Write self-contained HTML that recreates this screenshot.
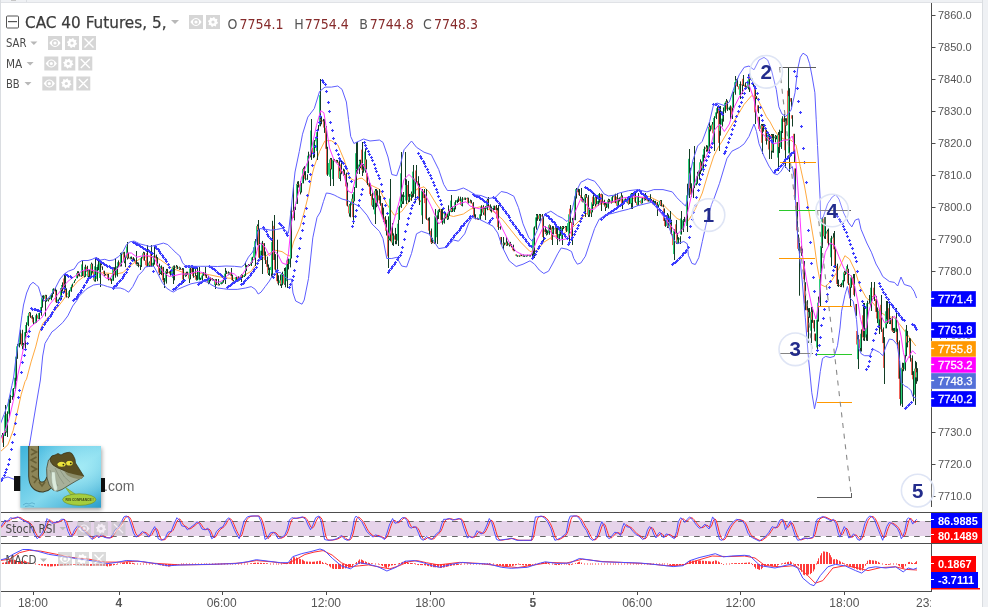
<!DOCTYPE html>
<html><head><meta charset="utf-8"><style>
html,body{margin:0;padding:0;background:#fff;}
#root{position:relative;width:988px;height:607px;overflow:hidden;}
</style></head><body><div id="root">
<svg width="988" height="607" viewBox="0 0 988 607" style="position:absolute;left:0;top:0">
<rect x="0" y="0" width="988" height="607" fill="#ffffff"/>
<rect x="0" y="0" width="988" height="2" fill="#eff1f4"/>
<rect x="0" y="2" width="983" height="1" fill="#e0e2e6"/>
<rect x="11" y="0" width="5" height="1" fill="#c6c6c6"/>
<rect x="26" y="0" width="1" height="2" fill="#dcdfe3"/>
<rect x="0" y="0" width="1" height="607" fill="#dadde1"/>
<rect x="982" y="0" width="1" height="607" fill="#dadde1"/>
<rect x="983" y="0" width="5" height="607" fill="#eff1f4"/>
<defs><clipPath id="cm"><rect x="1" y="3" width="930" height="509"/></clipPath><clipPath id="cs"><rect x="1" y="513" width="930" height="30"/></clipPath><clipPath id="cd"><rect x="1" y="544" width="930" height="47"/></clipPath><filter id="sh" x="-20%" y="-20%" width="140%" height="140%"><feGaussianBlur stdDeviation="2"/></filter></defs>
<g clip-path="url(#cm)">
<polyline points="0.0,451.5 0.7,451.4 7.9,444.8 13.2,430.3 17.1,413.2 21.1,394.8 25.0,381.6 26.5,379.2 31.1,361.9 35.7,346.9 39.2,333.0 42.7,323.8 48.4,316.9 54.2,311.2 61.2,302.7 69.4,291.2 77.7,281.3 85.9,275.0 94.1,273.0 102.0,272.8 109.0,273.3 116.0,274.0 123.0,272.6 128.6,267.0 134.2,262.8 141.2,257.9 148.2,256.5 155.2,257.2 160.8,260.0 166.4,264.2 172.0,268.4 180.0,271.2 184.0,273.0 198.0,273.3 209.2,274.7 219.0,276.8 228.8,278.2 237.2,278.2 244.2,275.4 251.2,271.2 256.8,262.8 262.4,258.6 268.0,254.4 275.0,250.2 282.0,251.6 287.0,255.0 290.0,256.0 293.5,242.0 300.0,227.0 304.2,212.0 308.5,195.0 312.0,175.0 314.3,166.4 319.6,151.4 325.0,140.7 331.4,140.7 337.8,145.0 344.2,160.0 349.8,178.0 354.7,180.7 359.2,178.5 362.0,178.2 369.5,184.4 379.4,189.3 386.8,204.0 394.2,215.2 401.7,211.5 409.0,201.7 416.5,189.3 424.0,186.8 428.8,191.8 436.3,204.0 443.7,214.0 453.5,216.5 463.4,214.0 470.8,209.0 481.5,206.5 493.0,211.2 502.3,219.2 511.5,230.8 520.8,242.3 530.0,251.5 537.0,250.4 543.8,242.3 553.0,236.5 562.3,234.2 571.5,228.5 580.8,219.2 590.0,210.0 599.2,204.2 608.5,203.0 616.0,202.0 623.8,200.0 637.7,197.7 649.2,196.5 660.7,202.3 670.0,211.5 677.0,218.4 683.8,221.9 688.4,220.7 695.3,209.2 702.3,193.0 709.2,170.0 713.8,156.0 718.4,147.0 722.0,141.4 729.4,129.0 736.8,116.7 744.2,104.3 751.6,95.7 756.5,97.0 761.5,106.8 766.4,116.7 770.0,121.8 773.8,129.0 778.8,136.4 783.7,138.9 791.0,140.1 796.0,145.0 800.3,166.6 804.3,185.0 807.0,200.0 809.2,213.0 813.8,240.7 817.2,266.0 820.7,284.5 825.3,286.8 832.2,279.9 839.0,268.3 844.9,255.7 849.5,259.1 854.8,270.0 859.8,286.0 866.4,298.0 873.0,303.0 879.5,311.2 886.1,316.1 894.4,317.8 901.0,326.0 905.9,332.6 910.8,339.2 915.8,346.0" fill="none" stroke="#ffa93f" stroke-width="1" stroke-linejoin="round" />
<rect x="2" y="433.0" width="1" height="4.7" fill="#133d25"/><rect x="1" y="435.1" width="1" height="2.0" fill="#2bd27a"/><rect x="3" y="433.7" width="1" height="13.3" fill="#133d25"/><rect x="2" y="435.1" width="1" height="7.6" fill="#f2645a"/><rect x="5" y="405.0" width="1" height="31.0" fill="#133d25"/><rect x="4" y="415.3" width="1" height="20.7" fill="#2bd27a"/><rect x="6" y="427.5" width="1" height="5.0" fill="#133d25"/><rect x="5" y="430.8" width="1" height="1.0" fill="#f2645a"/><rect x="7" y="411.3" width="1" height="25.7" fill="#133d25"/><rect x="6" y="413.8" width="1" height="17.7" fill="#2bd27a"/><rect x="9" y="398.5" width="1" height="19.0" fill="#133d25"/><rect x="8" y="399.3" width="1" height="14.5" fill="#2bd27a"/><rect x="10" y="394.7" width="1" height="8.3" fill="#133d25"/><rect x="9" y="396.6" width="1" height="2.7" fill="#2bd27a"/><rect x="12" y="393.2" width="1" height="6.5" fill="#133d25"/><rect x="11" y="396.0" width="1" height="1.0" fill="#2bd27a"/><rect x="13" y="388.0" width="1" height="9.4" fill="#133d25"/><rect x="12" y="388.8" width="1" height="7.2" fill="#2bd27a"/><rect x="15" y="375.2" width="1" height="15.6" fill="#133d25"/><rect x="14" y="377.7" width="1" height="11.1" fill="#2bd27a"/><rect x="16" y="353.1" width="1" height="28.0" fill="#133d25"/><rect x="15" y="356.7" width="1" height="21.0" fill="#2bd27a"/><rect x="17" y="344.0" width="1" height="14.8" fill="#133d25"/><rect x="16" y="346.3" width="1" height="10.4" fill="#2bd27a"/><rect x="19" y="339.0" width="1" height="8.4" fill="#133d25"/><rect x="18" y="343.1" width="1" height="3.2" fill="#2bd27a"/><rect x="20" y="329.7" width="1" height="14.7" fill="#133d25"/><rect x="19" y="333.5" width="1" height="9.6" fill="#2bd27a"/><rect x="22" y="329.8" width="1" height="19.4" fill="#133d25"/><rect x="21" y="333.5" width="1" height="12.6" fill="#f2645a"/><rect x="23" y="343.0" width="1" height="6.5" fill="#133d25"/><rect x="22" y="344.9" width="1" height="1.2" fill="#2bd27a"/><rect x="25" y="328.3" width="1" height="20.7" fill="#133d25"/><rect x="24" y="332.1" width="1" height="12.8" fill="#2bd27a"/><rect x="26" y="322.3" width="1" height="10.6" fill="#133d25"/><rect x="25" y="325.0" width="1" height="7.1" fill="#2bd27a"/><rect x="28" y="314.6" width="1" height="11.6" fill="#133d25"/><rect x="27" y="315.8" width="1" height="9.3" fill="#2bd27a"/><rect x="29" y="312.0" width="1" height="4.2" fill="#133d25"/><rect x="28" y="312.9" width="1" height="2.9" fill="#2bd27a"/><rect x="30" y="312.4" width="1" height="5.4" fill="#133d25"/><rect x="29" y="312.9" width="1" height="3.0" fill="#f2645a"/><rect x="32" y="315.1" width="1" height="4.6" fill="#133d25"/><rect x="31" y="315.9" width="1" height="2.8" fill="#f2645a"/><rect x="33" y="317.3" width="1" height="7.1" fill="#133d25"/><rect x="32" y="318.6" width="1" height="3.8" fill="#f2645a"/><rect x="35" y="320.7" width="1" height="2.5" fill="#133d25"/><rect x="34" y="322.4" width="1" height="1.0" fill="#2bd27a"/><rect x="36" y="313.7" width="1" height="9.2" fill="#133d25"/><rect x="35" y="315.3" width="1" height="7.1" fill="#2bd27a"/><rect x="38" y="314.8" width="1" height="4.3" fill="#133d25"/><rect x="37" y="315.3" width="1" height="3.3" fill="#f2645a"/><rect x="39" y="312.7" width="1" height="6.6" fill="#133d25"/><rect x="38" y="313.0" width="1" height="5.7" fill="#2bd27a"/><rect x="41" y="305.3" width="1" height="10.4" fill="#133d25"/><rect x="40" y="307.0" width="1" height="6.0" fill="#2bd27a"/><rect x="42" y="295.6" width="1" height="12.0" fill="#133d25"/><rect x="41" y="297.7" width="1" height="9.3" fill="#2bd27a"/><rect x="43" y="295.2" width="1" height="6.1" fill="#133d25"/><rect x="42" y="297.7" width="1" height="1.0" fill="#f2645a"/><rect x="45" y="294.8" width="1" height="21.6" fill="#133d25"/><rect x="44" y="295.6" width="1" height="3.1" fill="#2bd27a"/><rect x="46" y="294.9" width="1" height="6.8" fill="#133d25"/><rect x="45" y="295.6" width="1" height="5.2" fill="#f2645a"/><rect x="48" y="298.4" width="1" height="3.1" fill="#133d25"/><rect x="47" y="298.8" width="1" height="2.0" fill="#2bd27a"/><rect x="49" y="297.6" width="1" height="1.9" fill="#133d25"/><rect x="48" y="298.8" width="1" height="1.0" fill="#f2645a"/><rect x="51" y="294.5" width="1" height="5.7" fill="#133d25"/><rect x="50" y="295.4" width="1" height="3.7" fill="#2bd27a"/><rect x="52" y="292.9" width="1" height="4.6" fill="#133d25"/><rect x="51" y="293.4" width="1" height="1.9" fill="#2bd27a"/><rect x="53" y="288.3" width="1" height="5.7" fill="#133d25"/><rect x="52" y="288.9" width="1" height="4.6" fill="#2bd27a"/><rect x="55" y="288.0" width="1" height="5.3" fill="#133d25"/><rect x="54" y="288.9" width="1" height="2.4" fill="#f2645a"/><rect x="56" y="289.8" width="1" height="13.1" fill="#133d25"/><rect x="55" y="291.3" width="1" height="10.9" fill="#f2645a"/><rect x="58" y="299.1" width="1" height="2.4" fill="#133d25"/><rect x="57" y="299.7" width="1" height="1.9" fill="#2bd27a"/><rect x="59" y="297.4" width="1" height="2.5" fill="#133d25"/><rect x="58" y="298.7" width="1" height="1.0" fill="#2bd27a"/><rect x="61" y="285.2" width="1" height="14.5" fill="#133d25"/><rect x="60" y="288.0" width="1" height="10.7" fill="#2bd27a"/><rect x="62" y="282.4" width="1" height="9.1" fill="#133d25"/><rect x="61" y="285.3" width="1" height="2.7" fill="#2bd27a"/><rect x="64" y="274.0" width="1" height="18.4" fill="#133d25"/><rect x="63" y="278.5" width="1" height="10.9" fill="#f2645a"/><rect x="65" y="274.0" width="1" height="16.2" fill="#133d25"/><rect x="64" y="289.4" width="1" height="1.0" fill="#f2645a"/><rect x="66" y="288.3" width="1" height="9.2" fill="#133d25"/><rect x="65" y="289.7" width="1" height="6.6" fill="#f2645a"/><rect x="68" y="293.1" width="1" height="5.1" fill="#133d25"/><rect x="67" y="296.3" width="1" height="1.0" fill="#f2645a"/><rect x="69" y="289.9" width="1" height="7.0" fill="#133d25"/><rect x="68" y="291.3" width="1" height="5.5" fill="#2bd27a"/><rect x="71" y="285.4" width="1" height="6.4" fill="#133d25"/><rect x="70" y="287.2" width="1" height="4.1" fill="#2bd27a"/><rect x="72" y="283.6" width="1" height="3.2" fill="#133d25"/><rect x="71" y="284.7" width="1" height="2.1" fill="#2bd27a"/><rect x="74" y="280.7" width="1" height="2.2" fill="#133d25"/><rect x="73" y="282.3" width="1" height="1.0" fill="#2bd27a"/><rect x="75" y="279.0" width="1" height="1.6" fill="#133d25"/><rect x="74" y="280.0" width="1" height="1.0" fill="#2bd27a"/><rect x="77" y="271.2" width="1" height="7.1" fill="#133d25"/><rect x="76" y="273.1" width="1" height="5.3" fill="#2bd27a"/><rect x="78" y="271.2" width="1" height="4.9" fill="#133d25"/><rect x="77" y="273.1" width="1" height="2.3" fill="#f2645a"/><rect x="79" y="273.4" width="1" height="3.0" fill="#133d25"/><rect x="78" y="275.3" width="1" height="1.0" fill="#f2645a"/><rect x="81" y="273.5" width="1" height="3.2" fill="#133d25"/><rect x="80" y="275.5" width="1" height="1.0" fill="#f2645a"/><rect x="82" y="260.0" width="1" height="16.1" fill="#133d25"/><rect x="81" y="264.4" width="1" height="11.3" fill="#2bd27a"/><rect x="84" y="269.3" width="1" height="8.1" fill="#133d25"/><rect x="83" y="271.0" width="1" height="5.0" fill="#f2645a"/><rect x="85" y="264.7" width="1" height="12.1" fill="#133d25"/><rect x="84" y="266.8" width="1" height="9.2" fill="#2bd27a"/><rect x="87" y="265.8" width="1" height="7.0" fill="#133d25"/><rect x="86" y="266.8" width="1" height="5.1" fill="#f2645a"/><rect x="88" y="270.4" width="1" height="9.6" fill="#133d25"/><rect x="87" y="271.1" width="1" height="5.7" fill="#2bd27a"/><rect x="89" y="269.6" width="1" height="8.0" fill="#133d25"/><rect x="88" y="271.1" width="1" height="4.8" fill="#f2645a"/><rect x="91" y="262.6" width="1" height="15.0" fill="#133d25"/><rect x="90" y="264.2" width="1" height="11.8" fill="#2bd27a"/><rect x="92" y="263.7" width="1" height="9.1" fill="#133d25"/><rect x="91" y="264.2" width="1" height="7.1" fill="#f2645a"/><rect x="94" y="270.3" width="1" height="11.1" fill="#133d25"/><rect x="93" y="271.3" width="1" height="9.0" fill="#f2645a"/><rect x="95" y="258.0" width="1" height="23.7" fill="#133d25"/><rect x="94" y="266.3" width="1" height="14.0" fill="#2bd27a"/><rect x="97" y="266.1" width="1" height="15.0" fill="#133d25"/><rect x="96" y="267.0" width="1" height="11.8" fill="#2bd27a"/><rect x="98" y="258.0" width="1" height="12.2" fill="#133d25"/><rect x="97" y="264.5" width="1" height="2.4" fill="#2bd27a"/><rect x="100" y="260.1" width="1" height="26.9" fill="#133d25"/><rect x="99" y="261.4" width="1" height="16.6" fill="#2bd27a"/><rect x="101" y="262.1" width="1" height="3.1" fill="#133d25"/><rect x="100" y="262.1" width="1" height="1.2" fill="#f2645a"/><rect x="102" y="266.4" width="1" height="3.5" fill="#133d25"/><rect x="101" y="266.4" width="1" height="1.0" fill="#f2645a"/><rect x="104" y="270.7" width="1" height="5.4" fill="#133d25"/><rect x="103" y="270.7" width="1" height="3.6" fill="#f2645a"/><rect x="105" y="274.0" width="1" height="1.5" fill="#133d25"/><rect x="104" y="274.3" width="1" height="1.0" fill="#f2645a"/><rect x="107" y="274.0" width="1" height="1.5" fill="#133d25"/><rect x="106" y="274.5" width="1" height="1.0" fill="#f2645a"/><rect x="108" y="274.0" width="1" height="6.4" fill="#133d25"/><rect x="107" y="274.5" width="1" height="4.6" fill="#f2645a"/><rect x="110" y="277.8" width="1" height="2.9" fill="#133d25"/><rect x="109" y="279.1" width="1" height="1.0" fill="#f2645a"/><rect x="111" y="278.7" width="1" height="5.3" fill="#133d25"/><rect x="110" y="279.5" width="1" height="1.6" fill="#f2645a"/><rect x="113" y="267.3" width="1" height="13.5" fill="#133d25"/><rect x="112" y="268.8" width="1" height="12.0" fill="#2bd27a"/><rect x="114" y="267.2" width="1" height="5.5" fill="#133d25"/><rect x="113" y="268.8" width="1" height="2.6" fill="#f2645a"/><rect x="115" y="258.6" width="1" height="19.1" fill="#133d25"/><rect x="114" y="271.4" width="1" height="3.9" fill="#f2645a"/><rect x="117" y="265.8" width="1" height="10.8" fill="#133d25"/><rect x="116" y="266.3" width="1" height="9.0" fill="#2bd27a"/><rect x="118" y="260.4" width="1" height="6.5" fill="#133d25"/><rect x="117" y="262.2" width="1" height="4.1" fill="#2bd27a"/><rect x="120" y="252.9" width="1" height="13.5" fill="#133d25"/><rect x="119" y="262.2" width="1" height="3.1" fill="#f2645a"/><rect x="121" y="252.6" width="1" height="13.8" fill="#133d25"/><rect x="120" y="253.7" width="1" height="11.6" fill="#2bd27a"/><rect x="123" y="252.3" width="1" height="2.5" fill="#133d25"/><rect x="122" y="253.4" width="1" height="1.0" fill="#2bd27a"/><rect x="124" y="251.8" width="1" height="11.4" fill="#133d25"/><rect x="123" y="253.4" width="1" height="7.9" fill="#f2645a"/><rect x="125" y="255.9" width="1" height="11.2" fill="#133d25"/><rect x="124" y="257.9" width="1" height="3.4" fill="#2bd27a"/><rect x="127" y="242.0" width="1" height="17.5" fill="#133d25"/><rect x="126" y="246.5" width="1" height="11.4" fill="#2bd27a"/><rect x="128" y="252.8" width="1" height="5.7" fill="#133d25"/><rect x="127" y="253.2" width="1" height="4.5" fill="#f2645a"/><rect x="130" y="256.8" width="1" height="2.5" fill="#133d25"/><rect x="129" y="257.7" width="1" height="1.0" fill="#f2645a"/><rect x="131" y="256.5" width="1" height="2.8" fill="#133d25"/><rect x="130" y="257.7" width="1" height="1.0" fill="#2bd27a"/><rect x="133" y="257.1" width="1" height="4.0" fill="#133d25"/><rect x="132" y="257.7" width="1" height="3.0" fill="#f2645a"/><rect x="134" y="258.5" width="1" height="3.0" fill="#133d25"/><rect x="133" y="260.2" width="1" height="1.0" fill="#2bd27a"/><rect x="136" y="251.0" width="1" height="14.3" fill="#133d25"/><rect x="135" y="260.2" width="1" height="4.1" fill="#f2645a"/><rect x="137" y="262.2" width="1" height="3.6" fill="#133d25"/><rect x="136" y="264.0" width="1" height="1.0" fill="#2bd27a"/><rect x="138" y="262.6" width="1" height="4.6" fill="#133d25"/><rect x="137" y="264.0" width="1" height="1.0" fill="#f2645a"/><rect x="140" y="263.3" width="1" height="6.7" fill="#133d25"/><rect x="139" y="264.8" width="1" height="1.0" fill="#f2645a"/><rect x="141" y="257.0" width="1" height="10.0" fill="#133d25"/><rect x="140" y="258.3" width="1" height="6.9" fill="#2bd27a"/><rect x="143" y="251.7" width="1" height="8.1" fill="#133d25"/><rect x="142" y="253.3" width="1" height="5.1" fill="#2bd27a"/><rect x="144" y="252.2" width="1" height="8.6" fill="#133d25"/><rect x="143" y="253.3" width="1" height="7.1" fill="#f2645a"/><rect x="146" y="259.4" width="1" height="7.0" fill="#133d25"/><rect x="145" y="260.3" width="1" height="5.0" fill="#f2645a"/><rect x="147" y="245.0" width="1" height="22.0" fill="#133d25"/><rect x="146" y="253.1" width="1" height="12.8" fill="#f2645a"/><rect x="149" y="261.4" width="1" height="5.6" fill="#133d25"/><rect x="148" y="262.6" width="1" height="3.3" fill="#2bd27a"/><rect x="150" y="261.0" width="1" height="5.3" fill="#133d25"/><rect x="149" y="262.6" width="1" height="2.5" fill="#f2645a"/><rect x="151" y="245.0" width="1" height="22.0" fill="#133d25"/><rect x="150" y="253.0" width="1" height="12.9" fill="#f2645a"/><rect x="153" y="261.5" width="1" height="4.9" fill="#133d25"/><rect x="152" y="262.8" width="1" height="3.1" fill="#2bd27a"/><rect x="154" y="246.7" width="1" height="17.9" fill="#133d25"/><rect x="153" y="255.7" width="1" height="7.1" fill="#2bd27a"/><rect x="156" y="254.6" width="1" height="4.5" fill="#133d25"/><rect x="155" y="255.7" width="1" height="2.7" fill="#f2645a"/><rect x="157" y="257.1" width="1" height="9.5" fill="#133d25"/><rect x="156" y="258.4" width="1" height="7.2" fill="#f2645a"/><rect x="159" y="263.6" width="1" height="11.5" fill="#133d25"/><rect x="158" y="265.6" width="1" height="7.1" fill="#f2645a"/><rect x="160" y="271.1" width="1" height="2.9" fill="#133d25"/><rect x="159" y="272.6" width="1" height="1.0" fill="#f2645a"/><rect x="161" y="265.4" width="1" height="9.7" fill="#133d25"/><rect x="160" y="266.2" width="1" height="6.5" fill="#2bd27a"/><rect x="163" y="266.9" width="1" height="15.4" fill="#133d25"/><rect x="162" y="266.9" width="1" height="13.4" fill="#f2645a"/><rect x="164" y="278.1" width="1" height="9.9" fill="#133d25"/><rect x="163" y="280.3" width="1" height="1.2" fill="#f2645a"/><rect x="166" y="268.9" width="1" height="14.7" fill="#133d25"/><rect x="165" y="270.9" width="1" height="10.6" fill="#2bd27a"/><rect x="167" y="268.9" width="1" height="4.7" fill="#133d25"/><rect x="166" y="270.9" width="1" height="1.0" fill="#f2645a"/><rect x="169" y="271.3" width="1" height="2.4" fill="#133d25"/><rect x="168" y="271.9" width="1" height="1.0" fill="#f2645a"/><rect x="170" y="270.6" width="1" height="5.1" fill="#133d25"/><rect x="169" y="272.7" width="1" height="1.5" fill="#f2645a"/><rect x="172" y="267.8" width="1" height="6.7" fill="#133d25"/><rect x="171" y="269.2" width="1" height="4.9" fill="#2bd27a"/><rect x="173" y="265.7" width="1" height="18.3" fill="#133d25"/><rect x="172" y="266.6" width="1" height="11.5" fill="#2bd27a"/><rect x="174" y="265.4" width="1" height="14.9" fill="#133d25"/><rect x="173" y="266.6" width="1" height="1.0" fill="#f2645a"/><rect x="176" y="265.0" width="1" height="3.4" fill="#133d25"/><rect x="175" y="266.7" width="1" height="1.0" fill="#2bd27a"/><rect x="177" y="265.8" width="1" height="3.3" fill="#133d25"/><rect x="176" y="266.7" width="1" height="1.5" fill="#f2645a"/><rect x="179" y="266.7" width="1" height="3.1" fill="#133d25"/><rect x="178" y="267.4" width="1" height="1.0" fill="#2bd27a"/><rect x="180" y="267.5" width="1" height="2.2" fill="#133d25"/><rect x="179" y="267.5" width="1" height="1.4" fill="#f2645a"/><rect x="182" y="268.0" width="1" height="3.1" fill="#133d25"/><rect x="181" y="269.0" width="1" height="1.0" fill="#f2645a"/><rect x="183" y="268.2" width="1" height="14.8" fill="#133d25"/><rect x="182" y="269.7" width="1" height="9.7" fill="#f2645a"/><rect x="185" y="273.2" width="1" height="3.6" fill="#133d25"/><rect x="184" y="274.0" width="1" height="1.5" fill="#f2645a"/><rect x="186" y="271.7" width="1" height="4.5" fill="#133d25"/><rect x="185" y="273.6" width="1" height="1.9" fill="#2bd27a"/><rect x="187" y="271.7" width="1" height="3.1" fill="#133d25"/><rect x="186" y="273.6" width="1" height="1.0" fill="#f2645a"/><rect x="189" y="273.3" width="1" height="9.7" fill="#133d25"/><rect x="188" y="274.4" width="1" height="4.2" fill="#f2645a"/><rect x="190" y="267.5" width="1" height="11.8" fill="#133d25"/><rect x="189" y="268.4" width="1" height="10.2" fill="#2bd27a"/><rect x="192" y="267.2" width="1" height="5.8" fill="#133d25"/><rect x="191" y="268.4" width="1" height="4.1" fill="#f2645a"/><rect x="193" y="267.0" width="1" height="10.8" fill="#133d25"/><rect x="192" y="272.5" width="1" height="3.6" fill="#f2645a"/><rect x="195" y="267.0" width="1" height="9.6" fill="#133d25"/><rect x="194" y="276.1" width="1" height="1.0" fill="#f2645a"/><rect x="196" y="275.2" width="1" height="5.3" fill="#133d25"/><rect x="195" y="276.3" width="1" height="3.5" fill="#f2645a"/><rect x="197" y="267.0" width="1" height="13.3" fill="#133d25"/><rect x="196" y="279.6" width="1" height="1.0" fill="#2bd27a"/><rect x="199" y="267.0" width="1" height="13.0" fill="#133d25"/><rect x="198" y="271.9" width="1" height="7.6" fill="#2bd27a"/><rect x="200" y="277.7" width="1" height="2.3" fill="#133d25"/><rect x="199" y="279.4" width="1" height="1.0" fill="#2bd27a"/><rect x="202" y="274.6" width="1" height="5.4" fill="#133d25"/><rect x="201" y="275.5" width="1" height="3.8" fill="#2bd27a"/><rect x="203" y="272.0" width="1" height="3.8" fill="#133d25"/><rect x="202" y="272.7" width="1" height="2.8" fill="#2bd27a"/><rect x="205" y="267.0" width="1" height="9.4" fill="#133d25"/><rect x="204" y="272.7" width="1" height="2.9" fill="#f2645a"/><rect x="206" y="274.6" width="1" height="3.4" fill="#133d25"/><rect x="205" y="275.7" width="1" height="1.9" fill="#f2645a"/><rect x="208" y="275.8" width="1" height="8.4" fill="#133d25"/><rect x="207" y="277.5" width="1" height="5.2" fill="#f2645a"/><rect x="209" y="278.4" width="1" height="5.3" fill="#133d25"/><rect x="208" y="280.0" width="1" height="2.7" fill="#2bd27a"/><rect x="210" y="277.4" width="1" height="3.8" fill="#133d25"/><rect x="209" y="277.7" width="1" height="2.3" fill="#2bd27a"/><rect x="212" y="278.2" width="1" height="2.1" fill="#133d25"/><rect x="211" y="278.2" width="1" height="1.8" fill="#f2645a"/><rect x="213" y="279.1" width="1" height="1.6" fill="#133d25"/><rect x="212" y="279.5" width="1" height="1.0" fill="#2bd27a"/><rect x="215" y="279.0" width="1" height="10.0" fill="#133d25"/><rect x="214" y="279.5" width="1" height="5.7" fill="#2bd27a"/><rect x="216" y="279.0" width="1" height="6.0" fill="#133d25"/><rect x="215" y="279.5" width="1" height="4.8" fill="#f2645a"/><rect x="218" y="279.0" width="1" height="6.4" fill="#133d25"/><rect x="217" y="284.2" width="1" height="1.0" fill="#f2645a"/><rect x="219" y="283.9" width="1" height="1.5" fill="#133d25"/><rect x="218" y="284.2" width="1" height="1.0" fill="#2bd27a"/><rect x="221" y="282.1" width="1" height="2.2" fill="#133d25"/><rect x="220" y="282.3" width="1" height="1.8" fill="#2bd27a"/><rect x="222" y="282.2" width="1" height="1.5" fill="#133d25"/><rect x="221" y="282.3" width="1" height="1.0" fill="#2bd27a"/><rect x="223" y="280.0" width="1" height="2.6" fill="#133d25"/><rect x="222" y="280.2" width="1" height="2.0" fill="#2bd27a"/><rect x="225" y="268.0" width="1" height="16.0" fill="#133d25"/><rect x="224" y="273.6" width="1" height="6.7" fill="#2bd27a"/><rect x="226" y="270.8" width="1" height="3.2" fill="#133d25"/><rect x="225" y="272.5" width="1" height="1.1" fill="#2bd27a"/><rect x="228" y="271.4" width="1" height="3.8" fill="#133d25"/><rect x="227" y="272.5" width="1" height="1.2" fill="#f2645a"/><rect x="229" y="272.4" width="1" height="2.1" fill="#133d25"/><rect x="228" y="273.1" width="1" height="1.0" fill="#2bd27a"/><rect x="231" y="268.0" width="1" height="9.2" fill="#133d25"/><rect x="230" y="273.1" width="1" height="2.7" fill="#f2645a"/><rect x="232" y="274.7" width="1" height="5.9" fill="#133d25"/><rect x="231" y="275.9" width="1" height="4.2" fill="#f2645a"/><rect x="233" y="279.9" width="1" height="1.6" fill="#133d25"/><rect x="232" y="280.1" width="1" height="1.0" fill="#f2645a"/><rect x="235" y="279.9" width="1" height="2.1" fill="#133d25"/><rect x="234" y="281.0" width="1" height="1.0" fill="#f2645a"/><rect x="236" y="276.8" width="1" height="5.2" fill="#133d25"/><rect x="235" y="277.1" width="1" height="4.5" fill="#2bd27a"/><rect x="238" y="276.3" width="1" height="5.0" fill="#133d25"/><rect x="237" y="277.1" width="1" height="3.3" fill="#f2645a"/><rect x="239" y="277.3" width="1" height="3.3" fill="#133d25"/><rect x="238" y="278.0" width="1" height="2.4" fill="#2bd27a"/><rect x="241" y="274.3" width="1" height="7.7" fill="#133d25"/><rect x="240" y="275.4" width="1" height="2.6" fill="#2bd27a"/><rect x="242" y="274.7" width="1" height="3.2" fill="#133d25"/><rect x="241" y="275.4" width="1" height="1.8" fill="#f2645a"/><rect x="244" y="274.6" width="1" height="2.4" fill="#133d25"/><rect x="243" y="275.7" width="1" height="1.2" fill="#2bd27a"/><rect x="245" y="261.9" width="1" height="14.0" fill="#133d25"/><rect x="244" y="274.2" width="1" height="1.6" fill="#2bd27a"/><rect x="246" y="265.1" width="1" height="6.0" fill="#133d25"/><rect x="245" y="266.9" width="1" height="4.2" fill="#2bd27a"/><rect x="248" y="264.2" width="1" height="2.1" fill="#133d25"/><rect x="247" y="265.2" width="1" height="1.1" fill="#2bd27a"/><rect x="249" y="264.5" width="1" height="1.5" fill="#133d25"/><rect x="248" y="265.2" width="1" height="1.0" fill="#f2645a"/><rect x="251" y="261.1" width="1" height="4.9" fill="#133d25"/><rect x="250" y="262.4" width="1" height="2.9" fill="#2bd27a"/><rect x="252" y="256.8" width="1" height="6.0" fill="#133d25"/><rect x="251" y="257.5" width="1" height="5.0" fill="#2bd27a"/><rect x="254" y="246.3" width="1" height="13.0" fill="#133d25"/><rect x="253" y="247.2" width="1" height="10.3" fill="#2bd27a"/><rect x="255" y="239.1" width="1" height="26.9" fill="#133d25"/><rect x="254" y="241.2" width="1" height="17.2" fill="#2bd27a"/><rect x="257" y="224.4" width="1" height="20.9" fill="#133d25"/><rect x="256" y="226.1" width="1" height="15.1" fill="#2bd27a"/><rect x="258" y="220.0" width="1" height="15.8" fill="#133d25"/><rect x="257" y="226.1" width="1" height="4.1" fill="#f2645a"/><rect x="259" y="229.0" width="1" height="30.4" fill="#133d25"/><rect x="258" y="230.2" width="1" height="27.4" fill="#f2645a"/><rect x="261" y="249.4" width="1" height="10.5" fill="#133d25"/><rect x="260" y="250.7" width="1" height="6.8" fill="#2bd27a"/><rect x="262" y="240.9" width="1" height="33.1" fill="#133d25"/><rect x="261" y="242.6" width="1" height="8.1" fill="#2bd27a"/><rect x="264" y="243.1" width="1" height="16.4" fill="#133d25"/><rect x="263" y="243.1" width="1" height="12.5" fill="#f2645a"/><rect x="265" y="251.5" width="1" height="12.5" fill="#133d25"/><rect x="264" y="255.6" width="1" height="4.5" fill="#f2645a"/><rect x="267" y="256.6" width="1" height="11.0" fill="#133d25"/><rect x="266" y="260.1" width="1" height="6.7" fill="#f2645a"/><rect x="268" y="264.4" width="1" height="10.6" fill="#133d25"/><rect x="267" y="266.7" width="1" height="6.6" fill="#f2645a"/><rect x="269" y="267.7" width="1" height="8.2" fill="#133d25"/><rect x="268" y="270.0" width="1" height="3.3" fill="#2bd27a"/><rect x="271" y="265.2" width="1" height="11.6" fill="#133d25"/><rect x="270" y="266.9" width="1" height="3.1" fill="#2bd27a"/><rect x="272" y="220.8" width="1" height="57.2" fill="#133d25"/><rect x="271" y="241.9" width="1" height="31.6" fill="#2bd27a"/><rect x="274" y="215.0" width="1" height="48.3" fill="#133d25"/><rect x="273" y="225.8" width="1" height="34.2" fill="#f2645a"/><rect x="275" y="254.1" width="1" height="16.5" fill="#133d25"/><rect x="274" y="259.9" width="1" height="9.6" fill="#f2645a"/><rect x="277" y="239.7" width="1" height="43.7" fill="#133d25"/><rect x="276" y="269.5" width="1" height="11.7" fill="#f2645a"/><rect x="278" y="275.3" width="1" height="10.0" fill="#133d25"/><rect x="277" y="281.2" width="1" height="1.8" fill="#f2645a"/><rect x="280" y="274.5" width="1" height="11.3" fill="#133d25"/><rect x="279" y="280.3" width="1" height="2.7" fill="#2bd27a"/><rect x="281" y="278.0" width="1" height="10.0" fill="#133d25"/><rect x="280" y="280.3" width="1" height="3.9" fill="#f2645a"/><rect x="282" y="271.7" width="1" height="13.5" fill="#133d25"/><rect x="281" y="274.0" width="1" height="10.2" fill="#2bd27a"/><rect x="284" y="268.0" width="1" height="16.7" fill="#133d25"/><rect x="283" y="274.0" width="1" height="9.6" fill="#f2645a"/><rect x="285" y="267.3" width="1" height="20.0" fill="#133d25"/><rect x="284" y="271.0" width="1" height="12.7" fill="#2bd27a"/><rect x="287" y="257.2" width="1" height="30.8" fill="#133d25"/><rect x="286" y="260.6" width="1" height="20.6" fill="#2bd27a"/><rect x="288" y="258.6" width="1" height="10.8" fill="#133d25"/><rect x="287" y="260.6" width="1" height="3.4" fill="#f2645a"/><rect x="290" y="253.5" width="1" height="13.9" fill="#133d25"/><rect x="289" y="258.8" width="1" height="5.2" fill="#2bd27a"/><rect x="291" y="206.3" width="1" height="52.2" fill="#133d25"/><rect x="290" y="210.7" width="1" height="47.8" fill="#2bd27a"/><rect x="293" y="185.4" width="1" height="26.9" fill="#133d25"/><rect x="292" y="210.7" width="1" height="1.0" fill="#f2645a"/><rect x="294" y="207.3" width="1" height="13.1" fill="#133d25"/><rect x="293" y="210.9" width="1" height="7.2" fill="#f2645a"/><rect x="295" y="206.5" width="1" height="3.4" fill="#133d25"/><rect x="294" y="208.2" width="1" height="1.7" fill="#2bd27a"/><rect x="297" y="181.5" width="1" height="22.4" fill="#133d25"/><rect x="296" y="183.9" width="1" height="20.1" fill="#2bd27a"/><rect x="298" y="181.1" width="1" height="6.4" fill="#133d25"/><rect x="297" y="183.9" width="1" height="1.0" fill="#f2645a"/><rect x="300" y="181.2" width="1" height="13.2" fill="#133d25"/><rect x="299" y="184.6" width="1" height="6.9" fill="#f2645a"/><rect x="301" y="183.0" width="1" height="9.5" fill="#133d25"/><rect x="300" y="185.6" width="1" height="6.0" fill="#2bd27a"/><rect x="303" y="167.6" width="1" height="15.8" fill="#133d25"/><rect x="302" y="168.9" width="1" height="14.5" fill="#2bd27a"/><rect x="304" y="166.2" width="1" height="10.8" fill="#133d25"/><rect x="303" y="168.9" width="1" height="6.4" fill="#f2645a"/><rect x="305" y="171.1" width="1" height="9.3" fill="#133d25"/><rect x="304" y="175.2" width="1" height="3.6" fill="#f2645a"/><rect x="307" y="174.3" width="1" height="5.5" fill="#133d25"/><rect x="306" y="178.5" width="1" height="1.0" fill="#2bd27a"/><rect x="308" y="151.7" width="1" height="21.4" fill="#133d25"/><rect x="307" y="155.7" width="1" height="17.4" fill="#2bd27a"/><rect x="310" y="153.2" width="1" height="4.1" fill="#133d25"/><rect x="309" y="154.5" width="1" height="1.2" fill="#2bd27a"/><rect x="311" y="119.0" width="1" height="40.9" fill="#133d25"/><rect x="310" y="130.5" width="1" height="24.0" fill="#2bd27a"/><rect x="313" y="145.7" width="1" height="12.4" fill="#133d25"/><rect x="312" y="147.8" width="1" height="5.7" fill="#f2645a"/><rect x="314" y="140.0" width="1" height="17.3" fill="#133d25"/><rect x="313" y="141.3" width="1" height="12.2" fill="#2bd27a"/><rect x="316" y="136.1" width="1" height="7.0" fill="#133d25"/><rect x="315" y="137.6" width="1" height="3.7" fill="#2bd27a"/><rect x="317" y="128.9" width="1" height="31.1" fill="#133d25"/><rect x="316" y="132.2" width="1" height="18.9" fill="#2bd27a"/><rect x="318" y="125.0" width="1" height="5.9" fill="#133d25"/><rect x="317" y="129.0" width="1" height="1.9" fill="#2bd27a"/><rect x="320" y="79.0" width="1" height="47.3" fill="#133d25"/><rect x="319" y="95.2" width="1" height="31.1" fill="#2bd27a"/><rect x="321" y="116.4" width="1" height="7.9" fill="#133d25"/><rect x="320" y="119.5" width="1" height="1.0" fill="#f2645a"/><rect x="323" y="118.9" width="1" height="4.3" fill="#133d25"/><rect x="322" y="120.3" width="1" height="1.1" fill="#f2645a"/><rect x="324" y="119.1" width="1" height="13.8" fill="#133d25"/><rect x="323" y="121.3" width="1" height="6.3" fill="#f2645a"/><rect x="326" y="126.0" width="1" height="24.9" fill="#133d25"/><rect x="325" y="127.7" width="1" height="21.1" fill="#f2645a"/><rect x="327" y="146.8" width="1" height="29.1" fill="#133d25"/><rect x="326" y="148.8" width="1" height="25.8" fill="#f2645a"/><rect x="329" y="161.7" width="1" height="13.5" fill="#133d25"/><rect x="328" y="163.0" width="1" height="11.6" fill="#2bd27a"/><rect x="330" y="158.0" width="1" height="28.0" fill="#133d25"/><rect x="329" y="159.4" width="1" height="17.4" fill="#2bd27a"/><rect x="331" y="158.0" width="1" height="11.4" fill="#133d25"/><rect x="330" y="159.4" width="1" height="9.4" fill="#f2645a"/><rect x="333" y="159.0" width="1" height="27.0" fill="#133d25"/><rect x="332" y="159.8" width="1" height="19.3" fill="#2bd27a"/><rect x="334" y="159.1" width="1" height="2.1" fill="#133d25"/><rect x="333" y="159.8" width="1" height="1.0" fill="#f2645a"/><rect x="336" y="159.9" width="1" height="2.8" fill="#133d25"/><rect x="335" y="160.3" width="1" height="1.0" fill="#f2645a"/><rect x="337" y="160.0" width="1" height="2.7" fill="#133d25"/><rect x="336" y="160.9" width="1" height="1.0" fill="#f2645a"/><rect x="339" y="160.1" width="1" height="18.8" fill="#133d25"/><rect x="338" y="161.8" width="1" height="16.5" fill="#f2645a"/><rect x="340" y="169.8" width="1" height="11.3" fill="#133d25"/><rect x="339" y="171.2" width="1" height="7.1" fill="#2bd27a"/><rect x="341" y="160.0" width="1" height="14.2" fill="#133d25"/><rect x="340" y="164.5" width="1" height="8.7" fill="#f2645a"/><rect x="343" y="168.6" width="1" height="7.0" fill="#133d25"/><rect x="342" y="171.1" width="1" height="2.1" fill="#2bd27a"/><rect x="344" y="169.5" width="1" height="5.6" fill="#133d25"/><rect x="343" y="171.1" width="1" height="2.7" fill="#f2645a"/><rect x="346" y="172.6" width="1" height="16.4" fill="#133d25"/><rect x="345" y="173.9" width="1" height="12.5" fill="#f2645a"/><rect x="347" y="182.5" width="1" height="23.9" fill="#133d25"/><rect x="346" y="186.4" width="1" height="19.2" fill="#f2645a"/><rect x="349" y="204.2" width="1" height="12.4" fill="#133d25"/><rect x="348" y="205.6" width="1" height="7.8" fill="#f2645a"/><rect x="350" y="202.2" width="1" height="15.1" fill="#133d25"/><rect x="349" y="205.2" width="1" height="8.2" fill="#2bd27a"/><rect x="352" y="194.2" width="1" height="14.4" fill="#133d25"/><rect x="351" y="198.7" width="1" height="6.6" fill="#2bd27a"/><rect x="353" y="195.1" width="1" height="28.9" fill="#133d25"/><rect x="352" y="198.7" width="1" height="18.4" fill="#f2645a"/><rect x="354" y="187.0" width="1" height="14.3" fill="#133d25"/><rect x="353" y="192.1" width="1" height="9.1" fill="#2bd27a"/><rect x="356" y="142.0" width="1" height="45.9" fill="#133d25"/><rect x="355" y="153.2" width="1" height="34.7" fill="#2bd27a"/><rect x="357" y="142.0" width="1" height="31.7" fill="#133d25"/><rect x="356" y="168.9" width="1" height="1.1" fill="#2bd27a"/><rect x="359" y="159.8" width="1" height="14.2" fill="#133d25"/><rect x="358" y="164.6" width="1" height="4.3" fill="#2bd27a"/><rect x="360" y="159.7" width="1" height="8.5" fill="#133d25"/><rect x="359" y="160.9" width="1" height="3.7" fill="#2bd27a"/><rect x="362" y="142.0" width="1" height="34.0" fill="#133d25"/><rect x="361" y="149.6" width="1" height="20.1" fill="#f2645a"/><rect x="363" y="164.0" width="1" height="8.7" fill="#133d25"/><rect x="362" y="169.6" width="1" height="1.0" fill="#f2645a"/><rect x="365" y="149.1" width="1" height="23.5" fill="#133d25"/><rect x="364" y="151.6" width="1" height="19.1" fill="#2bd27a"/><rect x="366" y="159.5" width="1" height="9.9" fill="#133d25"/><rect x="365" y="159.5" width="1" height="8.6" fill="#f2645a"/><rect x="367" y="173.4" width="1" height="11.7" fill="#133d25"/><rect x="366" y="173.4" width="1" height="9.9" fill="#f2645a"/><rect x="369" y="182.0" width="1" height="7.2" fill="#133d25"/><rect x="368" y="183.2" width="1" height="3.3" fill="#f2645a"/><rect x="370" y="183.6" width="1" height="12.4" fill="#133d25"/><rect x="369" y="186.6" width="1" height="7.5" fill="#f2645a"/><rect x="372" y="192.6" width="1" height="14.2" fill="#133d25"/><rect x="371" y="194.0" width="1" height="11.5" fill="#f2645a"/><rect x="373" y="198.3" width="1" height="11.2" fill="#133d25"/><rect x="372" y="199.7" width="1" height="5.8" fill="#2bd27a"/><rect x="375" y="189.0" width="1" height="35.0" fill="#133d25"/><rect x="374" y="190.8" width="1" height="23.5" fill="#2bd27a"/><rect x="376" y="189.0" width="1" height="18.2" fill="#133d25"/><rect x="375" y="190.8" width="1" height="12.0" fill="#f2645a"/><rect x="377" y="190.5" width="1" height="15.6" fill="#133d25"/><rect x="376" y="195.4" width="1" height="7.4" fill="#2bd27a"/><rect x="379" y="189.0" width="1" height="14.4" fill="#133d25"/><rect x="378" y="195.4" width="1" height="4.9" fill="#f2645a"/><rect x="380" y="195.9" width="1" height="9.8" fill="#133d25"/><rect x="379" y="200.3" width="1" height="2.5" fill="#f2645a"/><rect x="382" y="203.1" width="1" height="13.7" fill="#133d25"/><rect x="381" y="203.1" width="1" height="11.4" fill="#f2645a"/><rect x="383" y="207.6" width="1" height="14.3" fill="#133d25"/><rect x="382" y="214.5" width="1" height="2.9" fill="#f2645a"/><rect x="385" y="216.1" width="1" height="9.8" fill="#133d25"/><rect x="384" y="217.4" width="1" height="6.5" fill="#f2645a"/><rect x="386" y="219.8" width="1" height="15.7" fill="#133d25"/><rect x="385" y="223.9" width="1" height="7.0" fill="#f2645a"/><rect x="388" y="216.3" width="1" height="51.7" fill="#133d25"/><rect x="387" y="230.9" width="1" height="25.5" fill="#f2645a"/><rect x="389" y="236.1" width="1" height="4.2" fill="#133d25"/><rect x="388" y="238.7" width="1" height="1.0" fill="#2bd27a"/><rect x="390" y="179.0" width="1" height="62.3" fill="#133d25"/><rect x="389" y="198.6" width="1" height="40.0" fill="#2bd27a"/><rect x="392" y="223.0" width="1" height="22.1" fill="#133d25"/><rect x="391" y="228.1" width="1" height="14.5" fill="#f2645a"/><rect x="393" y="233.4" width="1" height="12.6" fill="#133d25"/><rect x="392" y="235.5" width="1" height="7.1" fill="#2bd27a"/><rect x="395" y="227.9" width="1" height="16.3" fill="#133d25"/><rect x="394" y="235.5" width="1" height="4.1" fill="#f2645a"/><rect x="396" y="233.9" width="1" height="10.3" fill="#133d25"/><rect x="395" y="239.7" width="1" height="1.2" fill="#f2645a"/><rect x="398" y="219.1" width="1" height="26.9" fill="#133d25"/><rect x="397" y="223.7" width="1" height="16.8" fill="#2bd27a"/><rect x="399" y="205.7" width="1" height="14.2" fill="#133d25"/><rect x="398" y="207.2" width="1" height="12.8" fill="#2bd27a"/><rect x="401" y="152.0" width="1" height="55.9" fill="#133d25"/><rect x="400" y="173.3" width="1" height="33.9" fill="#2bd27a"/><rect x="402" y="194.5" width="1" height="9.5" fill="#133d25"/><rect x="401" y="201.4" width="1" height="2.6" fill="#2bd27a"/><rect x="403" y="192.0" width="1" height="12.0" fill="#133d25"/><rect x="402" y="196.9" width="1" height="4.5" fill="#2bd27a"/><rect x="405" y="152.0" width="1" height="47.8" fill="#133d25"/><rect x="404" y="195.4" width="1" height="1.5" fill="#2bd27a"/><rect x="406" y="179.3" width="1" height="24.7" fill="#133d25"/><rect x="405" y="185.0" width="1" height="15.5" fill="#2bd27a"/><rect x="408" y="180.9" width="1" height="21.3" fill="#133d25"/><rect x="407" y="185.0" width="1" height="15.2" fill="#f2645a"/><rect x="409" y="194.0" width="1" height="8.0" fill="#133d25"/><rect x="408" y="196.7" width="1" height="3.5" fill="#2bd27a"/><rect x="411" y="191.5" width="1" height="9.3" fill="#133d25"/><rect x="410" y="193.7" width="1" height="3.0" fill="#2bd27a"/><rect x="412" y="189.2" width="1" height="8.5" fill="#133d25"/><rect x="411" y="193.7" width="1" height="1.0" fill="#f2645a"/><rect x="413" y="165.0" width="1" height="31.9" fill="#133d25"/><rect x="412" y="171.6" width="1" height="22.2" fill="#2bd27a"/><rect x="415" y="175.0" width="1" height="27.0" fill="#133d25"/><rect x="414" y="178.6" width="1" height="15.2" fill="#2bd27a"/><rect x="416" y="165.0" width="1" height="17.9" fill="#133d25"/><rect x="415" y="170.5" width="1" height="10.6" fill="#f2645a"/><rect x="418" y="176.2" width="1" height="13.1" fill="#133d25"/><rect x="417" y="181.1" width="1" height="4.2" fill="#f2645a"/><rect x="419" y="183.5" width="1" height="21.5" fill="#133d25"/><rect x="418" y="185.3" width="1" height="15.1" fill="#f2645a"/><rect x="421" y="196.8" width="1" height="8.8" fill="#133d25"/><rect x="420" y="200.4" width="1" height="1.7" fill="#f2645a"/><rect x="422" y="189.0" width="1" height="35.0" fill="#133d25"/><rect x="421" y="190.8" width="1" height="24.5" fill="#2bd27a"/><rect x="424" y="189.0" width="1" height="12.1" fill="#133d25"/><rect x="423" y="190.8" width="1" height="7.3" fill="#f2645a"/><rect x="425" y="197.0" width="1" height="10.7" fill="#133d25"/><rect x="424" y="198.0" width="1" height="5.1" fill="#f2645a"/><rect x="426" y="189.0" width="1" height="30.8" fill="#133d25"/><rect x="425" y="194.7" width="1" height="24.0" fill="#f2645a"/><rect x="428" y="217.8" width="1" height="3.6" fill="#133d25"/><rect x="427" y="218.6" width="1" height="1.9" fill="#f2645a"/><rect x="429" y="217.2" width="1" height="17.2" fill="#133d25"/><rect x="428" y="220.5" width="1" height="10.2" fill="#f2645a"/><rect x="431" y="228.5" width="1" height="15.5" fill="#133d25"/><rect x="430" y="230.8" width="1" height="11.5" fill="#f2645a"/><rect x="432" y="237.8" width="1" height="5.4" fill="#133d25"/><rect x="431" y="242.2" width="1" height="1.0" fill="#f2645a"/><rect x="434" y="241.1" width="1" height="2.7" fill="#133d25"/><rect x="433" y="242.2" width="1" height="1.0" fill="#f2645a"/><rect x="435" y="209.0" width="1" height="34.9" fill="#133d25"/><rect x="434" y="216.2" width="1" height="26.0" fill="#2bd27a"/><rect x="437" y="212.2" width="1" height="31.8" fill="#133d25"/><rect x="436" y="215.4" width="1" height="21.8" fill="#2bd27a"/><rect x="438" y="209.6" width="1" height="9.4" fill="#133d25"/><rect x="437" y="210.6" width="1" height="4.8" fill="#2bd27a"/><rect x="439" y="209.0" width="1" height="3.2" fill="#133d25"/><rect x="438" y="210.6" width="1" height="1.0" fill="#2bd27a"/><rect x="441" y="209.0" width="1" height="12.5" fill="#133d25"/><rect x="440" y="210.6" width="1" height="9.3" fill="#f2645a"/><rect x="442" y="209.0" width="1" height="15.5" fill="#133d25"/><rect x="441" y="219.8" width="1" height="2.9" fill="#f2645a"/><rect x="444" y="216.8" width="1" height="6.8" fill="#133d25"/><rect x="443" y="217.9" width="1" height="4.9" fill="#2bd27a"/><rect x="445" y="212.7" width="1" height="5.8" fill="#133d25"/><rect x="444" y="213.8" width="1" height="4.0" fill="#2bd27a"/><rect x="447" y="213.4" width="1" height="6.6" fill="#133d25"/><rect x="446" y="213.8" width="1" height="4.7" fill="#f2645a"/><rect x="448" y="205.3" width="1" height="14.1" fill="#133d25"/><rect x="447" y="217.1" width="1" height="1.4" fill="#2bd27a"/><rect x="449" y="210.7" width="1" height="5.0" fill="#133d25"/><rect x="448" y="212.0" width="1" height="3.8" fill="#2bd27a"/><rect x="451" y="195.0" width="1" height="17.2" fill="#133d25"/><rect x="450" y="200.6" width="1" height="11.4" fill="#2bd27a"/><rect x="452" y="206.8" width="1" height="5.2" fill="#133d25"/><rect x="451" y="209.0" width="1" height="2.2" fill="#f2645a"/><rect x="454" y="207.2" width="1" height="4.8" fill="#133d25"/><rect x="453" y="207.8" width="1" height="3.4" fill="#2bd27a"/><rect x="455" y="200.3" width="1" height="9.1" fill="#133d25"/><rect x="454" y="202.2" width="1" height="5.6" fill="#2bd27a"/><rect x="457" y="199.0" width="1" height="4.2" fill="#133d25"/><rect x="456" y="200.1" width="1" height="2.1" fill="#2bd27a"/><rect x="458" y="196.4" width="1" height="5.6" fill="#133d25"/><rect x="457" y="198.6" width="1" height="1.5" fill="#2bd27a"/><rect x="460" y="196.7" width="1" height="5.5" fill="#133d25"/><rect x="459" y="198.6" width="1" height="2.5" fill="#f2645a"/><rect x="461" y="199.1" width="1" height="6.6" fill="#133d25"/><rect x="460" y="201.0" width="1" height="4.0" fill="#f2645a"/><rect x="462" y="197.1" width="1" height="9.3" fill="#133d25"/><rect x="461" y="198.6" width="1" height="6.4" fill="#2bd27a"/><rect x="464" y="197.7" width="1" height="1.9" fill="#133d25"/><rect x="463" y="198.6" width="1" height="1.0" fill="#f2645a"/><rect x="465" y="197.6" width="1" height="2.5" fill="#133d25"/><rect x="464" y="198.2" width="1" height="1.0" fill="#2bd27a"/><rect x="467" y="197.6" width="1" height="1.5" fill="#133d25"/><rect x="466" y="198.2" width="1" height="1.0" fill="#f2645a"/><rect x="468" y="197.7" width="1" height="5.7" fill="#133d25"/><rect x="467" y="198.4" width="1" height="4.2" fill="#f2645a"/><rect x="470" y="199.6" width="1" height="3.6" fill="#133d25"/><rect x="469" y="201.5" width="1" height="1.1" fill="#2bd27a"/><rect x="471" y="200.2" width="1" height="3.3" fill="#133d25"/><rect x="470" y="201.5" width="1" height="1.4" fill="#f2645a"/><rect x="473" y="202.1" width="1" height="8.8" fill="#133d25"/><rect x="472" y="202.8" width="1" height="5.7" fill="#f2645a"/><rect x="474" y="207.9" width="1" height="9.7" fill="#133d25"/><rect x="473" y="208.5" width="1" height="8.1" fill="#f2645a"/><rect x="475" y="214.3" width="1" height="5.0" fill="#133d25"/><rect x="474" y="216.6" width="1" height="1.7" fill="#f2645a"/><rect x="477" y="217.6" width="1" height="2.4" fill="#133d25"/><rect x="476" y="218.3" width="1" height="1.0" fill="#f2645a"/><rect x="478" y="218.4" width="1" height="1.6" fill="#133d25"/><rect x="477" y="218.9" width="1" height="1.0" fill="#f2645a"/><rect x="480" y="212.3" width="1" height="7.7" fill="#133d25"/><rect x="479" y="214.3" width="1" height="4.6" fill="#2bd27a"/><rect x="481" y="205.2" width="1" height="10.6" fill="#133d25"/><rect x="480" y="207.1" width="1" height="7.2" fill="#2bd27a"/><rect x="483" y="205.2" width="1" height="9.6" fill="#133d25"/><rect x="482" y="207.1" width="1" height="5.4" fill="#f2645a"/><rect x="484" y="207.6" width="1" height="7.2" fill="#133d25"/><rect x="483" y="208.6" width="1" height="4.0" fill="#2bd27a"/><rect x="485" y="206.1" width="1" height="13.9" fill="#133d25"/><rect x="484" y="208.6" width="1" height="7.0" fill="#f2645a"/><rect x="487" y="198.8" width="1" height="11.4" fill="#133d25"/><rect x="486" y="200.2" width="1" height="8.8" fill="#2bd27a"/><rect x="488" y="197.0" width="1" height="10.3" fill="#133d25"/><rect x="487" y="200.2" width="1" height="5.1" fill="#f2645a"/><rect x="490" y="204.4" width="1" height="6.8" fill="#133d25"/><rect x="489" y="205.3" width="1" height="4.5" fill="#f2645a"/><rect x="491" y="206.5" width="1" height="6.0" fill="#133d25"/><rect x="490" y="208.5" width="1" height="1.3" fill="#2bd27a"/><rect x="493" y="205.8" width="1" height="5.1" fill="#133d25"/><rect x="492" y="208.0" width="1" height="1.0" fill="#2bd27a"/><rect x="494" y="205.6" width="1" height="4.4" fill="#133d25"/><rect x="493" y="206.2" width="1" height="1.8" fill="#2bd27a"/><rect x="496" y="205.0" width="1" height="8.1" fill="#133d25"/><rect x="495" y="206.2" width="1" height="3.8" fill="#f2645a"/><rect x="497" y="207.9" width="1" height="13.3" fill="#133d25"/><rect x="496" y="209.9" width="1" height="8.6" fill="#f2645a"/><rect x="498" y="205.0" width="1" height="24.9" fill="#133d25"/><rect x="497" y="210.4" width="1" height="16.7" fill="#f2645a"/><rect x="500" y="226.3" width="1" height="3.3" fill="#133d25"/><rect x="499" y="227.1" width="1" height="1.0" fill="#f2645a"/><rect x="501" y="237.0" width="1" height="7.9" fill="#133d25"/><rect x="500" y="237.0" width="1" height="7.4" fill="#f2645a"/><rect x="503" y="237.0" width="1" height="13.0" fill="#133d25"/><rect x="502" y="243.5" width="1" height="1.0" fill="#2bd27a"/><rect x="504" y="242.6" width="1" height="2.7" fill="#133d25"/><rect x="503" y="243.5" width="1" height="1.0" fill="#f2645a"/><rect x="506" y="237.0" width="1" height="8.8" fill="#133d25"/><rect x="505" y="242.6" width="1" height="1.8" fill="#2bd27a"/><rect x="507" y="241.5" width="1" height="4.2" fill="#133d25"/><rect x="506" y="242.6" width="1" height="2.5" fill="#f2645a"/><rect x="509" y="242.6" width="1" height="3.9" fill="#133d25"/><rect x="508" y="243.1" width="1" height="2.0" fill="#2bd27a"/><rect x="510" y="241.9" width="1" height="4.1" fill="#133d25"/><rect x="509" y="243.1" width="1" height="1.8" fill="#f2645a"/><rect x="511" y="244.1" width="1" height="3.3" fill="#133d25"/><rect x="510" y="244.9" width="1" height="1.3" fill="#f2645a"/><rect x="513" y="244.7" width="1" height="6.2" fill="#133d25"/><rect x="512" y="246.2" width="1" height="4.0" fill="#f2645a"/><rect x="514" y="249.2" width="1" height="2.0" fill="#133d25"/><rect x="513" y="250.3" width="1" height="1.0" fill="#f2645a"/><rect x="516" y="254.5" width="1" height="1.5" fill="#133d25"/><rect x="515" y="254.5" width="1" height="1.2" fill="#f2645a"/><rect x="517" y="255.3" width="1" height="1.5" fill="#133d25"/><rect x="516" y="255.4" width="1" height="1.0" fill="#2bd27a"/><rect x="519" y="255.3" width="1" height="1.5" fill="#133d25"/><rect x="518" y="255.4" width="1" height="1.0" fill="#f2645a"/><rect x="520" y="254.7" width="1" height="1.5" fill="#133d25"/><rect x="519" y="254.9" width="1" height="1.0" fill="#2bd27a"/><rect x="521" y="254.6" width="1" height="1.5" fill="#133d25"/><rect x="520" y="254.9" width="1" height="1.0" fill="#f2645a"/><rect x="523" y="254.5" width="1" height="2.3" fill="#133d25"/><rect x="522" y="255.4" width="1" height="1.0" fill="#f2645a"/><rect x="524" y="255.4" width="1" height="1.5" fill="#133d25"/><rect x="523" y="255.5" width="1" height="1.0" fill="#2bd27a"/><rect x="526" y="255.2" width="1" height="1.5" fill="#133d25"/><rect x="525" y="255.3" width="1" height="1.0" fill="#2bd27a"/><rect x="527" y="254.8" width="1" height="1.5" fill="#133d25"/><rect x="526" y="255.0" width="1" height="1.0" fill="#2bd27a"/><rect x="529" y="254.9" width="1" height="1.5" fill="#133d25"/><rect x="528" y="255.0" width="1" height="1.0" fill="#f2645a"/><rect x="530" y="255.0" width="1" height="1.5" fill="#133d25"/><rect x="529" y="255.3" width="1" height="1.0" fill="#2bd27a"/><rect x="532" y="253.2" width="1" height="2.8" fill="#133d25"/><rect x="531" y="253.5" width="1" height="1.7" fill="#2bd27a"/><rect x="533" y="237.8" width="1" height="17.1" fill="#133d25"/><rect x="532" y="238.8" width="1" height="14.7" fill="#2bd27a"/><rect x="534" y="226.4" width="1" height="31.6" fill="#133d25"/><rect x="533" y="227.5" width="1" height="22.8" fill="#2bd27a"/><rect x="536" y="214.0" width="1" height="15.6" fill="#133d25"/><rect x="535" y="217.4" width="1" height="10.1" fill="#2bd27a"/><rect x="537" y="214.0" width="1" height="6.8" fill="#133d25"/><rect x="536" y="215.4" width="1" height="2.0" fill="#2bd27a"/><rect x="539" y="214.0" width="1" height="7.1" fill="#133d25"/><rect x="538" y="215.4" width="1" height="3.6" fill="#f2645a"/><rect x="540" y="214.0" width="1" height="7.0" fill="#133d25"/><rect x="539" y="215.4" width="1" height="3.6" fill="#2bd27a"/><rect x="542" y="214.0" width="1" height="4.8" fill="#133d25"/><rect x="541" y="215.4" width="1" height="1.0" fill="#f2645a"/><rect x="543" y="216.5" width="1" height="25.5" fill="#133d25"/><rect x="542" y="216.5" width="1" height="20.5" fill="#f2645a"/><rect x="545" y="226.3" width="1" height="7.5" fill="#133d25"/><rect x="544" y="229.6" width="1" height="2.3" fill="#f2645a"/><rect x="546" y="229.5" width="1" height="6.0" fill="#133d25"/><rect x="545" y="231.9" width="1" height="1.5" fill="#f2645a"/><rect x="547" y="230.5" width="1" height="4.2" fill="#133d25"/><rect x="546" y="233.2" width="1" height="1.0" fill="#2bd27a"/><rect x="549" y="224.4" width="1" height="10.3" fill="#133d25"/><rect x="548" y="225.3" width="1" height="7.9" fill="#2bd27a"/><rect x="550" y="225.2" width="1" height="4.7" fill="#133d25"/><rect x="549" y="225.3" width="1" height="2.3" fill="#f2645a"/><rect x="552" y="226.0" width="1" height="19.0" fill="#133d25"/><rect x="551" y="227.5" width="1" height="12.5" fill="#f2645a"/><rect x="553" y="226.2" width="1" height="8.2" fill="#133d25"/><rect x="552" y="228.8" width="1" height="3.7" fill="#2bd27a"/><rect x="555" y="227.3" width="1" height="3.2" fill="#133d25"/><rect x="554" y="228.4" width="1" height="1.0" fill="#2bd27a"/><rect x="556" y="226.0" width="1" height="8.4" fill="#133d25"/><rect x="555" y="228.4" width="1" height="5.6" fill="#f2645a"/><rect x="557" y="226.0" width="1" height="19.0" fill="#133d25"/><rect x="556" y="233.9" width="1" height="5.1" fill="#f2645a"/><rect x="559" y="233.2" width="1" height="8.2" fill="#133d25"/><rect x="558" y="234.0" width="1" height="5.0" fill="#2bd27a"/><rect x="560" y="226.0" width="1" height="9.8" fill="#133d25"/><rect x="559" y="229.6" width="1" height="4.4" fill="#2bd27a"/><rect x="562" y="226.0" width="1" height="19.0" fill="#133d25"/><rect x="561" y="226.9" width="1" height="11.9" fill="#2bd27a"/><rect x="563" y="226.0" width="1" height="3.1" fill="#133d25"/><rect x="562" y="226.9" width="1" height="1.0" fill="#f2645a"/><rect x="565" y="226.0" width="1" height="2.4" fill="#133d25"/><rect x="564" y="226.9" width="1" height="1.0" fill="#2bd27a"/><rect x="566" y="226.0" width="1" height="6.0" fill="#133d25"/><rect x="565" y="226.9" width="1" height="3.8" fill="#f2645a"/><rect x="568" y="221.9" width="1" height="10.8" fill="#133d25"/><rect x="567" y="223.1" width="1" height="7.7" fill="#2bd27a"/><rect x="569" y="212.4" width="1" height="32.6" fill="#133d25"/><rect x="568" y="214.3" width="1" height="21.9" fill="#2bd27a"/><rect x="570" y="205.0" width="1" height="17.9" fill="#133d25"/><rect x="569" y="208.7" width="1" height="13.1" fill="#f2645a"/><rect x="572" y="217.9" width="1" height="27.1" fill="#133d25"/><rect x="571" y="221.9" width="1" height="14.9" fill="#f2645a"/><rect x="573" y="218.2" width="1" height="7.0" fill="#133d25"/><rect x="572" y="220.3" width="1" height="4.2" fill="#2bd27a"/><rect x="575" y="194.9" width="1" height="25.3" fill="#133d25"/><rect x="574" y="196.3" width="1" height="23.8" fill="#2bd27a"/><rect x="576" y="188.0" width="1" height="10.5" fill="#133d25"/><rect x="575" y="189.1" width="1" height="7.2" fill="#2bd27a"/><rect x="578" y="188.6" width="1" height="6.0" fill="#133d25"/><rect x="577" y="189.1" width="1" height="3.2" fill="#f2645a"/><rect x="579" y="189.1" width="1" height="6.8" fill="#133d25"/><rect x="578" y="192.3" width="1" height="2.8" fill="#f2645a"/><rect x="581" y="188.0" width="1" height="11.2" fill="#133d25"/><rect x="580" y="195.2" width="1" height="2.9" fill="#f2645a"/><rect x="582" y="197.1" width="1" height="5.1" fill="#133d25"/><rect x="581" y="198.1" width="1" height="3.5" fill="#f2645a"/><rect x="583" y="198.7" width="1" height="3.6" fill="#133d25"/><rect x="582" y="201.2" width="1" height="1.0" fill="#2bd27a"/><rect x="585" y="194.0" width="1" height="23.0" fill="#133d25"/><rect x="584" y="195.2" width="1" height="15.5" fill="#2bd27a"/><rect x="586" y="194.0" width="1" height="3.8" fill="#133d25"/><rect x="585" y="195.2" width="1" height="2.2" fill="#f2645a"/><rect x="588" y="195.1" width="1" height="21.9" fill="#133d25"/><rect x="587" y="197.3" width="1" height="17.5" fill="#f2645a"/><rect x="589" y="207.8" width="1" height="9.0" fill="#133d25"/><rect x="588" y="208.7" width="1" height="6.1" fill="#2bd27a"/><rect x="591" y="208.1" width="1" height="8.9" fill="#133d25"/><rect x="590" y="208.7" width="1" height="4.8" fill="#f2645a"/><rect x="592" y="201.6" width="1" height="10.8" fill="#133d25"/><rect x="591" y="202.3" width="1" height="10.1" fill="#2bd27a"/><rect x="593" y="193.0" width="1" height="13.0" fill="#133d25"/><rect x="592" y="196.7" width="1" height="7.6" fill="#f2645a"/><rect x="595" y="195.1" width="1" height="11.2" fill="#133d25"/><rect x="594" y="197.5" width="1" height="6.8" fill="#2bd27a"/><rect x="596" y="196.5" width="1" height="8.0" fill="#133d25"/><rect x="595" y="197.5" width="1" height="6.5" fill="#f2645a"/><rect x="598" y="199.9" width="1" height="5.8" fill="#133d25"/><rect x="597" y="201.0" width="1" height="3.1" fill="#2bd27a"/><rect x="599" y="193.0" width="1" height="9.7" fill="#133d25"/><rect x="598" y="194.0" width="1" height="7.0" fill="#2bd27a"/><rect x="601" y="193.7" width="1" height="17.3" fill="#133d25"/><rect x="600" y="194.0" width="1" height="10.4" fill="#f2645a"/><rect x="602" y="194.3" width="1" height="8.6" fill="#133d25"/><rect x="601" y="194.5" width="1" height="6.4" fill="#f2645a"/><rect x="604" y="199.8" width="1" height="6.6" fill="#133d25"/><rect x="603" y="200.9" width="1" height="4.0" fill="#f2645a"/><rect x="605" y="202.8" width="1" height="8.2" fill="#133d25"/><rect x="604" y="204.7" width="1" height="1.0" fill="#2bd27a"/><rect x="606" y="203.4" width="1" height="4.6" fill="#133d25"/><rect x="605" y="204.7" width="1" height="2.6" fill="#f2645a"/><rect x="608" y="198.7" width="1" height="9.9" fill="#133d25"/><rect x="607" y="200.2" width="1" height="7.1" fill="#2bd27a"/><rect x="609" y="199.1" width="1" height="2.8" fill="#133d25"/><rect x="608" y="200.2" width="1" height="1.0" fill="#f2645a"/><rect x="611" y="199.1" width="1" height="4.4" fill="#133d25"/><rect x="610" y="200.5" width="1" height="1.2" fill="#f2645a"/><rect x="612" y="196.1" width="1" height="6.2" fill="#133d25"/><rect x="611" y="197.2" width="1" height="4.6" fill="#2bd27a"/><rect x="614" y="194.7" width="1" height="4.2" fill="#133d25"/><rect x="613" y="195.4" width="1" height="1.8" fill="#2bd27a"/><rect x="615" y="193.7" width="1" height="9.5" fill="#133d25"/><rect x="614" y="195.4" width="1" height="7.0" fill="#f2645a"/><rect x="617" y="193.0" width="1" height="14.7" fill="#133d25"/><rect x="616" y="196.8" width="1" height="9.0" fill="#f2645a"/><rect x="618" y="198.4" width="1" height="8.0" fill="#133d25"/><rect x="617" y="199.0" width="1" height="6.7" fill="#2bd27a"/><rect x="619" y="197.4" width="1" height="4.0" fill="#133d25"/><rect x="618" y="199.0" width="1" height="1.3" fill="#f2645a"/><rect x="621" y="193.0" width="1" height="7.8" fill="#133d25"/><rect x="620" y="196.4" width="1" height="3.9" fill="#2bd27a"/><rect x="622" y="195.4" width="1" height="13.6" fill="#133d25"/><rect x="621" y="196.4" width="1" height="9.2" fill="#f2645a"/><rect x="624" y="199.0" width="1" height="3.2" fill="#133d25"/><rect x="623" y="200.4" width="1" height="1.0" fill="#f2645a"/><rect x="625" y="198.4" width="1" height="3.1" fill="#133d25"/><rect x="624" y="198.8" width="1" height="2.4" fill="#2bd27a"/><rect x="627" y="197.3" width="1" height="6.0" fill="#133d25"/><rect x="626" y="198.8" width="1" height="3.8" fill="#f2645a"/><rect x="628" y="197.4" width="1" height="7.2" fill="#133d25"/><rect x="627" y="198.6" width="1" height="4.0" fill="#2bd27a"/><rect x="629" y="197.7" width="1" height="6.3" fill="#133d25"/><rect x="628" y="198.6" width="1" height="5.1" fill="#f2645a"/><rect x="631" y="193.0" width="1" height="16.0" fill="#133d25"/><rect x="630" y="193.8" width="1" height="9.9" fill="#2bd27a"/><rect x="632" y="193.0" width="1" height="16.0" fill="#133d25"/><rect x="631" y="193.8" width="1" height="9.2" fill="#2bd27a"/><rect x="634" y="193.3" width="1" height="1.8" fill="#133d25"/><rect x="633" y="193.7" width="1" height="1.0" fill="#2bd27a"/><rect x="635" y="193.0" width="1" height="9.9" fill="#133d25"/><rect x="634" y="193.7" width="1" height="8.0" fill="#f2645a"/><rect x="637" y="200.0" width="1" height="5.7" fill="#133d25"/><rect x="636" y="201.7" width="1" height="3.4" fill="#f2645a"/><rect x="638" y="193.0" width="1" height="11.9" fill="#133d25"/><rect x="637" y="196.3" width="1" height="8.6" fill="#2bd27a"/><rect x="640" y="200.6" width="1" height="1.5" fill="#133d25"/><rect x="639" y="200.9" width="1" height="1.0" fill="#2bd27a"/><rect x="641" y="199.6" width="1" height="4.0" fill="#133d25"/><rect x="640" y="200.9" width="1" height="2.4" fill="#f2645a"/><rect x="642" y="197.2" width="1" height="6.1" fill="#133d25"/><rect x="641" y="198.3" width="1" height="5.0" fill="#2bd27a"/><rect x="644" y="197.2" width="1" height="3.4" fill="#133d25"/><rect x="643" y="198.3" width="1" height="1.0" fill="#f2645a"/><rect x="645" y="193.0" width="1" height="7.2" fill="#133d25"/><rect x="644" y="199.1" width="1" height="1.0" fill="#2bd27a"/><rect x="647" y="198.7" width="1" height="2.0" fill="#133d25"/><rect x="646" y="199.1" width="1" height="1.3" fill="#f2645a"/><rect x="648" y="200.0" width="1" height="1.6" fill="#133d25"/><rect x="647" y="200.4" width="1" height="1.0" fill="#f2645a"/><rect x="650" y="194.2" width="1" height="7.4" fill="#133d25"/><rect x="649" y="200.6" width="1" height="1.0" fill="#2bd27a"/><rect x="651" y="199.0" width="1" height="2.0" fill="#133d25"/><rect x="650" y="200.0" width="1" height="1.0" fill="#2bd27a"/><rect x="653" y="199.7" width="1" height="5.0" fill="#133d25"/><rect x="652" y="200.0" width="1" height="4.3" fill="#f2645a"/><rect x="654" y="201.1" width="1" height="4.7" fill="#133d25"/><rect x="653" y="202.7" width="1" height="1.6" fill="#2bd27a"/><rect x="655" y="200.8" width="1" height="3.0" fill="#133d25"/><rect x="654" y="202.6" width="1" height="1.0" fill="#2bd27a"/><rect x="657" y="202.0" width="1" height="14.0" fill="#133d25"/><rect x="656" y="202.6" width="1" height="3.2" fill="#f2645a"/><rect x="658" y="204.6" width="1" height="3.2" fill="#133d25"/><rect x="657" y="205.2" width="1" height="1.0" fill="#2bd27a"/><rect x="660" y="200.0" width="1" height="5.8" fill="#133d25"/><rect x="659" y="200.8" width="1" height="4.4" fill="#2bd27a"/><rect x="661" y="200.0" width="1" height="6.4" fill="#133d25"/><rect x="660" y="200.8" width="1" height="4.3" fill="#f2645a"/><rect x="663" y="204.5" width="1" height="2.9" fill="#133d25"/><rect x="662" y="205.1" width="1" height="1.7" fill="#f2645a"/><rect x="664" y="208.4" width="1" height="13.3" fill="#133d25"/><rect x="663" y="208.4" width="1" height="12.6" fill="#f2645a"/><rect x="665" y="220.0" width="1" height="6.8" fill="#133d25"/><rect x="664" y="221.0" width="1" height="5.0" fill="#f2645a"/><rect x="667" y="213.0" width="1" height="15.0" fill="#133d25"/><rect x="666" y="215.4" width="1" height="10.5" fill="#2bd27a"/><rect x="668" y="214.5" width="1" height="13.5" fill="#133d25"/><rect x="667" y="215.4" width="1" height="11.2" fill="#f2645a"/><rect x="670" y="211.0" width="1" height="16.0" fill="#133d25"/><rect x="669" y="216.3" width="1" height="10.3" fill="#2bd27a"/><rect x="671" y="219.8" width="1" height="15.2" fill="#133d25"/><rect x="670" y="224.3" width="1" height="9.6" fill="#f2645a"/><rect x="673" y="232.6" width="1" height="14.9" fill="#133d25"/><rect x="672" y="233.9" width="1" height="11.2" fill="#f2645a"/><rect x="674" y="229.4" width="1" height="30.6" fill="#133d25"/><rect x="673" y="230.7" width="1" height="23.4" fill="#2bd27a"/><rect x="676" y="220.0" width="1" height="24.0" fill="#133d25"/><rect x="675" y="224.3" width="1" height="9.4" fill="#f2645a"/><rect x="677" y="232.9" width="1" height="11.1" fill="#133d25"/><rect x="676" y="233.7" width="1" height="9.1" fill="#f2645a"/><rect x="678" y="237.2" width="1" height="6.8" fill="#133d25"/><rect x="677" y="239.5" width="1" height="3.3" fill="#2bd27a"/><rect x="680" y="236.2" width="1" height="7.8" fill="#133d25"/><rect x="679" y="238.3" width="1" height="1.2" fill="#2bd27a"/><rect x="681" y="211.0" width="1" height="23.6" fill="#133d25"/><rect x="680" y="218.5" width="1" height="16.1" fill="#2bd27a"/><rect x="683" y="219.0" width="1" height="13.0" fill="#133d25"/><rect x="682" y="220.3" width="1" height="9.5" fill="#2bd27a"/><rect x="684" y="216.9" width="1" height="5.0" fill="#133d25"/><rect x="683" y="219.6" width="1" height="1.0" fill="#2bd27a"/><rect x="686" y="218.6" width="1" height="2.5" fill="#133d25"/><rect x="685" y="219.6" width="1" height="1.0" fill="#f2645a"/><rect x="687" y="183.7" width="1" height="48.3" fill="#133d25"/><rect x="686" y="195.3" width="1" height="30.7" fill="#2bd27a"/><rect x="689" y="149.0" width="1" height="49.0" fill="#133d25"/><rect x="688" y="158.8" width="1" height="36.5" fill="#2bd27a"/><rect x="690" y="167.8" width="1" height="26.4" fill="#133d25"/><rect x="689" y="173.5" width="1" height="14.7" fill="#f2645a"/><rect x="691" y="183.3" width="1" height="13.4" fill="#133d25"/><rect x="690" y="188.3" width="1" height="6.1" fill="#f2645a"/><rect x="693" y="184.3" width="1" height="13.7" fill="#133d25"/><rect x="692" y="190.2" width="1" height="2.2" fill="#2bd27a"/><rect x="694" y="146.0" width="1" height="42.1" fill="#133d25"/><rect x="693" y="162.0" width="1" height="26.1" fill="#2bd27a"/><rect x="696" y="181.7" width="1" height="3.6" fill="#133d25"/><rect x="695" y="183.3" width="1" height="2.0" fill="#2bd27a"/><rect x="697" y="171.8" width="1" height="12.0" fill="#133d25"/><rect x="696" y="176.3" width="1" height="7.0" fill="#2bd27a"/><rect x="699" y="169.6" width="1" height="10.0" fill="#133d25"/><rect x="698" y="170.4" width="1" height="5.8" fill="#2bd27a"/><rect x="700" y="159.4" width="1" height="14.7" fill="#133d25"/><rect x="699" y="162.3" width="1" height="8.1" fill="#2bd27a"/><rect x="701" y="161.4" width="1" height="9.8" fill="#133d25"/><rect x="700" y="162.3" width="1" height="7.8" fill="#f2645a"/><rect x="703" y="152.3" width="1" height="19.4" fill="#133d25"/><rect x="702" y="154.7" width="1" height="15.5" fill="#2bd27a"/><rect x="704" y="146.5" width="1" height="11.4" fill="#133d25"/><rect x="703" y="148.9" width="1" height="5.8" fill="#2bd27a"/><rect x="706" y="145.1" width="1" height="6.6" fill="#133d25"/><rect x="705" y="147.4" width="1" height="1.5" fill="#2bd27a"/><rect x="707" y="145.6" width="1" height="6.0" fill="#133d25"/><rect x="706" y="147.4" width="1" height="2.3" fill="#f2645a"/><rect x="709" y="122.0" width="1" height="29.6" fill="#133d25"/><rect x="708" y="127.0" width="1" height="22.7" fill="#2bd27a"/><rect x="710" y="125.6" width="1" height="5.7" fill="#133d25"/><rect x="709" y="127.0" width="1" height="2.5" fill="#f2645a"/><rect x="712" y="122.0" width="1" height="10.9" fill="#133d25"/><rect x="711" y="124.5" width="1" height="5.0" fill="#2bd27a"/><rect x="713" y="123.8" width="1" height="11.9" fill="#133d25"/><rect x="712" y="124.5" width="1" height="8.8" fill="#f2645a"/><rect x="714" y="116.2" width="1" height="34.8" fill="#133d25"/><rect x="713" y="117.9" width="1" height="26.0" fill="#2bd27a"/><rect x="716" y="110.4" width="1" height="8.7" fill="#133d25"/><rect x="715" y="112.4" width="1" height="5.5" fill="#2bd27a"/><rect x="717" y="106.0" width="1" height="7.4" fill="#133d25"/><rect x="716" y="108.2" width="1" height="4.2" fill="#2bd27a"/><rect x="719" y="106.0" width="1" height="45.0" fill="#133d25"/><rect x="718" y="108.2" width="1" height="34.7" fill="#f2645a"/><rect x="720" y="106.0" width="1" height="29.6" fill="#133d25"/><rect x="719" y="124.7" width="1" height="6.1" fill="#2bd27a"/><rect x="722" y="115.2" width="1" height="11.3" fill="#133d25"/><rect x="721" y="118.7" width="1" height="6.0" fill="#2bd27a"/><rect x="723" y="107.4" width="1" height="14.2" fill="#133d25"/><rect x="722" y="111.3" width="1" height="7.4" fill="#2bd27a"/><rect x="725" y="101.6" width="1" height="11.2" fill="#133d25"/><rect x="724" y="102.8" width="1" height="8.5" fill="#2bd27a"/><rect x="726" y="99.0" width="1" height="4.5" fill="#133d25"/><rect x="725" y="101.6" width="1" height="1.2" fill="#2bd27a"/><rect x="727" y="100.5" width="1" height="10.4" fill="#133d25"/><rect x="726" y="101.6" width="1" height="7.8" fill="#f2645a"/><rect x="729" y="106.9" width="1" height="3.3" fill="#133d25"/><rect x="728" y="107.6" width="1" height="1.8" fill="#2bd27a"/><rect x="730" y="105.4" width="1" height="13.6" fill="#133d25"/><rect x="729" y="106.5" width="1" height="1.1" fill="#2bd27a"/><rect x="732" y="104.8" width="1" height="14.2" fill="#133d25"/><rect x="731" y="106.5" width="1" height="8.2" fill="#f2645a"/><rect x="733" y="91.6" width="1" height="16.5" fill="#133d25"/><rect x="732" y="92.5" width="1" height="15.6" fill="#2bd27a"/><rect x="735" y="76.0" width="1" height="18.7" fill="#133d25"/><rect x="734" y="82.2" width="1" height="10.4" fill="#2bd27a"/><rect x="736" y="79.2" width="1" height="4.9" fill="#133d25"/><rect x="735" y="80.2" width="1" height="1.9" fill="#2bd27a"/><rect x="737" y="78.2" width="1" height="8.5" fill="#133d25"/><rect x="736" y="80.2" width="1" height="6.0" fill="#f2645a"/><rect x="739" y="84.2" width="1" height="7.0" fill="#133d25"/><rect x="738" y="86.2" width="1" height="3.2" fill="#f2645a"/><rect x="740" y="81.4" width="1" height="17.6" fill="#133d25"/><rect x="739" y="84.3" width="1" height="10.8" fill="#2bd27a"/><rect x="742" y="82.0" width="1" height="12.1" fill="#133d25"/><rect x="741" y="84.3" width="1" height="1.0" fill="#f2645a"/><rect x="743" y="75.0" width="1" height="11.0" fill="#133d25"/><rect x="742" y="78.8" width="1" height="5.9" fill="#f2645a"/><rect x="745" y="82.4" width="1" height="6.3" fill="#133d25"/><rect x="744" y="84.7" width="1" height="2.1" fill="#f2645a"/><rect x="746" y="85.8" width="1" height="3.2" fill="#133d25"/><rect x="745" y="86.9" width="1" height="1.2" fill="#f2645a"/><rect x="748" y="75.0" width="1" height="14.4" fill="#133d25"/><rect x="747" y="80.5" width="1" height="7.5" fill="#2bd27a"/><rect x="749" y="75.0" width="1" height="17.0" fill="#133d25"/><rect x="748" y="75.8" width="1" height="11.5" fill="#2bd27a"/><rect x="750" y="75.0" width="1" height="4.9" fill="#133d25"/><rect x="749" y="75.8" width="1" height="3.4" fill="#f2645a"/><rect x="752" y="78.7" width="1" height="3.2" fill="#133d25"/><rect x="751" y="79.2" width="1" height="1.0" fill="#2bd27a"/><rect x="753" y="82.8" width="1" height="4.1" fill="#133d25"/><rect x="752" y="82.8" width="1" height="1.7" fill="#f2645a"/><rect x="755" y="88.9" width="1" height="35.1" fill="#133d25"/><rect x="754" y="88.9" width="1" height="23.5" fill="#f2645a"/><rect x="756" y="96.1" width="1" height="2.9" fill="#133d25"/><rect x="755" y="96.1" width="1" height="1.4" fill="#f2645a"/><rect x="758" y="105.3" width="1" height="7.9" fill="#133d25"/><rect x="757" y="105.3" width="1" height="6.3" fill="#f2645a"/><rect x="759" y="116.8" width="1" height="14.1" fill="#133d25"/><rect x="758" y="116.8" width="1" height="12.1" fill="#f2645a"/><rect x="761" y="124.0" width="1" height="6.0" fill="#133d25"/><rect x="760" y="125.5" width="1" height="3.4" fill="#2bd27a"/><rect x="762" y="124.0" width="1" height="30.0" fill="#133d25"/><rect x="761" y="125.5" width="1" height="17.3" fill="#f2645a"/><rect x="763" y="124.0" width="1" height="7.6" fill="#133d25"/><rect x="762" y="126.0" width="1" height="1.6" fill="#f2645a"/><rect x="765" y="127.0" width="1" height="1.5" fill="#133d25"/><rect x="764" y="127.6" width="1" height="1.0" fill="#f2645a"/><rect x="766" y="129.7" width="1" height="14.9" fill="#133d25"/><rect x="765" y="129.7" width="1" height="11.3" fill="#f2645a"/><rect x="768" y="133.3" width="1" height="9.8" fill="#133d25"/><rect x="767" y="134.6" width="1" height="6.5" fill="#2bd27a"/><rect x="769" y="134.0" width="1" height="25.0" fill="#133d25"/><rect x="768" y="134.6" width="1" height="14.9" fill="#f2645a"/><rect x="771" y="134.0" width="1" height="25.0" fill="#133d25"/><rect x="770" y="135.2" width="1" height="1.0" fill="#f2645a"/><rect x="772" y="134.0" width="1" height="18.5" fill="#133d25"/><rect x="771" y="135.2" width="1" height="15.5" fill="#f2645a"/><rect x="773" y="134.0" width="1" height="18.8" fill="#133d25"/><rect x="772" y="138.2" width="1" height="12.6" fill="#2bd27a"/><rect x="775" y="135.0" width="1" height="7.4" fill="#133d25"/><rect x="774" y="136.5" width="1" height="1.7" fill="#2bd27a"/><rect x="776" y="135.7" width="1" height="3.6" fill="#133d25"/><rect x="775" y="136.5" width="1" height="1.0" fill="#f2645a"/><rect x="778" y="132.1" width="1" height="38.9" fill="#133d25"/><rect x="777" y="134.9" width="1" height="22.7" fill="#2bd27a"/><rect x="779" y="129.7" width="1" height="23.4" fill="#133d25"/><rect x="778" y="134.9" width="1" height="12.1" fill="#f2645a"/><rect x="781" y="127.4" width="1" height="21.5" fill="#133d25"/><rect x="780" y="130.9" width="1" height="16.1" fill="#2bd27a"/><rect x="782" y="116.2" width="1" height="16.8" fill="#133d25"/><rect x="781" y="118.5" width="1" height="12.4" fill="#2bd27a"/><rect x="784" y="114.0" width="1" height="11.3" fill="#133d25"/><rect x="783" y="118.5" width="1" height="3.5" fill="#f2645a"/><rect x="785" y="118.2" width="1" height="49.8" fill="#133d25"/><rect x="784" y="121.9" width="1" height="28.3" fill="#f2645a"/><rect x="786" y="118.2" width="1" height="7.4" fill="#133d25"/><rect x="785" y="123.6" width="1" height="1.0" fill="#f2645a"/><rect x="788" y="68.0" width="1" height="60.8" fill="#133d25"/><rect x="787" y="90.6" width="1" height="34.5" fill="#f2645a"/><rect x="789" y="88.2" width="1" height="83.8" fill="#133d25"/><rect x="788" y="96.2" width="1" height="57.0" fill="#2bd27a"/><rect x="791" y="98.1" width="1" height="8.7" fill="#133d25"/><rect x="790" y="98.1" width="1" height="3.6" fill="#f2645a"/><rect x="792" y="115.2" width="1" height="11.3" fill="#133d25"/><rect x="791" y="115.2" width="1" height="3.5" fill="#f2645a"/><rect x="794" y="133.8" width="1" height="28.4" fill="#133d25"/><rect x="793" y="133.8" width="1" height="20.2" fill="#f2645a"/><rect x="795" y="168.4" width="1" height="29.5" fill="#133d25"/><rect x="794" y="168.4" width="1" height="27.8" fill="#f2645a"/><rect x="797" y="202.1" width="1" height="31.9" fill="#133d25"/><rect x="796" y="202.1" width="1" height="28.3" fill="#f2645a"/><rect x="798" y="234.5" width="1" height="16.0" fill="#133d25"/><rect x="797" y="234.5" width="1" height="14.3" fill="#f2645a"/><rect x="799" y="242.7" width="1" height="53.0" fill="#133d25"/><rect x="798" y="246.7" width="1" height="2.1" fill="#2bd27a"/><rect x="801" y="245.7" width="1" height="10.1" fill="#133d25"/><rect x="800" y="246.7" width="1" height="4.0" fill="#f2645a"/><rect x="802" y="248.6" width="1" height="4.8" fill="#133d25"/><rect x="801" y="250.7" width="1" height="1.1" fill="#f2645a"/><rect x="804" y="261.1" width="1" height="21.7" fill="#133d25"/><rect x="803" y="261.1" width="1" height="18.2" fill="#f2645a"/><rect x="805" y="282.2" width="1" height="28.0" fill="#133d25"/><rect x="804" y="282.2" width="1" height="21.3" fill="#f2645a"/><rect x="807" y="300.2" width="1" height="12.0" fill="#133d25"/><rect x="806" y="303.6" width="1" height="6.7" fill="#f2645a"/><rect x="808" y="308.2" width="1" height="34.8" fill="#133d25"/><rect x="807" y="310.3" width="1" height="21.9" fill="#f2645a"/><rect x="809" y="308.0" width="1" height="9.8" fill="#133d25"/><rect x="808" y="312.2" width="1" height="3.8" fill="#2bd27a"/><rect x="811" y="307.0" width="1" height="36.0" fill="#133d25"/><rect x="810" y="311.8" width="1" height="18.9" fill="#2bd27a"/><rect x="812" y="307.0" width="1" height="15.8" fill="#133d25"/><rect x="811" y="311.8" width="1" height="8.0" fill="#f2645a"/><rect x="814" y="320.1" width="1" height="11.5" fill="#133d25"/><rect x="813" y="320.1" width="1" height="8.3" fill="#f2645a"/><rect x="815" y="333.5" width="1" height="7.7" fill="#133d25"/><rect x="814" y="333.5" width="1" height="7.0" fill="#f2645a"/><rect x="817" y="315.9" width="1" height="36.1" fill="#133d25"/><rect x="816" y="319.7" width="1" height="27.7" fill="#2bd27a"/><rect x="818" y="296.6" width="1" height="25.0" fill="#133d25"/><rect x="817" y="302.7" width="1" height="17.0" fill="#2bd27a"/><rect x="820" y="274.2" width="1" height="32.7" fill="#133d25"/><rect x="819" y="279.1" width="1" height="23.6" fill="#2bd27a"/><rect x="821" y="243.9" width="1" height="29.6" fill="#133d25"/><rect x="820" y="245.9" width="1" height="27.6" fill="#2bd27a"/><rect x="822" y="217.0" width="1" height="31.0" fill="#133d25"/><rect x="821" y="218.6" width="1" height="27.3" fill="#2bd27a"/><rect x="824" y="217.1" width="1" height="21.5" fill="#133d25"/><rect x="823" y="218.6" width="1" height="17.7" fill="#f2645a"/><rect x="825" y="217.0" width="1" height="22.0" fill="#133d25"/><rect x="824" y="223.6" width="1" height="12.6" fill="#2bd27a"/><rect x="827" y="229.7" width="1" height="6.9" fill="#133d25"/><rect x="826" y="231.3" width="1" height="2.3" fill="#2bd27a"/><rect x="828" y="228.5" width="1" height="17.6" fill="#133d25"/><rect x="827" y="231.3" width="1" height="11.9" fill="#f2645a"/><rect x="830" y="239.3" width="1" height="7.3" fill="#133d25"/><rect x="829" y="243.2" width="1" height="1.1" fill="#f2645a"/><rect x="831" y="235.8" width="1" height="30.2" fill="#133d25"/><rect x="830" y="238.2" width="1" height="19.1" fill="#2bd27a"/><rect x="833" y="233.2" width="1" height="7.0" fill="#133d25"/><rect x="832" y="237.5" width="1" height="1.0" fill="#2bd27a"/><rect x="834" y="231.0" width="1" height="21.1" fill="#133d25"/><rect x="833" y="237.5" width="1" height="11.8" fill="#f2645a"/><rect x="835" y="248.3" width="1" height="19.7" fill="#133d25"/><rect x="834" y="249.3" width="1" height="16.5" fill="#f2645a"/><rect x="837" y="263.7" width="1" height="22.4" fill="#133d25"/><rect x="836" y="265.8" width="1" height="18.2" fill="#f2645a"/><rect x="838" y="279.6" width="1" height="7.4" fill="#133d25"/><rect x="837" y="284.0" width="1" height="1.0" fill="#f2645a"/><rect x="840" y="284.2" width="1" height="2.8" fill="#133d25"/><rect x="839" y="285.0" width="1" height="1.0" fill="#f2645a"/><rect x="841" y="282.8" width="1" height="4.3" fill="#133d25"/><rect x="840" y="285.1" width="1" height="1.0" fill="#f2645a"/><rect x="843" y="275.7" width="1" height="11.8" fill="#133d25"/><rect x="842" y="280.1" width="1" height="5.2" fill="#2bd27a"/><rect x="844" y="270.8" width="1" height="10.5" fill="#133d25"/><rect x="843" y="272.3" width="1" height="7.8" fill="#2bd27a"/><rect x="845" y="271.4" width="1" height="3.5" fill="#133d25"/><rect x="844" y="272.3" width="1" height="1.7" fill="#f2645a"/><rect x="847" y="264.5" width="1" height="11.6" fill="#133d25"/><rect x="846" y="266.1" width="1" height="7.9" fill="#2bd27a"/><rect x="848" y="268.8" width="1" height="16.2" fill="#133d25"/><rect x="847" y="268.8" width="1" height="14.6" fill="#f2645a"/><rect x="850" y="280.5" width="1" height="25.5" fill="#133d25"/><rect x="849" y="283.4" width="1" height="15.1" fill="#f2645a"/><rect x="851" y="275.7" width="1" height="12.0" fill="#133d25"/><rect x="850" y="277.5" width="1" height="9.7" fill="#2bd27a"/><rect x="853" y="274.0" width="1" height="12.4" fill="#133d25"/><rect x="852" y="277.5" width="1" height="7.3" fill="#f2645a"/><rect x="854" y="274.0" width="1" height="22.4" fill="#133d25"/><rect x="853" y="278.3" width="1" height="16.6" fill="#f2645a"/><rect x="856" y="304.0" width="1" height="11.9" fill="#133d25"/><rect x="855" y="304.0" width="1" height="10.4" fill="#f2645a"/><rect x="857" y="331.0" width="1" height="16.1" fill="#133d25"/><rect x="856" y="331.0" width="1" height="13.5" fill="#f2645a"/><rect x="858" y="335.0" width="1" height="34.0" fill="#133d25"/><rect x="857" y="339.3" width="1" height="19.9" fill="#2bd27a"/><rect x="860" y="334.7" width="1" height="16.9" fill="#133d25"/><rect x="859" y="339.3" width="1" height="8.6" fill="#f2645a"/><rect x="861" y="329.4" width="1" height="22.1" fill="#133d25"/><rect x="860" y="333.7" width="1" height="14.3" fill="#2bd27a"/><rect x="863" y="303.0" width="1" height="37.5" fill="#133d25"/><rect x="862" y="315.3" width="1" height="22.1" fill="#f2645a"/><rect x="864" y="303.0" width="1" height="38.0" fill="#133d25"/><rect x="863" y="337.4" width="1" height="1.0" fill="#f2645a"/><rect x="866" y="326.4" width="1" height="14.3" fill="#133d25"/><rect x="865" y="328.4" width="1" height="9.1" fill="#2bd27a"/><rect x="867" y="300.7" width="1" height="40.3" fill="#133d25"/><rect x="866" y="303.2" width="1" height="31.2" fill="#2bd27a"/><rect x="869" y="295.0" width="1" height="8.9" fill="#133d25"/><rect x="868" y="302.8" width="1" height="1.0" fill="#2bd27a"/><rect x="870" y="302.2" width="1" height="3.7" fill="#133d25"/><rect x="869" y="302.8" width="1" height="1.5" fill="#f2645a"/><rect x="871" y="282.0" width="1" height="29.0" fill="#133d25"/><rect x="870" y="287.7" width="1" height="16.2" fill="#2bd27a"/><rect x="873" y="295.0" width="1" height="2.3" fill="#133d25"/><rect x="872" y="296.2" width="1" height="1.0" fill="#f2645a"/><rect x="874" y="282.0" width="1" height="19.0" fill="#133d25"/><rect x="873" y="287.7" width="1" height="11.3" fill="#f2645a"/><rect x="876" y="296.1" width="1" height="16.9" fill="#133d25"/><rect x="875" y="299.0" width="1" height="12.9" fill="#f2645a"/><rect x="877" y="307.5" width="1" height="15.6" fill="#133d25"/><rect x="876" y="311.9" width="1" height="6.6" fill="#f2645a"/><rect x="879" y="308.8" width="1" height="25.2" fill="#133d25"/><rect x="878" y="310.9" width="1" height="16.9" fill="#2bd27a"/><rect x="880" y="309.2" width="1" height="14.3" fill="#133d25"/><rect x="879" y="310.9" width="1" height="8.5" fill="#f2645a"/><rect x="881" y="295.0" width="1" height="36.9" fill="#133d25"/><rect x="880" y="304.8" width="1" height="24.5" fill="#f2645a"/><rect x="883" y="327.5" width="1" height="16.9" fill="#133d25"/><rect x="882" y="329.3" width="1" height="13.8" fill="#f2645a"/><rect x="884" y="337.1" width="1" height="46.9" fill="#133d25"/><rect x="883" y="343.0" width="1" height="24.9" fill="#f2645a"/><rect x="886" y="301.0" width="1" height="27.3" fill="#133d25"/><rect x="885" y="311.3" width="1" height="17.1" fill="#2bd27a"/><rect x="887" y="301.0" width="1" height="23.0" fill="#133d25"/><rect x="886" y="319.1" width="1" height="4.9" fill="#2bd27a"/><rect x="889" y="301.0" width="1" height="23.0" fill="#133d25"/><rect x="888" y="308.2" width="1" height="14.6" fill="#f2645a"/><rect x="890" y="318.1" width="1" height="6.0" fill="#133d25"/><rect x="889" y="319.3" width="1" height="3.6" fill="#2bd27a"/><rect x="892" y="316.3" width="1" height="15.5" fill="#133d25"/><rect x="891" y="319.3" width="1" height="11.2" fill="#f2645a"/><rect x="893" y="328.1" width="1" height="4.9" fill="#133d25"/><rect x="892" y="330.5" width="1" height="1.0" fill="#f2645a"/><rect x="894" y="327.9" width="1" height="5.1" fill="#133d25"/><rect x="893" y="330.9" width="1" height="1.0" fill="#f2645a"/><rect x="896" y="308.0" width="1" height="25.0" fill="#133d25"/><rect x="895" y="317.5" width="1" height="14.2" fill="#2bd27a"/><rect x="897" y="328.6" width="1" height="19.6" fill="#133d25"/><rect x="896" y="331.8" width="1" height="10.5" fill="#f2645a"/><rect x="899" y="340.4" width="1" height="45.0" fill="#133d25"/><rect x="898" y="342.2" width="1" height="36.5" fill="#f2645a"/><rect x="900" y="368.4" width="1" height="37.2" fill="#133d25"/><rect x="899" y="378.7" width="1" height="20.3" fill="#f2645a"/><rect x="902" y="362.7" width="1" height="44.3" fill="#133d25"/><rect x="901" y="367.7" width="1" height="36.1" fill="#2bd27a"/><rect x="903" y="362.9" width="1" height="8.3" fill="#133d25"/><rect x="902" y="367.7" width="1" height="1.6" fill="#f2645a"/><rect x="905" y="338.6" width="1" height="32.1" fill="#133d25"/><rect x="904" y="355.2" width="1" height="14.1" fill="#2bd27a"/><rect x="906" y="325.0" width="1" height="31.1" fill="#133d25"/><rect x="905" y="329.5" width="1" height="25.7" fill="#2bd27a"/><rect x="907" y="330.9" width="1" height="16.4" fill="#133d25"/><rect x="906" y="336.2" width="1" height="6.3" fill="#f2645a"/><rect x="909" y="338.0" width="1" height="7.1" fill="#133d25"/><rect x="908" y="341.0" width="1" height="1.4" fill="#2bd27a"/><rect x="910" y="338.4" width="1" height="23.2" fill="#133d25"/><rect x="909" y="341.0" width="1" height="17.1" fill="#f2645a"/><rect x="912" y="355.4" width="1" height="23.1" fill="#133d25"/><rect x="911" y="358.1" width="1" height="16.9" fill="#f2645a"/><rect x="913" y="371.2" width="1" height="30.1" fill="#133d25"/><rect x="912" y="375.0" width="1" height="4.3" fill="#f2645a"/><rect x="915" y="360.9" width="1" height="44.1" fill="#133d25"/><rect x="914" y="368.6" width="1" height="26.1" fill="#2bd27a"/><rect x="916" y="362.2" width="1" height="21.6" fill="#133d25"/><rect x="915" y="368.6" width="1" height="8.8" fill="#f2645a"/><rect x="917" y="368.2" width="1" height="13.1" fill="#133d25"/><rect x="916" y="372.3" width="1" height="5.1" fill="#2bd27a"/>
<polyline points="0.0,438.5 1.3,438.2 5.3,430.3 9.2,418.5 13.2,401.4 15.8,388.2 17.8,375.0 20.8,361.9 24.2,344.6 26.5,335.4 30.0,327.3 35.7,322.7 41.5,318.0 45.0,312.3 50.0,304.0 55.0,298.0 59.5,292.0 64.5,285.0 69.4,280.0 76.0,275.5 82.6,270.5 89.2,269.5 95.8,271.0 100.6,273.0 106.2,278.2 110.4,278.2 114.6,271.2 118.8,267.0 123.0,261.4 127.2,253.0 131.4,253.0 137.0,257.2 142.6,255.8 148.2,255.8 153.8,257.2 158.0,265.6 163.6,272.6 169.2,276.5 174.8,275.5 181.2,274.0 189.6,274.0 198.0,271.2 206.4,274.0 212.0,279.6 217.6,282.4 221.8,281.0 226.0,276.8 230.2,272.6 234.4,274.0 238.6,278.2 242.8,274.0 247.0,267.0 251.2,262.8 255.4,257.2 258.2,246.0 261.0,243.2 265.2,247.4 269.4,255.8 273.6,250.2 277.8,254.4 282.0,262.8 286.2,264.5 288.4,254.0 291.4,222.8 295.7,203.6 300.0,186.4 301.4,178.0 310.0,155.7 316.4,125.7 320.7,110.7 323.9,112.8 326.0,125.7 329.5,148.0 334.0,160.0 339.0,166.0 344.0,175.0 348.0,191.0 352.0,193.0 357.0,172.0 362.0,163.0 366.0,170.0 372.0,190.0 379.4,209.0 385.6,226.4 389.3,236.3 393.0,224.0 399.2,201.7 404.0,179.4 409.0,174.5 414.0,179.4 419.0,186.8 425.0,194.2 431.3,206.6 438.7,224.0 443.7,219.0 451.0,207.8 458.5,204.0 466.0,201.7 470.0,206.0 479.2,208.8 488.5,206.5 495.4,212.3 502.3,228.5 509.2,242.3 516.2,251.5 523.0,255.0 531.2,255.0 537.0,240.0 543.8,226.2 548.5,228.5 553.0,235.4 560.0,240.0 567.0,238.8 571.5,230.8 575.0,212.3 580.8,198.5 585.4,203.0 590.0,210.0 594.6,208.8 601.5,202.0 608.5,203.0 615.0,201.0 623.8,197.7 637.7,196.5 649.2,198.8 656.0,207.0 665.3,218.4 672.3,227.6 677.0,234.6 683.8,227.6 688.4,209.2 693.0,188.4 697.6,174.6 702.3,165.4 706.9,155.0 711.5,143.0 714.6,130.0 719.5,124.0 724.4,131.5 729.4,124.0 734.3,106.8 739.3,97.0 744.2,89.5 749.0,84.6 754.0,99.4 756.5,114.2 760.2,131.5 766.4,137.7 773.8,143.8 778.8,142.6 783.7,140.1 788.6,140.1 792.4,136.0 795.0,150.8 797.7,185.0 800.0,217.6 802.3,254.5 806.9,282.0 811.5,305.2 816.0,319.0 819.5,298.3 821.8,270.6 825.3,252.2 830.0,243.0 834.5,245.3 839.0,256.8 843.7,268.0 846.6,271.6 851.5,276.6 854.8,286.5 858.1,303.0 860.6,319.4 863.9,331.0 866.4,327.7 868.8,311.2 873.0,298.0 875.4,294.7 877.9,303.0 881.2,316.1 884.5,322.7 887.8,321.0 891.0,319.4 894.4,316.1 897.7,321.0 901.0,336.0 903.4,352.4 905.9,362.3 909.2,356.0 912.5,350.7 915.8,354.0" fill="none" stroke="#ff38ff" stroke-width="1" stroke-linejoin="round" />
<path d="M0.0 480.5h3M1.5 479.0v3M1.0 478.5h3M2.5 477.0v3M3.0 475.5h3M4.5 474.0v3M4.0 472.5h3M5.5 471.0v3M5.0 469.5h3M6.5 468.0v3M7.0 464.5h3M8.5 463.0v3M8.0 459.5h3M9.5 458.0v3M10.0 449.5h3M11.5 448.0v3M11.0 442.5h3M12.5 441.0v3M13.0 434.5h3M14.5 433.0v3M14.0 423.5h3M15.5 422.0v3M15.0 414.5h3M16.5 413.0v3M17.0 397.5h3M18.5 396.0v3M18.0 390.5h3M19.5 389.0v3M20.0 372.5h3M21.5 371.0v3M21.0 362.5h3M22.5 361.0v3M23.0 355.5h3M24.5 354.0v3M24.0 349.5h3M25.5 348.0v3M26.0 343.5h3M27.5 342.0v3M27.0 336.5h3M28.5 335.0v3M28.0 331.5h3M29.5 330.0v3M30.0 308.5h3M31.5 307.0v3M31.0 309.5h3M32.5 308.0v3M33.0 309.5h3M34.5 308.0v3M34.0 309.5h3M35.5 308.0v3M36.0 310.5h3M37.5 309.0v3M37.0 310.5h3M38.5 309.0v3M39.0 311.5h3M40.5 310.0v3M40.0 329.5h3M41.5 328.0v3M41.0 327.5h3M42.5 326.0v3M43.0 324.5h3M44.5 323.0v3M44.0 322.5h3M45.5 321.0v3M46.0 320.5h3M47.5 319.0v3M47.0 318.5h3M48.5 317.0v3M49.0 316.5h3M50.5 315.0v3M50.0 314.5h3M51.5 313.0v3M51.0 312.5h3M52.5 311.0v3M53.0 309.5h3M54.5 308.0v3M54.0 307.5h3M55.5 306.0v3M56.0 305.5h3M57.5 304.0v3M57.0 302.5h3M58.5 301.0v3M59.0 299.5h3M60.5 298.0v3M60.0 296.5h3M61.5 295.0v3M62.0 292.5h3M63.5 291.0v3M63.0 288.5h3M64.5 287.0v3M64.0 274.5h3M65.5 273.0v3M66.0 275.5h3M67.5 274.0v3M67.0 276.5h3M68.5 275.0v3M69.0 276.5h3M70.5 275.0v3M70.0 277.5h3M71.5 276.0v3M72.0 300.5h3M73.5 299.0v3M73.0 299.5h3M74.5 298.0v3M75.0 298.5h3M76.5 297.0v3M76.0 296.5h3M77.5 295.0v3M77.0 294.5h3M78.5 293.0v3M79.0 292.5h3M80.5 291.0v3M80.0 290.5h3M81.5 289.0v3M82.0 287.5h3M83.5 286.0v3M83.0 285.5h3M84.5 284.0v3M85.0 282.5h3M86.5 281.0v3M86.0 280.5h3M87.5 279.0v3M87.0 278.5h3M88.5 277.0v3M89.0 277.5h3M90.5 276.0v3M90.0 276.5h3M91.5 275.0v3M92.0 276.5h3M93.5 275.0v3M93.0 275.5h3M94.5 274.0v3M95.0 258.5h3M96.5 257.0v3M96.0 259.5h3M97.5 258.0v3M98.0 260.5h3M99.5 259.0v3M99.0 261.5h3M100.5 260.0v3M100.0 262.5h3M101.5 261.0v3M102.0 263.5h3M103.5 262.0v3M103.0 264.5h3M104.5 263.0v3M105.0 265.5h3M106.5 264.0v3M106.0 266.5h3M107.5 265.0v3M108.0 266.5h3M109.5 265.0v3M109.0 267.5h3M110.5 266.0v3M111.0 268.5h3M112.5 267.0v3M112.0 288.5h3M113.5 287.0v3M113.0 286.5h3M114.5 285.0v3M115.0 285.5h3M116.5 284.0v3M116.0 283.5h3M117.5 282.0v3M118.0 281.5h3M119.5 280.0v3M119.0 280.5h3M120.5 279.0v3M121.0 278.5h3M122.5 277.0v3M122.0 276.5h3M123.5 275.0v3M123.0 274.5h3M124.5 273.0v3M125.0 272.5h3M126.5 271.0v3M126.0 269.5h3M127.5 268.0v3M128.0 266.5h3M129.5 265.0v3M129.0 263.5h3M130.5 262.0v3M131.0 260.5h3M132.5 259.0v3M132.0 242.5h3M133.5 241.0v3M134.0 243.5h3M135.5 242.0v3M135.0 244.5h3M136.5 243.0v3M136.0 244.5h3M137.5 243.0v3M138.0 245.5h3M139.5 244.0v3M139.0 246.5h3M140.5 245.0v3M141.0 247.5h3M142.5 246.0v3M142.0 248.5h3M143.5 247.0v3M144.0 249.5h3M145.5 248.0v3M145.0 250.5h3M146.5 249.0v3M147.0 250.5h3M148.5 249.0v3M148.0 251.5h3M149.5 250.0v3M149.0 252.5h3M150.5 251.0v3M151.0 253.5h3M152.5 252.0v3M152.0 271.5h3M153.5 270.0v3M154.0 246.5h3M155.5 245.0v3M155.0 248.5h3M156.5 247.0v3M157.0 249.5h3M158.5 248.0v3M158.0 251.5h3M159.5 250.0v3M159.0 253.5h3M160.5 252.0v3M161.0 255.5h3M162.5 254.0v3M162.0 257.5h3M163.5 256.0v3M164.0 259.5h3M165.5 258.0v3M165.0 261.5h3M166.5 260.0v3M167.0 264.5h3M168.5 263.0v3M168.0 267.5h3M169.5 266.0v3M170.0 270.5h3M171.5 269.0v3M171.0 274.5h3M172.5 273.0v3M172.0 289.5h3M173.5 288.0v3M174.0 288.5h3M175.5 287.0v3M175.0 287.5h3M176.5 286.0v3M177.0 285.5h3M178.5 284.0v3M178.0 284.5h3M179.5 283.0v3M180.0 283.5h3M181.5 282.0v3M181.0 281.5h3M182.5 280.0v3M183.0 280.5h3M184.5 279.0v3M184.0 266.5h3M185.5 265.0v3M185.0 266.5h3M186.5 265.0v3M187.0 266.5h3M188.5 265.0v3M188.0 266.5h3M189.5 265.0v3M190.0 266.5h3M191.5 265.0v3M191.0 266.5h3M192.5 265.0v3M193.0 267.5h3M194.5 266.0v3M194.0 267.5h3M195.5 266.0v3M195.0 267.5h3M196.5 266.0v3M197.0 284.5h3M198.5 283.0v3M198.0 283.5h3M199.5 282.0v3M200.0 282.5h3M201.5 281.0v3M201.0 281.5h3M202.5 280.0v3M203.0 280.5h3M204.5 279.0v3M204.0 280.5h3M205.5 279.0v3M206.0 279.5h3M207.5 278.0v3M207.0 278.5h3M208.5 277.0v3M208.0 266.5h3M209.5 265.0v3M210.0 267.5h3M211.5 266.0v3M211.0 268.5h3M212.5 267.0v3M213.0 269.5h3M214.5 268.0v3M214.0 270.5h3M215.5 269.0v3M216.0 272.5h3M217.5 271.0v3M217.0 273.5h3M218.5 272.0v3M219.0 274.5h3M220.5 273.0v3M220.0 275.5h3M221.5 274.0v3M221.0 276.5h3M222.5 275.0v3M223.0 278.5h3M224.5 277.0v3M224.0 278.5h3M225.5 277.0v3M226.0 287.5h3M227.5 286.0v3M227.0 286.5h3M228.5 285.0v3M229.0 285.5h3M230.5 284.0v3M230.0 284.5h3M231.5 283.0v3M231.0 283.5h3M232.5 282.0v3M233.0 282.5h3M234.5 281.0v3M234.0 281.5h3M235.5 280.0v3M236.0 280.5h3M237.5 279.0v3M237.0 279.5h3M238.5 278.0v3M239.0 278.5h3M240.5 277.0v3M240.0 284.5h3M241.5 283.0v3M242.0 283.5h3M243.5 282.0v3M243.0 281.5h3M244.5 280.0v3M244.0 280.5h3M245.5 279.0v3M246.0 278.5h3M247.5 277.0v3M247.0 277.5h3M248.5 276.0v3M249.0 275.5h3M250.5 274.0v3M250.0 273.5h3M251.5 272.0v3M252.0 271.5h3M253.5 270.0v3M253.0 269.5h3M254.5 268.0v3M255.0 267.5h3M256.5 266.0v3M256.0 263.5h3M257.5 262.0v3M257.0 260.5h3M258.5 259.0v3M259.0 258.5h3M260.5 257.0v3M260.0 256.5h3M261.5 255.0v3M262.0 227.5h3M263.5 226.0v3M263.0 229.5h3M264.5 228.0v3M265.0 231.5h3M266.5 230.0v3M266.0 234.5h3M267.5 233.0v3M267.0 236.5h3M268.5 235.0v3M269.0 238.5h3M270.5 237.0v3M270.0 239.5h3M271.5 238.0v3M272.0 277.5h3M273.5 276.0v3M273.0 274.5h3M274.5 273.0v3M275.0 271.5h3M276.5 270.0v3M276.0 270.5h3M277.5 269.0v3M278.0 223.5h3M279.5 222.0v3M279.0 224.5h3M280.5 223.0v3M280.0 225.5h3M281.5 224.0v3M282.0 227.5h3M283.5 226.0v3M283.0 230.5h3M284.5 229.0v3M285.0 233.5h3M286.5 232.0v3M286.0 235.5h3M287.5 234.0v3M288.0 287.5h3M289.5 286.0v3M289.0 284.5h3M290.5 283.0v3M291.0 280.5h3M292.5 279.0v3M292.0 276.5h3M293.5 275.0v3M293.0 270.5h3M294.5 269.0v3M295.0 261.5h3M296.5 260.0v3M296.0 256.5h3M297.5 255.0v3M298.0 248.5h3M299.5 247.0v3M299.0 238.5h3M300.5 237.0v3M301.0 230.5h3M302.5 229.0v3M302.0 223.5h3M303.5 222.0v3M303.0 216.5h3M304.5 215.0v3M305.0 208.5h3M306.5 207.0v3M306.0 195.5h3M307.5 194.0v3M308.0 181.5h3M309.5 180.0v3M309.0 174.5h3M310.5 173.0v3M311.0 165.5h3M312.5 164.0v3M312.0 153.5h3M313.5 152.0v3M314.0 146.5h3M315.5 145.0v3M315.0 137.5h3M316.5 136.0v3M316.0 130.5h3M317.5 129.0v3M318.0 122.5h3M319.5 121.0v3M319.0 116.5h3M320.5 115.0v3M321.0 80.5h3M322.5 79.0v3M322.0 82.5h3M323.5 81.0v3M324.0 84.5h3M325.5 83.0v3M325.0 91.5h3M326.5 90.0v3M327.0 102.5h3M328.5 101.0v3M328.0 111.5h3M329.5 110.0v3M329.0 122.5h3M330.5 121.0v3M331.0 130.5h3M332.5 129.0v3M332.0 138.5h3M333.5 137.0v3M334.0 143.5h3M335.5 142.0v3M335.0 150.5h3M336.5 149.0v3M337.0 154.5h3M338.5 153.0v3M338.0 158.5h3M339.5 157.0v3M339.0 160.5h3M340.5 159.0v3M341.0 162.5h3M342.5 161.0v3M342.0 163.5h3M343.5 162.0v3M344.0 166.5h3M345.5 165.0v3M345.0 168.5h3M346.5 167.0v3M347.0 173.5h3M348.5 172.0v3M348.0 177.5h3M349.5 176.0v3M350.0 181.5h3M351.5 180.0v3M351.0 226.5h3M352.5 225.0v3M352.0 221.5h3M353.5 220.0v3M354.0 216.5h3M355.5 215.0v3M355.0 210.5h3M356.5 209.0v3M357.0 205.5h3M358.5 204.0v3M358.0 200.5h3M359.5 199.0v3M360.0 194.5h3M361.5 193.0v3M361.0 189.5h3M362.5 188.0v3M363.0 142.5h3M364.5 141.0v3M364.0 145.5h3M365.5 144.0v3M365.0 148.5h3M366.5 147.0v3M367.0 151.5h3M368.5 150.0v3M368.0 154.5h3M369.5 153.0v3M370.0 157.5h3M371.5 156.0v3M371.0 160.5h3M372.5 159.0v3M373.0 164.5h3M374.5 163.0v3M374.0 168.5h3M375.5 167.0v3M375.0 171.5h3M376.5 170.0v3M377.0 175.5h3M378.5 174.0v3M378.0 178.5h3M379.5 177.0v3M380.0 184.5h3M381.5 183.0v3M381.0 191.5h3M382.5 190.0v3M383.0 198.5h3M384.5 197.0v3M384.0 205.5h3M385.5 204.0v3M386.0 213.5h3M387.5 212.0v3M387.0 272.5h3M388.5 271.0v3M388.0 270.5h3M389.5 269.0v3M390.0 268.5h3M391.5 267.0v3M391.0 266.5h3M392.5 265.0v3M393.0 264.5h3M394.5 263.0v3M394.0 262.5h3M395.5 261.0v3M396.0 259.5h3M397.5 258.0v3M397.0 257.5h3M398.5 256.0v3M399.0 255.5h3M400.5 254.0v3M400.0 252.5h3M401.5 251.0v3M401.0 247.5h3M402.5 246.0v3M403.0 239.5h3M404.5 238.0v3M404.0 231.5h3M405.5 230.0v3M406.0 224.5h3M407.5 223.0v3M407.0 218.5h3M408.5 217.0v3M409.0 213.5h3M410.5 212.0v3M410.0 208.5h3M411.5 207.0v3M411.0 205.5h3M412.5 204.0v3M413.0 202.5h3M414.5 201.0v3M414.0 199.5h3M415.5 198.0v3M416.0 197.5h3M417.5 196.0v3M417.0 153.5h3M418.5 152.0v3M419.0 156.5h3M420.5 155.0v3M420.0 158.5h3M421.5 157.0v3M422.0 161.5h3M423.5 160.0v3M423.0 163.5h3M424.5 162.0v3M424.0 166.5h3M425.5 165.0v3M426.0 169.5h3M427.5 168.0v3M427.0 172.5h3M428.5 171.0v3M429.0 175.5h3M430.5 174.0v3M430.0 178.5h3M431.5 177.0v3M432.0 182.5h3M433.5 181.0v3M433.0 185.5h3M434.5 184.0v3M435.0 189.5h3M436.5 188.0v3M436.0 192.5h3M437.5 191.0v3M437.0 196.5h3M438.5 195.0v3M439.0 200.5h3M440.5 199.0v3M440.0 204.5h3M441.5 203.0v3M442.0 208.5h3M443.5 207.0v3M443.0 212.5h3M444.5 211.0v3M445.0 246.5h3M446.5 245.0v3M446.0 245.5h3M447.5 244.0v3M447.0 243.5h3M448.5 242.0v3M449.0 241.5h3M450.5 240.0v3M450.0 239.5h3M451.5 238.0v3M452.0 237.5h3M453.5 236.0v3M453.0 235.5h3M454.5 234.0v3M455.0 233.5h3M456.5 232.0v3M456.0 232.5h3M457.5 231.0v3M458.0 230.5h3M459.5 229.0v3M459.0 228.5h3M460.5 227.0v3M460.0 226.5h3M461.5 225.0v3M462.0 225.5h3M463.5 224.0v3M463.0 223.5h3M464.5 222.0v3M465.0 221.5h3M466.5 220.0v3M466.0 220.5h3M467.5 219.0v3M468.0 218.5h3M469.5 217.0v3M469.0 216.5h3M470.5 215.0v3M471.0 216.5h3M472.5 215.0v3M472.0 194.5h3M473.5 193.0v3M473.0 195.5h3M474.5 194.0v3M475.0 196.5h3M476.5 195.0v3M476.0 196.5h3M477.5 195.0v3M478.0 197.5h3M479.5 196.0v3M479.0 198.5h3M480.5 197.0v3M481.0 199.5h3M482.5 198.0v3M482.0 200.5h3M483.5 199.0v3M483.0 201.5h3M484.5 200.0v3M485.0 202.5h3M486.5 201.0v3M486.0 203.5h3M487.5 202.0v3M488.0 222.5h3M489.5 221.0v3M489.0 220.5h3M490.5 219.0v3M491.0 218.5h3M492.5 217.0v3M492.0 197.5h3M493.5 196.0v3M494.0 198.5h3M495.5 197.0v3M495.0 200.5h3M496.5 199.0v3M496.0 201.5h3M497.5 200.0v3M498.0 203.5h3M499.5 202.0v3M499.0 205.5h3M500.5 204.0v3M501.0 207.5h3M502.5 206.0v3M502.0 209.5h3M503.5 208.0v3M504.0 211.5h3M505.5 210.0v3M505.0 213.5h3M506.5 212.0v3M507.0 215.5h3M508.5 214.0v3M508.0 217.5h3M509.5 216.0v3M509.0 220.5h3M510.5 219.0v3M511.0 222.5h3M512.5 221.0v3M512.0 224.5h3M513.5 223.0v3M514.0 226.5h3M515.5 225.0v3M515.0 228.5h3M516.5 227.0v3M517.0 230.5h3M518.5 229.0v3M518.0 232.5h3M519.5 231.0v3M519.0 234.5h3M520.5 233.0v3M521.0 235.5h3M522.5 234.0v3M522.0 237.5h3M523.5 236.0v3M524.0 239.5h3M525.5 238.0v3M525.0 241.5h3M526.5 240.0v3M527.0 243.5h3M528.5 242.0v3M528.0 245.5h3M529.5 244.0v3M530.0 246.5h3M531.5 245.0v3M531.0 258.5h3M532.5 257.0v3M532.0 256.5h3M533.5 255.0v3M534.0 254.5h3M535.5 253.0v3M535.0 251.5h3M536.5 250.0v3M537.0 248.5h3M538.5 247.0v3M538.0 246.5h3M539.5 245.0v3M540.0 243.5h3M541.5 242.0v3M541.0 241.5h3M542.5 240.0v3M543.0 238.5h3M544.5 237.0v3M544.0 214.5h3M545.5 213.0v3M545.0 215.5h3M546.5 214.0v3M547.0 216.5h3M548.5 215.0v3M548.0 218.5h3M549.5 217.0v3M550.0 219.5h3M551.5 218.0v3M551.0 221.5h3M552.5 220.0v3M553.0 222.5h3M554.5 221.0v3M554.0 224.5h3M555.5 223.0v3M555.0 226.5h3M556.5 225.0v3M557.0 227.5h3M558.5 226.0v3M558.0 229.5h3M559.5 228.0v3M560.0 231.5h3M561.5 230.0v3M561.0 233.5h3M562.5 232.0v3M563.0 234.5h3M564.5 233.0v3M564.0 236.5h3M565.5 235.0v3M566.0 238.5h3M567.5 237.0v3M567.0 244.5h3M568.5 243.0v3M568.0 242.5h3M569.5 241.0v3M570.0 239.5h3M571.5 238.0v3M571.0 237.5h3M572.5 236.0v3M573.0 234.5h3M574.5 233.0v3M574.0 231.5h3M575.5 230.0v3M576.0 228.5h3M577.5 227.0v3M577.0 225.5h3M578.5 224.0v3M579.0 221.5h3M580.5 220.0v3M580.0 218.5h3M581.5 217.0v3M581.0 215.5h3M582.5 214.0v3M583.0 212.5h3M584.5 211.0v3M584.0 187.5h3M585.5 186.0v3M586.0 188.5h3M587.5 187.0v3M587.0 189.5h3M588.5 188.0v3M589.0 190.5h3M590.5 189.0v3M590.0 191.5h3M591.5 190.0v3M591.0 192.5h3M592.5 191.0v3M593.0 194.5h3M594.5 193.0v3M594.0 195.5h3M595.5 194.0v3M596.0 196.5h3M597.5 195.0v3M597.0 198.5h3M598.5 197.0v3M599.0 198.5h3M600.5 197.0v3M600.0 219.5h3M601.5 218.0v3M602.0 217.5h3M603.5 216.0v3M603.0 216.5h3M604.5 215.0v3M604.0 215.5h3M605.5 214.0v3M606.0 214.5h3M607.5 213.0v3M607.0 213.5h3M608.5 212.0v3M609.0 212.5h3M610.5 211.0v3M610.0 211.5h3M611.5 210.0v3M612.0 210.5h3M613.5 209.0v3M613.0 209.5h3M614.5 208.0v3M615.0 208.5h3M616.5 207.0v3M616.0 207.5h3M617.5 206.0v3M617.0 206.5h3M618.5 205.0v3M619.0 205.5h3M620.5 204.0v3M620.0 204.5h3M621.5 203.0v3M622.0 203.5h3M623.5 202.0v3M623.0 201.5h3M624.5 200.0v3M625.0 200.5h3M626.5 199.0v3M626.0 199.5h3M627.5 198.0v3M627.0 197.5h3M628.5 196.0v3M629.0 196.5h3M630.5 195.0v3M630.0 195.5h3M631.5 194.0v3M632.0 194.5h3M633.5 193.0v3M633.0 192.5h3M634.5 191.0v3M635.0 191.5h3M636.5 190.0v3M636.0 190.5h3M637.5 189.0v3M638.0 190.5h3M639.5 189.0v3M639.0 191.5h3M640.5 190.0v3M640.0 193.5h3M641.5 192.0v3M642.0 194.5h3M643.5 193.0v3M643.0 195.5h3M644.5 194.0v3M645.0 196.5h3M646.5 195.0v3M646.0 198.5h3M647.5 197.0v3M648.0 199.5h3M649.5 198.0v3M649.0 200.5h3M650.5 199.0v3M651.0 202.5h3M652.5 201.0v3M652.0 203.5h3M653.5 202.0v3M653.0 204.5h3M654.5 203.0v3M655.0 206.5h3M656.5 205.0v3M656.0 207.5h3M657.5 206.0v3M658.0 209.5h3M659.5 208.0v3M659.0 210.5h3M660.5 209.0v3M661.0 212.5h3M662.5 211.0v3M662.0 213.5h3M663.5 212.0v3M663.0 215.5h3M664.5 214.0v3M665.0 216.5h3M666.5 215.0v3M666.0 218.5h3M667.5 217.0v3M668.0 219.5h3M669.5 218.0v3M669.0 221.5h3M670.5 220.0v3M671.0 264.5h3M672.5 263.0v3M672.0 263.5h3M673.5 262.0v3M674.0 262.5h3M675.5 261.0v3M675.0 261.5h3M676.5 260.0v3M676.0 260.5h3M677.5 259.0v3M678.0 258.5h3M679.5 257.0v3M679.0 257.5h3M680.5 256.0v3M681.0 255.5h3M682.5 254.0v3M682.0 253.5h3M683.5 252.0v3M684.0 252.5h3M685.5 251.0v3M685.0 250.5h3M686.5 249.0v3M687.0 247.5h3M688.5 246.0v3M688.0 237.5h3M689.5 236.0v3M689.0 226.5h3M690.5 225.0v3M691.0 219.5h3M692.5 218.0v3M692.0 212.5h3M693.5 211.0v3M694.0 205.5h3M695.5 204.0v3M695.0 197.5h3M696.5 196.0v3M697.0 190.5h3M698.5 189.0v3M698.0 184.5h3M699.5 183.0v3M699.0 179.5h3M700.5 178.0v3M701.0 174.5h3M702.5 173.0v3M702.0 169.5h3M703.5 168.0v3M704.0 165.5h3M705.5 164.0v3M705.0 160.5h3M706.5 159.0v3M707.0 156.5h3M708.5 155.0v3M708.0 152.5h3M709.5 151.0v3M710.0 147.5h3M711.5 146.0v3M711.0 143.5h3M712.5 142.0v3M712.0 104.5h3M713.5 103.0v3M714.0 104.5h3M715.5 103.0v3M715.0 104.5h3M716.5 103.0v3M717.0 106.5h3M718.5 105.0v3M718.0 109.5h3M719.5 108.0v3M720.0 112.5h3M721.5 111.0v3M721.0 114.5h3M722.5 113.0v3M723.0 153.5h3M724.5 152.0v3M724.0 151.5h3M725.5 150.0v3M725.0 147.5h3M726.5 146.0v3M727.0 142.5h3M728.5 141.0v3M728.0 138.5h3M729.5 137.0v3M730.0 134.5h3M731.5 133.0v3M731.0 129.5h3M732.5 128.0v3M733.0 125.5h3M734.5 124.0v3M734.0 121.5h3M735.5 120.0v3M735.0 116.5h3M736.5 115.0v3M737.0 111.5h3M738.5 110.0v3M738.0 106.5h3M739.5 105.0v3M740.0 102.5h3M741.5 101.0v3M741.0 97.5h3M742.5 96.0v3M743.0 93.5h3M744.5 92.0v3M744.0 88.5h3M745.5 87.0v3M746.0 82.5h3M747.5 81.0v3M747.0 77.5h3M748.5 76.0v3M748.0 74.5h3M749.5 73.0v3M750.0 79.5h3M751.5 78.0v3M751.0 83.5h3M752.5 82.0v3M753.0 86.5h3M754.5 85.0v3M754.0 88.5h3M755.5 87.0v3M756.0 93.5h3M757.5 92.0v3M757.0 99.5h3M758.5 98.0v3M759.0 107.5h3M760.5 106.0v3M760.0 115.5h3M761.5 114.0v3M761.0 120.5h3M762.5 119.0v3M763.0 125.5h3M764.5 124.0v3M764.0 128.5h3M765.5 127.0v3M766.0 132.5h3M767.5 131.0v3M767.0 135.5h3M768.5 134.0v3M769.0 137.5h3M770.5 136.0v3M770.0 140.5h3M771.5 139.0v3M771.0 142.5h3M772.5 141.0v3M773.0 172.5h3M774.5 171.0v3M774.0 170.5h3M775.5 169.0v3M776.0 169.5h3M777.5 168.0v3M777.0 168.5h3M778.5 167.0v3M779.0 166.5h3M780.5 165.0v3M780.0 165.5h3M781.5 164.0v3M782.0 163.5h3M783.5 162.0v3M783.0 161.5h3M784.5 160.0v3M784.0 159.5h3M785.5 158.0v3M786.0 158.5h3M787.5 157.0v3M787.0 156.5h3M788.5 155.0v3M789.0 155.5h3M790.5 154.0v3M790.0 153.5h3M791.5 152.0v3M792.0 152.5h3M793.5 151.0v3M793.0 71.5h3M794.5 70.0v3M795.0 76.5h3M796.5 75.0v3M796.0 88.5h3M797.5 87.0v3M797.0 101.5h3M798.5 100.0v3M799.0 112.5h3M800.5 111.0v3M800.0 126.5h3M801.5 125.0v3M802.0 148.5h3M803.5 147.0v3M803.0 162.5h3M804.5 161.0v3M805.0 182.5h3M806.5 181.0v3M806.0 207.5h3M807.5 206.0v3M807.0 230.5h3M808.5 229.0v3M809.0 242.5h3M810.5 241.0v3M810.0 263.5h3M811.5 262.0v3M812.0 277.5h3M813.5 276.0v3M813.0 291.5h3M814.5 290.0v3M815.0 354.5h3M816.5 353.0v3M816.0 350.5h3M817.5 349.0v3M818.0 345.5h3M819.5 344.0v3M819.0 337.5h3M820.5 336.0v3M820.0 325.5h3M821.5 324.0v3M822.0 318.5h3M823.5 317.0v3M823.0 309.5h3M824.5 308.0v3M825.0 301.5h3M826.5 300.0v3M826.0 294.5h3M827.5 293.0v3M828.0 287.5h3M829.5 286.0v3M829.0 281.5h3M830.5 280.0v3M831.0 275.5h3M832.5 274.0v3M832.0 270.5h3M833.5 269.0v3M833.0 266.5h3M834.5 265.0v3M835.0 214.5h3M836.5 213.0v3M836.0 216.5h3M837.5 215.0v3M838.0 219.5h3M839.5 218.0v3M839.0 221.5h3M840.5 220.0v3M841.0 223.5h3M842.5 222.0v3M842.0 226.5h3M843.5 225.0v3M843.0 229.5h3M844.5 228.0v3M845.0 232.5h3M846.5 231.0v3M846.0 236.5h3M847.5 235.0v3M848.0 240.5h3M849.5 239.0v3M849.0 244.5h3M850.5 243.0v3M851.0 248.5h3M852.5 247.0v3M852.0 253.5h3M853.5 252.0v3M854.0 257.5h3M855.5 256.0v3M855.0 261.5h3M856.5 260.0v3M856.0 271.5h3M857.5 270.0v3M858.0 282.5h3M859.5 281.0v3M859.0 290.5h3M860.5 289.0v3M861.0 301.5h3M862.5 300.0v3M862.0 305.5h3M863.5 304.0v3M864.0 307.5h3M865.5 306.0v3M865.0 369.5h3M866.5 368.0v3M867.0 366.5h3M868.5 365.0v3M868.0 361.5h3M869.5 360.0v3M869.0 356.5h3M870.5 355.0v3M871.0 349.5h3M872.5 348.0v3M872.0 340.5h3M873.5 339.0v3M874.0 333.5h3M875.5 332.0v3M875.0 329.5h3M876.5 328.0v3M877.0 326.5h3M878.5 325.0v3M878.0 283.5h3M879.5 282.0v3M879.0 286.5h3M880.5 285.0v3M881.0 289.5h3M882.5 288.0v3M882.0 292.5h3M883.5 291.0v3M884.0 294.5h3M885.5 293.0v3M885.0 297.5h3M886.5 296.0v3M887.0 299.5h3M888.5 298.0v3M888.0 302.5h3M889.5 301.0v3M890.0 304.5h3M891.5 303.0v3M891.0 305.5h3M892.5 304.0v3M892.0 307.5h3M893.5 306.0v3M894.0 309.5h3M895.5 308.0v3M895.0 311.5h3M896.5 310.0v3M897.0 313.5h3M898.5 312.0v3M898.0 315.5h3M899.5 314.0v3M900.0 317.5h3M901.5 316.0v3M901.0 319.5h3M902.5 318.0v3M903.0 320.5h3M904.5 319.0v3M904.0 408.5h3M905.5 407.0v3M905.0 407.5h3M906.5 406.0v3M907.0 405.5h3M908.5 404.0v3M908.0 404.5h3M909.5 403.0v3M910.0 402.5h3M911.5 401.0v3M911.0 324.5h3M912.5 323.0v3M913.0 325.5h3M914.5 324.0v3M914.0 327.5h3M915.5 326.0v3M915.0 329.5h3M916.5 328.0v3" stroke="#3b3bff" stroke-width="1.1" fill="none"/>
<polyline points="0.0,425.0 4.0,414.5 7.9,404.0 11.9,385.5 13.5,378.0 15.5,362.0 17.5,348.0 19.6,333.0 21.9,315.8 23.5,305.0 26.6,293.0 30.0,285.0 33.0,282.3 36.5,285.0 38.5,287.0 41.4,296.5 43.9,301.0 48.8,297.8 54.6,289.5 60.0,279.0 64.2,274.0 68.4,271.2 74.2,269.0 78.2,262.8 82.0,260.5 88.0,260.5 92.2,259.3 96.0,257.5 100.6,260.0 104.8,259.3 109.0,260.7 113.2,260.0 118.8,256.5 123.0,251.6 126.5,244.6 130.0,241.8 134.2,241.1 139.8,243.9 145.4,245.3 149.6,246.5 152.4,246.0 158.0,244.6 163.4,243.1 167.8,244.6 172.0,248.8 176.2,253.0 179.8,256.0 182.6,262.8 185.4,265.8 192.4,266.3 200.8,266.3 209.2,266.3 217.6,266.5 226.0,266.0 234.4,266.3 241.4,267.0 244.2,265.0 248.4,257.2 252.6,252.0 255.4,246.0 257.5,232.0 259.6,228.5 265.2,229.2 270.8,230.2 276.4,229.5 282.0,228.3 285.5,230.5 288.5,233.0 291.0,210.0 295.0,172.0 299.3,151.4 302.5,134.2 307.8,117.1 314.3,108.5 319.6,91.4 325.0,87.1 331.4,87.1 337.8,86.0 342.0,89.3 346.4,102.0 348.5,119.3 350.7,136.4 353.9,143.5 359.2,141.0 363.5,139.0 370.0,141.0 379.4,140.0 383.0,142.4 388.0,157.0 391.8,174.5 396.7,175.7 400.4,164.6 404.0,149.8 411.5,141.0 416.5,147.3 424.0,152.2 431.3,154.7 438.7,169.5 443.7,184.4 447.4,190.5 456.0,190.5 463.4,188.0 468.4,190.5 475.8,195.0 481.0,195.5 488.5,198.5 495.4,197.3 501.2,191.5 507.0,192.7 513.8,196.2 518.5,207.7 523.0,223.8 528.8,237.7 532.3,241.2 537.0,230.8 541.5,219.2 546.2,213.5 550.8,211.2 557.7,215.8 562.3,218.0 567.0,221.5 569.2,219.2 572.7,207.7 576.2,191.5 580.8,182.3 587.7,178.8 594.6,181.2 599.2,187.0 603.9,193.8 608.5,196.0 615.4,195.0 619.2,193.0 628.5,190.7 637.7,189.6 646.9,191.9 653.8,189.6 663.0,189.6 672.3,191.9 676.9,197.7 681.5,202.3 685.5,206.0 687.5,200.0 689.6,176.0 693.0,160.0 697.6,146.0 702.2,141.4 709.6,121.6 713.3,105.6 717.0,103.0 724.4,105.6 729.4,101.9 734.3,87.0 739.3,74.7 744.2,67.3 749.0,66.0 754.0,69.8 759.0,60.0 764.0,57.4 767.7,60.0 771.4,69.8 776.3,89.5 778.8,106.8 781.9,113.9 785.8,116.5 791.1,110.0 795.0,92.8 797.7,69.0 800.3,57.2 803.0,53.2 807.0,55.8 809.6,63.7 812.2,77.0 814.9,92.8 816.2,119.2 817.5,145.5 818.8,172.0 820.1,198.3 820.7,219.0 823.0,217.6 827.6,203.8 832.2,197.0 835.7,194.6 839.0,199.2 843.7,213.0 848.3,222.3 851.8,226.9 855.3,220.0 858.7,218.8 861.0,229.2 866.8,243.0 871.4,252.2 876.0,264.0 879.5,270.0 882.8,276.6 889.4,281.5 894.4,282.4 897.7,286.0 901.0,277.0 904.3,284.5 910.8,286.5 914.1,291.4 916.6,298.0" fill="none" stroke="#5e5eff" stroke-width="1" stroke-linejoin="round" />
<polyline points="0.0,479.0 4.0,478.0 8.0,477.0 12.0,478.5 16.0,480.0 20.0,479.0 25.0,470.0 29.4,445.5 33.6,420.0 37.3,398.0 40.4,380.0 42.7,356.0 45.0,343.4 48.4,337.7 51.9,331.9 55.0,329.6 62.8,322.5 67.8,315.9 72.7,306.0 76.8,300.5 79.3,296.1 85.9,289.5 88.0,288.0 93.6,285.0 99.2,284.2 103.4,285.2 107.6,286.6 113.2,288.0 120.2,288.0 124.4,289.4 128.6,292.2 132.8,286.6 138.4,275.4 142.6,271.2 145.4,267.0 149.6,266.3 153.8,266.3 158.0,274.0 162.2,282.4 166.4,288.0 170.6,290.8 173.4,292.0 177.6,289.4 184.0,286.6 191.0,283.8 198.0,282.4 203.6,281.0 207.8,282.4 212.0,285.2 217.6,288.0 223.2,288.7 228.8,289.4 237.2,289.4 245.6,288.0 251.2,286.6 255.4,289.4 258.2,294.0 261.0,292.2 265.2,286.6 269.4,281.0 273.0,274.5 276.4,272.4 280.6,272.6 284.8,276.8 288.5,279.5 291.4,279.0 293.0,293.0 295.7,301.0 302.0,304.2 304.2,300.0 308.5,278.5 312.8,237.8 317.0,217.5 320.3,212.0 323.5,201.4 326.3,193.0 330.0,193.5 334.2,195.0 337.4,196.7 342.0,199.0 347.3,200.4 359.7,206.6 367.0,215.2 372.0,224.0 379.4,231.3 383.0,238.7 386.8,258.5 391.8,258.5 396.7,257.3 401.7,266.0 406.6,267.0 411.5,253.5 416.5,233.8 421.4,231.3 428.8,233.8 433.8,241.2 438.7,248.6 446.0,247.4 453.5,240.0 458.5,241.2 464.7,233.8 468.4,224.0 472.0,217.5 479.2,219.2 486.2,222.7 493.0,226.2 497.7,233.0 502.3,247.0 509.2,260.8 516.2,266.5 523.0,264.2 530.0,260.8 534.6,264.2 539.2,270.0 543.8,273.5 548.5,271.2 553.0,263.0 557.7,253.8 561.2,248.0 567.0,249.2 571.5,251.5 573.8,258.5 577.3,264.2 580.8,263.0 585.4,256.2 590.0,242.3 594.6,228.5 599.2,219.2 606.2,214.6 612.0,213.5 619.2,211.5 628.5,209.2 637.7,205.7 646.9,203.4 651.5,202.3 658.4,209.2 665.3,218.4 670.0,230.0 673.4,239.2 677.0,243.8 683.8,241.5 687.3,243.8 688.4,255.3 691.9,263.4 695.3,264.5 698.8,257.6 702.3,241.5 706.9,220.7 711.5,204.6 714.6,197.0 719.5,183.3 726.9,158.6 731.9,151.2 739.3,147.5 744.2,143.8 749.0,136.4 754.0,124.0 756.5,131.5 759.0,143.8 764.0,156.2 768.9,166.0 773.8,173.5 777.5,174.7 781.2,171.0 784.5,165.3 788.5,170.6 792.4,166.6 794.5,180.0 795.5,200.0 797.6,236.0 802.3,282.0 805.3,317.8 808.5,358.5 811.8,392.8 814.5,408.8 817.0,397.0 820.3,371.4 822.5,358.5 825.7,356.4 830.0,357.5 834.2,356.4 837.5,345.7 840.0,328.0 841.6,311.2 845.0,294.7 847.4,286.5 849.9,298.0 853.2,301.3 856.5,319.4 859.0,349.0 861.4,354.0 864.7,355.7 869.7,355.7 873.0,349.0 876.2,350.7 879.5,352.4 882.8,355.7 886.1,346.0 889.4,339.0 893.0,339.8 897.2,344.7 899.7,361.2 901.3,382.6 904.6,385.9 908.0,387.5 911.2,390.8 912.8,396.6 916.1,398.3" fill="none" stroke="#5e5eff" stroke-width="1" stroke-linejoin="round" />
</g>
<rect x="931" y="3" width="1" height="504" fill="#4d4d4d"/>
<rect x="932" y="15" width="3.5" height="1" fill="#4d4d4d"/><rect x="932" y="47" width="3.5" height="1" fill="#4d4d4d"/><rect x="932" y="79" width="3.5" height="1" fill="#4d4d4d"/><rect x="932" y="111" width="3.5" height="1" fill="#4d4d4d"/><rect x="932" y="143" width="3.5" height="1" fill="#4d4d4d"/><rect x="932" y="175" width="3.5" height="1" fill="#4d4d4d"/><rect x="932" y="207" width="3.5" height="1" fill="#4d4d4d"/><rect x="932" y="239" width="3.5" height="1" fill="#4d4d4d"/><rect x="932" y="271" width="3.5" height="1" fill="#4d4d4d"/><rect x="932" y="303" width="3.5" height="1" fill="#4d4d4d"/><rect x="932" y="335" width="3.5" height="1" fill="#4d4d4d"/><rect x="932" y="367" width="3.5" height="1" fill="#4d4d4d"/><rect x="932" y="400" width="3.5" height="1" fill="#4d4d4d"/><rect x="932" y="432" width="3.5" height="1" fill="#4d4d4d"/><rect x="932" y="464" width="3.5" height="1" fill="#4d4d4d"/><rect x="932" y="496" width="3.5" height="1" fill="#4d4d4d"/>
<g font-family="Liberation Sans, Arial, sans-serif" font-size="11" fill="#555"><text x="938" y="18.6">7860.0</text><text x="938" y="50.7">7850.0</text><text x="938" y="82.8">7840.0</text><text x="938" y="114.8">7830.0</text><text x="938" y="146.9">7820.0</text><text x="938" y="179.0">7810.0</text><text x="938" y="211.1">7800.0</text><text x="938" y="243.2">7790.0</text><text x="938" y="275.2">7780.0</text><text x="938" y="307.3">7770.0</text><text x="938" y="339.4">7760.0</text><text x="938" y="371.5">7750.0</text><text x="938" y="403.6">7740.0</text><text x="938" y="435.6">7730.0</text><text x="938" y="467.7">7720.0</text><text x="938" y="499.8">7710.0</text></g>
<g clip-path="url(#cm)"><rect x="779" y="67" width="37" height="1" fill="#5d5d5d"/><rect x="780" y="162" width="36" height="1" fill="#ff9800"/><rect x="779" y="210" width="37" height="1" fill="#2bc92b"/><rect x="779" y="258" width="36" height="1" fill="#ff9800"/><rect x="780" y="353" width="33" height="1" fill="#5d5d5d"/><rect x="817" y="210" width="34" height="1" fill="#5d5d5d"/><rect x="818" y="306" width="34" height="1" fill="#ff9800"/><rect x="817" y="354" width="35" height="1" fill="#2bc92b"/><rect x="817" y="402" width="35" height="1" fill="#ff9800"/><rect x="817" y="497" width="35" height="1" fill="#5d5d5d"/><rect x="851" y="493" width="1" height="4" fill="#5d5d5d"/><rect x="779" y="67" width="1" height="3" fill="#5d5d5d"/><line x1="779.5" y1="67.5" x2="812.5" y2="353.5" stroke="#8a8a8a" stroke-width="1.1" stroke-dasharray="5,5.7"/><line x1="817.5" y1="210.5" x2="851.5" y2="497.5" stroke="#8a8a8a" stroke-width="1.1" stroke-dasharray="5,5.7"/></g>
<g font-family="Liberation Sans, Arial, sans-serif" font-weight="bold" font-size="20.5" fill="#232c8c"><circle cx="708.5" cy="215.1" r="16.3" fill="rgba(255,255,255,0.25)" stroke="#dfe5f5" stroke-width="1.6"/><text x="708.5" y="222.1" text-anchor="middle">1</text><circle cx="766.2" cy="71.8" r="16.3" fill="rgba(255,255,255,0.25)" stroke="#dfe5f5" stroke-width="1.6"/><text x="766.2" y="78.8" text-anchor="middle">2</text><circle cx="795.3" cy="349.3" r="16.3" fill="rgba(255,255,255,0.25)" stroke="#dfe5f5" stroke-width="1.6"/><text x="795.3" y="356.3" text-anchor="middle">3</text><circle cx="832.2" cy="210.5" r="16.3" fill="rgba(255,255,255,0.25)" stroke="#dfe5f5" stroke-width="1.6"/><text x="832.2" y="217.5" text-anchor="middle">4</text><circle cx="917.7" cy="490.6" r="16.3" fill="rgba(255,255,255,0.25)" stroke="#dfe5f5" stroke-width="1.6"/><text x="917.7" y="497.6" text-anchor="middle">5</text></g>
<g font-family="Liberation Sans, Arial, sans-serif" font-size="11.3" fill="#fff" stroke="#fff" stroke-width="0.3"><rect x="931" y="291" width="45" height="16" fill="#0000ff"/><rect x="931" y="298" width="3" height="1" fill="#fff"/><text x="938" y="303.0">7771.4</text><rect x="931" y="322" width="45" height="16" fill="#0000ff"/><rect x="931" y="329" width="3" height="1" fill="#fff"/><text x="938" y="334.0">7761.8</text><rect x="931" y="341" width="45" height="16" fill="#ff9800"/><rect x="931" y="348" width="3" height="1" fill="#fff"/><text x="938" y="353.0">7755.8</text><rect x="931" y="357" width="45" height="16" fill="#ff00ff"/><rect x="931" y="364" width="3" height="1" fill="#fff"/><text x="938" y="369.0">7753.2</text><rect x="931" y="373" width="45" height="16" fill="#5470d8"/><rect x="931" y="380" width="3" height="1" fill="#fff"/><text x="938" y="385.0">7748.3</text><rect x="931" y="391" width="45" height="16" fill="#0000ff"/><rect x="931" y="398" width="3" height="1" fill="#fff"/><text x="938" y="403.0">7740.2</text></g>
<rect x="1" y="512" width="981" height="1" fill="#4d4d4d"/>
<rect x="1" y="543" width="981" height="1" fill="#4d4d4d"/>
<rect x="1" y="591" width="931" height="1" fill="#4d4d4d"/>
<rect x="931" y="544" width="1" height="47" fill="#4d4d4d"/>
<g clip-path="url(#cs)"><rect x="1" y="521" width="930" height="15" fill="#e6d3ea"/><line x1="1" y1="521.5" x2="931" y2="521.5" stroke="#666" stroke-width="1" stroke-dasharray="5.6,5.4" stroke-dashoffset="-0.1"/><line x1="1" y1="536.5" x2="931" y2="536.5" stroke="#666" stroke-width="1" stroke-dasharray="5.6,5.4" stroke-dashoffset="-0.1"/><polyline points="1.0,527.2 2.0,526.6 3.0,525.7 4.0,524.3 5.0,522.8 6.0,521.6 7.0,521.0 8.0,520.9 9.0,520.9 10.0,520.4 11.0,519.3 12.0,518.5 13.0,518.2 14.0,518.1 15.0,518.2 16.0,518.1 17.0,517.7 18.0,517.4 19.0,517.3 20.0,517.5 21.0,517.9 22.0,518.6 23.0,519.3 24.0,519.9 25.0,520.4 26.0,520.9 27.0,521.4 28.0,521.9 29.0,522.5 30.0,523.1 31.0,524.0 32.0,525.3 33.0,527.1 34.0,529.3 35.0,531.5 36.0,533.4 37.0,535.3 38.0,536.8 39.0,537.6 40.0,537.5 41.0,536.6 42.0,535.5 43.0,534.1 44.0,532.4 45.0,530.5 46.0,528.1 47.0,525.1 48.0,522.5 49.0,520.5 50.0,519.7 51.0,520.7 52.0,521.7 53.0,522.5 54.0,522.9 55.0,523.0 56.0,522.7 57.0,522.5 58.0,522.2 59.0,521.9 60.0,521.5 61.0,521.0 62.0,520.3 63.0,519.8 64.0,519.4 65.0,519.7 66.0,520.8 67.0,522.7 68.0,525.7 69.0,528.6 70.0,531.4 71.0,533.8 72.0,535.0 73.0,535.3 74.0,534.4 75.0,532.7 76.0,530.8 77.0,529.1 78.0,527.6 79.0,526.9 80.0,526.6 81.0,526.9 82.0,527.7 83.0,528.5 84.0,529.5 85.0,530.5 86.0,531.5 87.0,532.5 88.0,533.5 89.0,534.5 90.0,535.5 91.0,536.5 92.0,537.5 93.0,538.3 94.0,538.3 95.0,537.7 96.0,536.8 97.0,536.0 98.0,535.9 99.0,536.3 100.0,536.5 101.0,536.6 102.0,536.2 103.0,535.6 104.0,535.9 105.0,536.5 106.0,537.1 107.0,537.5 108.0,537.7 109.0,537.8 110.0,537.9 111.0,537.7 112.0,537.3 113.0,536.4 114.0,534.9 115.0,533.2 116.0,531.5 117.0,530.0 118.0,528.9 119.0,528.0 120.0,526.9 121.0,525.5 122.0,523.9 123.0,522.0 124.0,520.1 125.0,518.5 126.0,517.2 127.0,516.5 128.0,516.5 129.0,516.8 130.0,517.9 131.0,519.7 132.0,522.2 133.0,525.3 134.0,528.5 135.0,531.3 136.0,533.8 137.0,535.4 138.0,536.1 139.0,536.2 140.0,535.4 141.0,534.6 142.0,533.7 143.0,532.7 144.0,532.3 145.0,532.3 146.0,532.7 147.0,533.5 148.0,534.4 149.0,535.3 150.0,535.8 151.0,535.6 152.0,534.6 153.0,532.6 154.0,530.8 155.0,529.0 156.0,528.5 157.0,529.1 158.0,531.1 159.0,534.2 160.0,536.9 161.0,538.9 162.0,539.7 163.0,539.9 164.0,539.8 165.0,539.5 166.0,538.6 167.0,537.3 168.0,535.7 169.0,534.0 170.0,532.7 171.0,531.9 172.0,531.4 173.0,530.4 174.0,528.5 175.0,526.1 176.0,523.7 177.0,521.3 178.0,519.8 179.0,519.0 180.0,519.1 181.0,520.6 182.0,522.4 183.0,524.1 184.0,525.4 185.0,526.1 186.0,526.6 187.0,527.3 188.0,528.2 189.0,528.8 190.0,528.9 191.0,528.4 192.0,527.7 193.0,526.9 194.0,526.2 195.0,525.4 196.0,524.5 197.0,523.6 198.0,522.9 199.0,522.6 200.0,522.9 201.0,524.2 202.0,525.7 203.0,527.2 204.0,528.5 205.0,529.3 206.0,529.5 207.0,529.4 208.0,529.1 209.0,529.2 210.0,530.0 211.0,531.6 212.0,534.2 213.0,536.0 214.0,537.4 215.0,537.5 216.0,536.2 217.0,534.4 218.0,532.6 219.0,531.0 220.0,529.7 221.0,528.9 222.0,528.1 223.0,527.5 224.0,526.7 225.0,525.6 226.0,524.1 227.0,522.2 228.0,520.6 229.0,519.2 230.0,518.8 231.0,519.2 232.0,520.4 233.0,522.3 234.0,524.5 235.0,527.0 236.0,529.3 237.0,531.5 238.0,533.5 239.0,535.3 240.0,536.6 241.0,536.5 242.0,534.6 243.0,531.3 244.0,527.6 245.0,524.3 246.0,521.6 247.0,519.5 248.0,518.3 249.0,517.3 250.0,516.7 251.0,516.4 252.0,516.2 253.0,516.1 254.0,516.0 255.0,516.0 256.0,516.0 257.0,516.0 258.0,516.0 259.0,516.0 260.0,516.7 261.0,517.9 262.0,520.0 263.0,523.0 264.0,526.4 265.0,530.7 266.0,534.5 267.0,537.3 268.0,538.6 269.0,537.7 270.0,536.3 271.0,534.8 272.0,533.6 273.0,532.7 274.0,532.6 275.0,532.6 276.0,533.0 277.0,534.0 278.0,535.3 279.0,536.7 280.0,537.8 281.0,538.3 282.0,537.9 283.0,537.4 284.0,536.9 285.0,536.3 286.0,535.1 287.0,533.6 288.0,531.3 289.0,528.3 290.0,524.9 291.0,521.9 292.0,519.7 293.0,518.6 294.0,518.1 295.0,518.0 296.0,518.2 297.0,518.3 298.0,518.2 299.0,518.0 300.0,517.8 301.0,517.6 302.0,517.4 303.0,517.2 304.0,517.3 305.0,517.6 306.0,518.3 307.0,519.5 308.0,521.1 309.0,523.0 310.0,525.2 311.0,527.3 312.0,528.0 313.0,527.7 314.0,526.2 315.0,523.9 316.0,521.4 317.0,519.4 318.0,517.9 319.0,516.9 320.0,516.9 321.0,517.7 322.0,519.3 323.0,522.9 324.0,527.3 325.0,532.5 326.0,536.4 327.0,538.8 328.0,539.9 329.0,540.1 330.0,540.2 331.0,540.2 332.0,540.1 333.0,540.0 334.0,539.8 335.0,539.7 336.0,539.4 337.0,539.1 338.0,538.8 339.0,538.3 340.0,537.7 341.0,537.0 342.0,536.4 343.0,536.3 344.0,536.7 345.0,537.6 346.0,538.6 347.0,539.3 348.0,539.8 349.0,540.0 350.0,539.9 351.0,538.9 352.0,537.0 353.0,534.1 354.0,530.0 355.0,525.3 356.0,521.3 357.0,518.4 358.0,517.1 359.0,517.3 360.0,518.1 361.0,519.1 362.0,520.1 363.0,521.4 364.0,522.8 365.0,524.5 366.0,526.5 367.0,528.5 368.0,530.3 369.0,531.8 370.0,533.0 371.0,533.9 372.0,534.8 373.0,535.7 374.0,536.2 375.0,536.4 376.0,535.9 377.0,535.5 378.0,535.4 379.0,535.7 380.0,536.2 381.0,536.6 382.0,536.9 383.0,537.3 384.0,537.9 385.0,538.6 386.0,538.2 387.0,537.0 388.0,534.8 389.0,531.8 390.0,528.8 391.0,525.9 392.0,523.3 393.0,521.2 394.0,520.4 395.0,520.6 396.0,521.4 397.0,522.5 398.0,522.9 399.0,522.4 400.0,521.6 401.0,520.7 402.0,519.7 403.0,518.8 404.0,518.1 405.0,517.8 406.0,518.0 407.0,518.7 408.0,519.9 409.0,522.0 410.0,524.1 411.0,526.1 412.0,527.4 413.0,527.6 414.0,527.4 415.0,527.1 416.0,527.0 417.0,527.4 418.0,528.5 419.0,530.1 420.0,532.4 421.0,534.8 422.0,536.8 423.0,538.4 424.0,539.5 425.0,539.5 426.0,539.0 427.0,538.0 428.0,537.4 429.0,537.4 430.0,537.8 431.0,538.6 432.0,539.1 433.0,539.0 434.0,538.6 435.0,537.7 436.0,536.5 437.0,535.3 438.0,534.2 439.0,533.2 440.0,532.4 441.0,530.9 442.0,528.7 443.0,526.0 444.0,523.0 445.0,521.0 446.0,519.8 447.0,519.2 448.0,519.2 449.0,519.0 450.0,518.8 451.0,518.8 452.0,519.0 453.0,519.5 454.0,519.7 455.0,519.8 456.0,519.7 457.0,519.4 458.0,519.2 459.0,518.9 460.0,518.8 461.0,518.9 462.0,519.4 463.0,520.9 464.0,523.2 465.0,526.0 466.0,529.0 467.0,531.9 468.0,534.5 469.0,536.1 470.0,536.9 471.0,537.0 472.0,536.9 473.0,537.1 474.0,537.2 475.0,536.8 476.0,535.7 477.0,534.2 478.0,532.8 479.0,531.9 480.0,531.9 481.0,532.5 482.0,533.1 483.0,533.3 484.0,533.0 485.0,532.2 486.0,530.5 487.0,528.6 488.0,526.4 489.0,523.9 490.0,521.6 491.0,520.4 492.0,520.5 493.0,522.2 494.0,524.9 495.0,528.0 496.0,531.6 497.0,535.0 498.0,537.5 499.0,539.2 500.0,540.0 501.0,540.1 502.0,540.1 503.0,540.0 504.0,539.8 505.0,539.6 506.0,539.5 507.0,539.4 508.0,539.3 509.0,539.1 510.0,538.9 511.0,538.7 512.0,538.5 513.0,538.5 514.0,538.7 515.0,539.1 516.0,539.4 517.0,539.8 518.0,540.1 519.0,540.2 520.0,540.3 521.0,540.3 522.0,540.3 523.0,540.3 524.0,540.3 525.0,540.3 526.0,540.3 527.0,540.3 528.0,540.3 529.0,540.3 530.0,540.3 531.0,540.3 532.0,540.2 533.0,538.3 534.0,534.9 535.0,530.0 536.0,524.2 537.0,520.2 538.0,517.7 539.0,516.8 540.0,516.7 541.0,516.5 542.0,516.4 543.0,516.4 544.0,516.6 545.0,517.1 546.0,517.9 547.0,518.9 548.0,520.0 549.0,521.5 550.0,523.1 551.0,525.0 552.0,527.3 553.0,529.9 554.0,532.8 555.0,535.9 556.0,538.1 557.0,539.4 558.0,539.9 559.0,539.5 560.0,539.1 561.0,538.6 562.0,538.0 563.0,537.4 564.0,536.6 565.0,535.8 566.0,535.0 567.0,533.6 568.0,531.2 569.0,527.3 570.0,523.1 571.0,519.4 572.0,517.2 573.0,516.3 574.0,516.0 575.0,516.0 576.0,516.0 577.0,516.0 578.0,516.3 579.0,516.8 580.0,517.5 581.0,518.7 582.0,520.1 583.0,521.8 584.0,523.7 585.0,525.6 586.0,527.3 587.0,528.8 588.0,530.5 589.0,532.5 590.0,534.6 591.0,536.5 592.0,538.2 593.0,539.3 594.0,539.8 595.0,539.9 596.0,539.3 597.0,538.4 598.0,536.9 599.0,534.8 600.0,532.1 601.0,529.0 602.0,526.1 603.0,524.4 604.0,523.8 605.0,524.7 606.0,527.3 607.0,530.6 608.0,533.6 609.0,536.1 610.0,537.6 611.0,537.9 612.0,537.5 613.0,536.5 614.0,535.4 615.0,534.2 616.0,533.3 617.0,532.8 618.0,532.6 619.0,533.0 620.0,533.5 621.0,534.2 622.0,533.5 623.0,531.6 624.0,528.8 625.0,526.2 626.0,524.9 627.0,525.0 628.0,525.9 629.0,526.6 630.0,527.0 631.0,527.5 632.0,528.3 633.0,529.3 634.0,530.5 635.0,531.6 636.0,532.7 637.0,533.7 638.0,534.5 639.0,535.2 640.0,535.7 641.0,536.4 642.0,537.2 643.0,538.1 644.0,538.6 645.0,538.8 646.0,538.1 647.0,536.5 648.0,534.0 649.0,531.3 650.0,529.0 651.0,527.8 652.0,527.5 653.0,528.5 654.0,530.3 655.0,532.4 656.0,534.7 657.0,536.1 658.0,536.2 659.0,535.6 660.0,534.0 661.0,533.4 662.0,533.8 663.0,534.8 664.0,536.2 665.0,536.7 666.0,536.4 667.0,535.6 668.0,534.7 669.0,534.3 670.0,534.7 671.0,535.2 672.0,535.9 673.0,536.6 674.0,537.4 675.0,537.7 676.0,537.2 677.0,535.5 678.0,532.0 679.0,527.7 680.0,523.8 681.0,520.6 682.0,519.2 683.0,518.8 684.0,519.2 685.0,520.4 686.0,521.1 687.0,521.2 688.0,520.6 689.0,519.4 690.0,518.3 691.0,517.8 692.0,517.9 693.0,518.5 694.0,519.6 695.0,520.9 696.0,522.2 697.0,523.5 698.0,524.8 699.0,526.0 700.0,527.0 701.0,527.6 702.0,527.7 703.0,527.4 704.0,526.8 705.0,525.9 706.0,525.3 707.0,525.2 708.0,525.8 709.0,527.0 710.0,527.5 711.0,526.8 712.0,524.9 713.0,521.6 714.0,519.6 715.0,518.8 716.0,520.1 717.0,523.2 718.0,526.9 719.0,531.1 720.0,534.9 721.0,537.4 722.0,539.1 723.0,539.9 724.0,539.7 725.0,539.1 726.0,537.5 727.0,535.6 728.0,533.4 729.0,531.1 730.0,529.1 731.0,527.4 732.0,525.8 733.0,524.4 734.0,523.1 735.0,522.1 736.0,521.1 737.0,520.3 738.0,519.9 739.0,519.6 740.0,519.7 741.0,520.0 742.0,520.3 743.0,520.6 744.0,521.3 745.0,522.3 746.0,523.9 747.0,526.0 748.0,528.4 749.0,530.9 750.0,533.0 751.0,534.8 752.0,535.9 753.0,536.8 754.0,537.5 755.0,538.1 756.0,538.6 757.0,539.1 758.0,539.6 759.0,540.1 760.0,540.5 761.0,540.6 762.0,540.3 763.0,539.7 764.0,538.9 765.0,538.2 766.0,537.4 767.0,536.6 768.0,535.6 769.0,534.4 770.0,533.1 771.0,531.6 772.0,530.1 773.0,528.5 774.0,527.5 775.0,527.2 776.0,527.6 777.0,527.5 778.0,526.9 779.0,525.6 780.0,523.7 781.0,522.0 782.0,520.5 783.0,519.8 784.0,520.5 785.0,522.2 786.0,525.1 787.0,526.7 788.0,527.3 789.0,526.5 790.0,524.6 791.0,523.0 792.0,522.9 793.0,524.1 794.0,526.5 795.0,529.5 796.0,532.4 797.0,535.0 798.0,537.4 799.0,538.8 800.0,539.7 801.0,539.9 802.0,539.7 803.0,539.3 804.0,538.9 805.0,538.5 806.0,538.2 807.0,538.2 808.0,538.4 809.0,538.5 810.0,538.4 811.0,538.3 812.0,538.0 813.0,537.7 814.0,536.7 815.0,534.6 816.0,531.1 817.0,526.7 818.0,523.0 819.0,520.3 820.0,518.8 821.0,518.2 822.0,517.7 823.0,517.3 824.0,517.0 825.0,517.0 826.0,517.2 827.0,517.7 828.0,518.2 829.0,518.7 830.0,519.2 831.0,519.8 832.0,520.2 833.0,520.3 834.0,520.2 835.0,520.3 836.0,521.1 837.0,523.1 838.0,525.9 839.0,529.2 840.0,532.7 841.0,534.5 842.0,534.8 843.0,533.7 844.0,531.4 845.0,529.3 846.0,528.3 847.0,528.7 848.0,530.5 849.0,533.2 850.0,535.4 851.0,536.9 852.0,537.3 853.0,536.6 854.0,535.6 855.0,535.0 856.0,535.0 857.0,535.7 858.0,537.1 859.0,538.3 860.0,539.4 861.0,539.5 862.0,538.6 863.0,536.7 864.0,533.4 865.0,529.8 866.0,526.3 867.0,523.2 868.0,520.7 869.0,519.0 870.0,517.7 871.0,516.9 872.0,516.5 873.0,516.7 874.0,517.3 875.0,518.3 876.0,520.0 877.0,522.1 878.0,524.4 879.0,527.0 880.0,529.6 881.0,532.1 882.0,534.5 883.0,536.9 884.0,537.7 885.0,537.1 886.0,535.0 887.0,531.6 888.0,528.7 889.0,526.2 890.0,524.3 891.0,523.3 892.0,523.0 893.0,523.3 894.0,523.9 895.0,524.6 896.0,525.4 897.0,526.2 898.0,527.2 899.0,528.6 900.0,530.2 901.0,532.5 902.0,535.0 903.0,536.5 904.0,536.5 905.0,534.9 906.0,531.8 907.0,527.7 908.0,523.7 909.0,520.3 910.0,518.6 911.0,518.7 912.0,519.5 913.0,521.1 914.0,522.0 915.0,522.4 916.0,522.0 917.0,520.8" fill="none" stroke="#ff2b2b" stroke-width="1" stroke-linejoin="round" /><polyline points="0.0,527.4 2.4,524.1 4.9,520.1 7.3,521.7 10.5,517.7 13.0,518.5 17.8,516.9 21.1,519.3 25.9,521.7 30.0,524.1 32.4,529.8 34.8,534.7 37.2,538.7 39.7,536.3 42.1,533.1 45.3,525.8 47.0,518.5 48.6,520.1 51.8,523.3 55.1,522.5 58.3,521.7 61.5,519.3 64.0,519.3 65.6,523.3 68.0,531.4 70.4,536.3 72.1,535.5 74.5,529.8 77.7,525.8 81.0,528.2 84.2,531.4 87.4,534.7 90.7,537.9 92.3,539.5 93.9,536.3 97.2,535.5 98.8,537.9 101.2,534.7 103.6,537.1 106.9,537.9 110.1,537.9 112.6,534.7 115.0,529.8 118.2,527.4 121.5,521.7 123.9,516.9 126.3,516.0 128.7,517.7 131.2,525.0 133.6,533.1 136.0,537.1 139.3,534.7 142.5,531.4 145.7,533.9 149.0,537.1 152.2,530.6 154.7,526.6 157.1,533.1 158.2,538.7 161.5,540.3 164.7,538.7 168.0,532.2 171.2,531.4 173.6,525.0 176.9,517.7 179.3,520.1 181.7,525.8 185.0,526.6 187.4,529.8 190.6,527.4 193.9,525.0 197.1,521.7 199.5,524.1 202.0,529.0 205.2,529.8 207.6,528.2 210.1,533.1 211.7,538.7 214.1,537.1 216.5,531.4 219.8,528.2 223.0,526.6 226.3,520.1 228.7,517.7 231.1,521.7 234.4,529.8 236.8,534.7 239.2,538.7 241.6,529.8 244.1,520.9 247.3,516.9 250.5,516.0 258.6,516.0 261.1,521.7 263.5,531.4 265.1,539.5 267.6,537.9 270.0,533.1 273.2,532.2 275.6,533.9 278.1,538.7 280.5,537.9 284.6,535.5 287.0,529.8 289.4,520.1 291.8,517.7 295.1,518.5 299.1,517.7 302.4,516.9 305.6,519.3 308.0,525.0 310.5,529.8 312.9,525.0 315.7,517.7 318.9,516.0 321.3,521.7 323.0,531.4 324.6,539.5 327.8,540.3 332.7,539.9 336.7,538.7 339.1,537.1 341.6,535.5 344.0,538.7 347.2,540.3 349.7,539.5 352.1,531.4 354.5,518.5 356.2,516.0 358.6,518.5 361.8,521.7 364.3,526.6 366.7,531.4 369.9,534.7 373.2,537.1 375.6,534.7 378.0,536.3 381.3,537.1 384.5,539.5 386.9,533.1 389.4,525.0 392.6,518.5 395.0,523.3 397.4,522.5 399.9,520.1 402.3,517.7 404.7,517.7 407.2,520.9 408.8,526.6 411.2,528.2 413.6,526.6 416.1,527.4 418.5,533.1 420.9,538.7 423.4,540.3 426.6,536.3 429.0,538.7 431.5,539.5 433.9,537.1 436.3,533.9 439.6,531.4 442.0,523.3 443.6,519.3 446.0,519.3 449.3,518.5 452.5,520.1 455.7,519.3 459.0,518.5 461.4,520.1 463.8,528.2 466.3,534.7 467.4,537.9 469.9,536.3 472.3,537.9 474.7,535.5 477.1,530.6 479.6,533.1 482.0,533.9 484.4,530.6 486.9,525.0 489.3,518.5 491.7,522.5 494.1,531.4 496.6,539.5 499.0,540.3 503.9,539.5 507.1,539.2 511.2,538.2 513.6,539.2 516.8,540.3 523.3,540.3 531.4,540.3 533.0,531.4 535.4,516.9 537.9,516.9 541.1,516.0 544.4,517.7 547.6,521.7 550.8,528.2 553.3,536.3 554.9,540.3 557.3,539.5 560.5,537.9 563.8,535.5 566.2,533.1 568.6,520.1 570.3,516.0 576.7,516.0 580.0,519.3 583.2,525.8 586.5,530.6 589.7,537.9 592.1,540.3 594.6,539.5 597.0,536.3 599.4,528.2 601.8,521.7 604.3,526.6 606.7,536.3 609.1,538.7 611.6,536.3 614.8,532.2 618.0,533.1 620.5,535.5 622.4,527.4 624.0,523.3 626.5,526.6 629.7,527.4 633.0,531.4 636.2,534.7 639.4,536.3 642.7,539.5 645.1,537.9 647.5,529.8 649.5,526.6 651.6,528.2 654.0,534.7 656.0,537.9 658.1,533.9 659.7,532.2 662.1,536.3 663.7,537.9 666.2,533.9 668.6,534.7 671.8,537.1 674.3,538.7 676.7,531.4 678.3,521.7 680.7,517.7 683.2,520.1 684.8,522.5 687.2,519.3 689.6,516.9 692.1,519.3 694.5,522.5 696.9,525.8 699.4,528.2 701.8,527.4 705.0,524.1 707.4,527.4 709.1,529.0 710.7,523.3 712.6,516.9 714.7,520.1 717.2,531.4 719.6,539.5 722.0,540.3 724.5,537.9 726.9,531.4 730.1,525.8 733.4,521.7 736.6,519.3 739.8,520.1 742.3,520.9 744.7,524.1 747.9,533.1 750.4,536.3 752.8,537.9 756.0,539.5 759.3,541.1 762.5,538.7 765.7,536.3 769.0,532.2 772.2,526.6 775.5,528.2 777.4,525.8 779.9,520.1 782.3,519.3 783.9,523.3 785.5,529.8 788.0,525.0 790.4,520.9 792.8,528.2 795.2,535.5 797.7,540.3 800.9,539.5 804.1,537.9 807.4,538.7 810.6,537.9 813.1,537.1 815.5,525.0 817.1,519.3 820.3,517.7 822.8,516.5 825.2,517.7 828.4,519.3 830.9,520.9 833.3,519.3 835.7,523.3 838.2,533.1 839.8,537.1 842.2,531.4 844.3,526.6 846.3,529.8 848.7,537.9 851.1,537.1 853.5,533.9 856.0,536.3 857.6,539.5 860.0,540.3 862.4,533.1 864.9,523.3 867.3,518.5 869.7,516.0 872.2,516.9 874.6,520.1 877.0,526.6 880.3,534.7 882.7,540.3 884.3,534.7 886.7,526.6 889.2,522.5 891.6,523.3 894.8,525.8 897.3,528.2 899.7,533.1 901.3,538.7 902.9,536.3 904.6,531.4 907.0,519.3 908.6,517.7 911.0,520.1 912.7,524.1 914.3,521.7 916.7,519.3" fill="none" stroke="#4d4dff" stroke-width="1" stroke-linejoin="round" /></g>
<rect x="931" y="513" width="51" height="15" fill="#0000ff"/><rect x="931" y="519" width="3" height="1" fill="#fff"/><text font-family="Liberation Sans, Arial, sans-serif" font-size="11" font-weight="bold" fill="#fff" x="938" y="524.5">86.9885</text>
<rect x="931" y="528" width="51" height="15" fill="#ff0000"/><rect x="931" y="534" width="3" height="1" fill="#fff"/><text font-family="Liberation Sans, Arial, sans-serif" font-size="11" font-weight="bold" fill="#fff" x="938" y="539.5">80.1489</text>
<g clip-path="url(#cd)"><g fill="#ff3b3b"><rect x="2" y="562.8" width="1" height="1.2"/><rect x="3" y="562.6" width="1" height="1.4"/><rect x="5" y="562.3" width="1" height="1.7"/><rect x="6" y="562.1" width="1" height="1.9"/><rect x="8" y="561.0" width="1" height="3.0"/><rect x="9" y="559.9" width="1" height="4.1"/><rect x="11" y="559.5" width="1" height="4.5"/><rect x="12" y="559.6" width="1" height="4.4"/><rect x="14" y="559.8" width="1" height="4.2"/><rect x="15" y="560.2" width="1" height="3.8"/><rect x="16" y="560.7" width="1" height="3.3"/><rect x="18" y="561.1" width="1" height="2.9"/><rect x="19" y="561.5" width="1" height="2.5"/><rect x="21" y="561.0" width="1" height="3.0"/><rect x="22" y="560.4" width="1" height="3.6"/><rect x="24" y="560.5" width="1" height="3.5"/><rect x="25" y="561.1" width="1" height="2.9"/><rect x="26" y="561.7" width="1" height="2.3"/><rect x="28" y="562.3" width="1" height="1.7"/><rect x="29" y="562.8" width="1" height="1.2"/><rect x="31" y="563.1" width="1" height="0.9"/><rect x="32" y="563.4" width="1" height="0.6"/><rect x="35" y="563.5" width="1" height="1"/><rect x="38" y="564.0" width="1" height="0.6"/><rect x="39" y="564.0" width="1" height="1.1"/><rect x="41" y="564.0" width="1" height="1.5"/><rect x="42" y="564.0" width="1" height="1.7"/><rect x="44" y="564.0" width="1" height="1.9"/><rect x="45" y="564.0" width="1" height="2.1"/><rect x="47" y="564.0" width="1" height="2.3"/><rect x="48" y="564.0" width="1" height="2.5"/><rect x="50" y="564.0" width="1" height="2.5"/><rect x="51" y="564.0" width="1" height="2.4"/><rect x="52" y="564.0" width="1" height="2.3"/><rect x="54" y="564.0" width="1" height="2.2"/><rect x="55" y="564.0" width="1" height="2.1"/><rect x="57" y="564.0" width="1" height="2.0"/><rect x="58" y="564.0" width="1" height="1.9"/><rect x="60" y="564.0" width="1" height="1.8"/><rect x="61" y="564.0" width="1" height="1.7"/><rect x="62" y="564.0" width="1" height="1.5"/><rect x="64" y="564.0" width="1" height="1.4"/><rect x="65" y="564.0" width="1" height="1.3"/><rect x="67" y="564.0" width="1" height="1.2"/><rect x="68" y="564.0" width="1" height="1.1"/><rect x="70" y="564.0" width="1" height="0.9"/><rect x="71" y="564.0" width="1" height="0.8"/><rect x="73" y="564.0" width="1" height="0.7"/><rect x="74" y="564.0" width="1" height="0.7"/><rect x="75" y="564.0" width="1" height="0.8"/><rect x="77" y="564.0" width="1" height="1.0"/><rect x="78" y="564.0" width="1" height="1.1"/><rect x="80" y="564.0" width="1" height="1.2"/><rect x="81" y="564.0" width="1" height="1.3"/><rect x="83" y="564.0" width="1" height="1.4"/><rect x="84" y="564.0" width="1" height="1.5"/><rect x="86" y="564.0" width="1" height="1.6"/><rect x="87" y="564.0" width="1" height="1.7"/><rect x="88" y="564.0" width="1" height="1.8"/><rect x="90" y="564.0" width="1" height="1.9"/><rect x="91" y="564.0" width="1" height="1.8"/><rect x="93" y="564.0" width="1" height="1.7"/><rect x="94" y="564.0" width="1" height="1.7"/><rect x="96" y="564.0" width="1" height="1.6"/><rect x="97" y="564.0" width="1" height="1.5"/><rect x="98" y="564.0" width="1" height="1.6"/><rect x="100" y="564.0" width="1" height="1.7"/><rect x="101" y="564.0" width="1" height="1.8"/><rect x="103" y="564.0" width="1" height="1.9"/><rect x="104" y="564.0" width="1" height="1.9"/><rect x="106" y="564.0" width="1" height="2.1"/><rect x="107" y="564.0" width="1" height="2.5"/><rect x="109" y="564.0" width="1" height="2.2"/><rect x="110" y="564.0" width="1" height="1.9"/><rect x="111" y="564.0" width="1" height="1.6"/><rect x="113" y="564.0" width="1" height="1.3"/><rect x="114" y="564.0" width="1" height="1.0"/><rect x="116" y="564.0" width="1" height="0.7"/><rect x="117" y="563.5" width="1" height="1"/><rect x="120" y="563.4" width="1" height="0.6"/><rect x="122" y="562.9" width="1" height="1.1"/><rect x="123" y="562.6" width="1" height="1.4"/><rect x="124" y="562.3" width="1" height="1.7"/><rect x="126" y="562.0" width="1" height="2.0"/><rect x="127" y="562.1" width="1" height="1.9"/><rect x="129" y="562.3" width="1" height="1.7"/><rect x="130" y="562.6" width="1" height="1.4"/><rect x="132" y="562.8" width="1" height="1.2"/><rect x="133" y="563.1" width="1" height="0.9"/><rect x="134" y="563.5" width="1" height="1"/><rect x="137" y="563.5" width="1" height="1"/><rect x="140" y="563.5" width="1" height="1"/><rect x="143" y="563.5" width="1" height="1"/><rect x="146" y="563.5" width="1" height="1"/><rect x="149" y="563.5" width="1" height="1"/><rect x="152" y="563.5" width="1" height="1"/><rect x="155" y="563.5" width="1" height="1"/><rect x="158" y="564.0" width="1" height="0.8"/><rect x="159" y="564.0" width="1" height="1.1"/><rect x="160" y="564.0" width="1" height="1.3"/><rect x="162" y="564.0" width="1" height="1.6"/><rect x="163" y="564.0" width="1" height="1.8"/><rect x="165" y="564.0" width="1" height="2.1"/><rect x="166" y="564.0" width="1" height="2.3"/><rect x="168" y="564.0" width="1" height="2.6"/><rect x="169" y="564.0" width="1" height="2.5"/><rect x="170" y="564.0" width="1" height="2.2"/><rect x="172" y="564.0" width="1" height="1.9"/><rect x="173" y="564.0" width="1" height="1.6"/><rect x="175" y="564.0" width="1" height="1.3"/><rect x="176" y="564.0" width="1" height="1.0"/><rect x="178" y="564.0" width="1" height="0.7"/><rect x="181" y="563.5" width="1" height="1"/><rect x="183" y="563.5" width="1" height="1"/><rect x="186" y="563.5" width="1" height="1"/><rect x="189" y="563.5" width="1" height="1"/><rect x="192" y="563.5" width="1" height="1"/><rect x="195" y="563.5" width="1" height="1"/><rect x="198" y="563.5" width="1" height="1"/><rect x="201" y="563.5" width="1" height="1"/><rect x="204" y="563.5" width="1" height="1"/><rect x="206" y="563.5" width="1" height="1"/><rect x="209" y="563.5" width="1" height="1"/><rect x="212" y="563.5" width="1" height="1"/><rect x="215" y="563.5" width="1" height="1"/><rect x="218" y="563.5" width="1" height="1"/><rect x="221" y="563.5" width="1" height="1"/><rect x="224" y="563.5" width="1" height="1"/><rect x="227" y="563.5" width="1" height="1"/><rect x="230" y="563.5" width="1" height="1"/><rect x="232" y="563.5" width="1" height="1"/><rect x="235" y="563.5" width="1" height="1"/><rect x="238" y="563.5" width="1" height="1"/><rect x="241" y="563.5" width="1" height="1"/><rect x="244" y="563.5" width="1" height="1"/><rect x="247" y="563.5" width="1" height="1"/><rect x="250" y="563.3" width="1" height="0.7"/><rect x="251" y="563.2" width="1" height="0.8"/><rect x="253" y="563.0" width="1" height="1.0"/><rect x="254" y="562.8" width="1" height="1.2"/><rect x="255" y="562.7" width="1" height="1.3"/><rect x="257" y="562.6" width="1" height="1.4"/><rect x="258" y="562.7" width="1" height="1.3"/><rect x="260" y="562.8" width="1" height="1.2"/><rect x="261" y="562.9" width="1" height="1.1"/><rect x="263" y="563.0" width="1" height="1.0"/><rect x="264" y="563.1" width="1" height="0.9"/><rect x="266" y="563.2" width="1" height="0.8"/><rect x="267" y="563.3" width="1" height="0.7"/><rect x="270" y="563.5" width="1" height="1"/><rect x="273" y="563.5" width="1" height="1"/><rect x="276" y="563.5" width="1" height="1"/><rect x="278" y="563.5" width="1" height="1"/><rect x="281" y="563.5" width="1" height="1"/><rect x="283" y="563.3" width="1" height="0.7"/><rect x="284" y="563.0" width="1" height="1.0"/><rect x="286" y="562.8" width="1" height="1.2"/><rect x="287" y="562.8" width="1" height="1.2"/><rect x="289" y="563.1" width="1" height="0.9"/><rect x="290" y="561.0" width="1" height="3.0"/><rect x="291" y="558.9" width="1" height="5.1"/><rect x="293" y="557.1" width="1" height="6.9"/><rect x="294" y="557.3" width="1" height="6.7"/><rect x="296" y="557.5" width="1" height="6.5"/><rect x="297" y="558.0" width="1" height="6.0"/><rect x="299" y="558.6" width="1" height="5.4"/><rect x="300" y="559.1" width="1" height="4.9"/><rect x="302" y="559.6" width="1" height="4.4"/><rect x="303" y="560.4" width="1" height="3.6"/><rect x="304" y="561.2" width="1" height="2.8"/><rect x="306" y="561.5" width="1" height="2.5"/><rect x="307" y="561.6" width="1" height="2.4"/><rect x="309" y="561.6" width="1" height="2.4"/><rect x="310" y="561.7" width="1" height="2.3"/><rect x="312" y="561.8" width="1" height="2.2"/><rect x="313" y="561.7" width="1" height="2.3"/><rect x="314" y="561.6" width="1" height="2.4"/><rect x="316" y="561.4" width="1" height="2.6"/><rect x="317" y="561.1" width="1" height="2.9"/><rect x="319" y="560.8" width="1" height="3.2"/><rect x="320" y="560.8" width="1" height="3.2"/><rect x="322" y="562.0" width="1" height="2.0"/><rect x="323" y="563.2" width="1" height="0.8"/><rect x="325" y="562.8" width="1" height="1.2"/><rect x="326" y="563.5" width="1" height="1"/><rect x="327" y="564.0" width="1" height="1.1"/><rect x="329" y="564.0" width="1" height="2.3"/><rect x="330" y="564.0" width="1" height="3.4"/><rect x="332" y="564.0" width="1" height="4.6"/><rect x="333" y="564.0" width="1" height="5.0"/><rect x="335" y="564.0" width="1" height="5.0"/><rect x="336" y="564.0" width="1" height="5.0"/><rect x="338" y="564.0" width="1" height="5.0"/><rect x="339" y="564.0" width="1" height="5.0"/><rect x="340" y="564.0" width="1" height="5.0"/><rect x="342" y="564.0" width="1" height="4.9"/><rect x="343" y="564.0" width="1" height="4.6"/><rect x="345" y="564.0" width="1" height="4.4"/><rect x="346" y="564.0" width="1" height="4.1"/><rect x="348" y="564.0" width="1" height="3.9"/><rect x="349" y="564.0" width="1" height="3.6"/><rect x="350" y="564.0" width="1" height="3.3"/><rect x="352" y="564.0" width="1" height="2.0"/><rect x="353" y="564.0" width="1" height="0.7"/><rect x="355" y="563.3" width="1" height="0.7"/><rect x="356" y="562.0" width="1" height="2.0"/><rect x="358" y="560.7" width="1" height="3.3"/><rect x="359" y="559.4" width="1" height="4.6"/><rect x="361" y="559.5" width="1" height="4.5"/><rect x="362" y="560.1" width="1" height="3.9"/><rect x="363" y="560.8" width="1" height="3.2"/><rect x="365" y="561.4" width="1" height="2.6"/><rect x="366" y="562.0" width="1" height="2.0"/><rect x="368" y="562.7" width="1" height="1.3"/><rect x="369" y="563.1" width="1" height="0.9"/><rect x="371" y="563.2" width="1" height="0.8"/><rect x="372" y="563.4" width="1" height="0.6"/><rect x="375" y="563.5" width="1" height="1"/><rect x="378" y="563.5" width="1" height="1"/><rect x="379" y="564.0" width="1" height="0.6"/><rect x="381" y="564.0" width="1" height="1.3"/><rect x="382" y="564.0" width="1" height="2.0"/><rect x="384" y="564.0" width="1" height="2.7"/><rect x="385" y="564.0" width="1" height="3.4"/><rect x="386" y="564.0" width="1" height="4.1"/><rect x="388" y="564.0" width="1" height="3.4"/><rect x="389" y="564.0" width="1" height="2.1"/><rect x="391" y="564.0" width="1" height="1.5"/><rect x="392" y="564.0" width="1" height="1.3"/><rect x="394" y="564.0" width="1" height="1.1"/><rect x="395" y="564.0" width="1" height="0.9"/><rect x="398" y="563.5" width="1" height="1"/><rect x="399" y="563.0" width="1" height="1.0"/><rect x="401" y="562.4" width="1" height="1.6"/><rect x="402" y="561.9" width="1" height="2.1"/><rect x="404" y="561.3" width="1" height="2.7"/><rect x="405" y="561.0" width="1" height="3.0"/><rect x="407" y="561.8" width="1" height="2.2"/><rect x="408" y="562.7" width="1" height="1.3"/><rect x="410" y="562.9" width="1" height="1.1"/><rect x="411" y="563.0" width="1" height="1.0"/><rect x="412" y="563.2" width="1" height="0.8"/><rect x="414" y="563.3" width="1" height="0.7"/><rect x="415" y="563.5" width="1" height="1"/><rect x="417" y="564.0" width="1" height="0.8"/><rect x="418" y="564.0" width="1" height="1.1"/><rect x="420" y="564.0" width="1" height="1.1"/><rect x="421" y="564.0" width="1" height="1.1"/><rect x="422" y="564.0" width="1" height="1.1"/><rect x="424" y="564.0" width="1" height="1.2"/><rect x="425" y="564.0" width="1" height="1.5"/><rect x="427" y="564.0" width="1" height="1.8"/><rect x="428" y="564.0" width="1" height="2.1"/><rect x="430" y="564.0" width="1" height="2.5"/><rect x="431" y="564.0" width="1" height="2.9"/><rect x="433" y="564.0" width="1" height="3.2"/><rect x="434" y="564.0" width="1" height="3.2"/><rect x="435" y="564.0" width="1" height="3.3"/><rect x="437" y="564.0" width="1" height="3.3"/><rect x="438" y="564.0" width="1" height="3.4"/><rect x="440" y="564.0" width="1" height="4.0"/><rect x="441" y="564.0" width="1" height="3.9"/><rect x="443" y="564.0" width="1" height="3.6"/><rect x="444" y="564.0" width="1" height="3.3"/><rect x="446" y="564.0" width="1" height="2.9"/><rect x="447" y="564.0" width="1" height="2.6"/><rect x="448" y="564.0" width="1" height="2.3"/><rect x="450" y="564.0" width="1" height="2.0"/><rect x="451" y="564.0" width="1" height="1.7"/><rect x="453" y="564.0" width="1" height="1.4"/><rect x="454" y="564.0" width="1" height="1.3"/><rect x="456" y="564.0" width="1" height="1.1"/><rect x="457" y="564.0" width="1" height="1.0"/><rect x="458" y="564.0" width="1" height="0.9"/><rect x="460" y="564.0" width="1" height="0.7"/><rect x="461" y="563.5" width="1" height="1"/><rect x="464" y="563.5" width="1" height="1"/><rect x="467" y="563.5" width="1" height="1"/><rect x="470" y="563.5" width="1" height="1"/><rect x="473" y="563.5" width="1" height="1"/><rect x="476" y="563.5" width="1" height="1"/><rect x="479" y="563.5" width="1" height="1"/><rect x="482" y="563.5" width="1" height="1"/><rect x="484" y="563.5" width="1" height="1"/><rect x="487" y="563.3" width="1" height="0.7"/><rect x="489" y="563.1" width="1" height="0.9"/><rect x="490" y="563.5" width="1" height="1"/><rect x="493" y="563.5" width="1" height="1"/><rect x="496" y="564.0" width="1" height="0.7"/><rect x="497" y="564.0" width="1" height="1.0"/><rect x="499" y="564.0" width="1" height="1.4"/><rect x="500" y="564.0" width="1" height="1.7"/><rect x="502" y="564.0" width="1" height="2.1"/><rect x="503" y="564.0" width="1" height="2.1"/><rect x="505" y="564.0" width="1" height="2.1"/><rect x="506" y="564.0" width="1" height="2.1"/><rect x="507" y="564.0" width="1" height="2.1"/><rect x="509" y="564.0" width="1" height="2.1"/><rect x="510" y="564.0" width="1" height="2.1"/><rect x="512" y="564.0" width="1" height="2.0"/><rect x="513" y="564.0" width="1" height="1.6"/><rect x="515" y="564.0" width="1" height="1.3"/><rect x="516" y="564.0" width="1" height="0.9"/><rect x="518" y="563.5" width="1" height="1"/><rect x="519" y="564.0" width="1" height="0.7"/><rect x="520" y="564.0" width="1" height="0.9"/><rect x="522" y="564.0" width="1" height="1.1"/><rect x="523" y="564.0" width="1" height="1.4"/><rect x="525" y="564.0" width="1" height="1.6"/><rect x="526" y="564.0" width="1" height="1.8"/><rect x="528" y="564.0" width="1" height="2.0"/><rect x="529" y="564.0" width="1" height="1.6"/><rect x="530" y="564.0" width="1" height="1.2"/><rect x="532" y="564.0" width="1" height="0.8"/><rect x="535" y="563.5" width="1" height="1"/><rect x="538" y="563.2" width="1" height="0.8"/><rect x="539" y="562.9" width="1" height="1.1"/><rect x="541" y="562.7" width="1" height="1.3"/><rect x="542" y="562.4" width="1" height="1.6"/><rect x="543" y="562.1" width="1" height="1.9"/><rect x="545" y="561.9" width="1" height="2.1"/><rect x="546" y="562.3" width="1" height="1.7"/><rect x="548" y="563.0" width="1" height="1.0"/><rect x="549" y="563.5" width="1" height="1"/><rect x="552" y="563.5" width="1" height="1"/><rect x="554" y="564.0" width="1" height="0.7"/><rect x="555" y="564.0" width="1" height="0.9"/><rect x="556" y="564.0" width="1" height="1.1"/><rect x="558" y="564.0" width="1" height="1.0"/><rect x="559" y="564.0" width="1" height="0.9"/><rect x="561" y="564.0" width="1" height="0.7"/><rect x="564" y="563.5" width="1" height="1"/><rect x="566" y="563.5" width="1" height="1"/><rect x="568" y="564.0" width="1" height="0.7"/><rect x="569" y="564.0" width="1" height="1.2"/><rect x="571" y="564.0" width="1" height="0.8"/><rect x="572" y="563.5" width="1" height="1"/><rect x="575" y="563.2" width="1" height="0.8"/><rect x="577" y="562.7" width="1" height="1.3"/><rect x="578" y="562.1" width="1" height="1.9"/><rect x="579" y="561.7" width="1" height="2.3"/><rect x="581" y="562.6" width="1" height="1.4"/><rect x="584" y="563.5" width="1" height="1"/><rect x="587" y="563.5" width="1" height="1"/><rect x="590" y="563.5" width="1" height="1"/><rect x="592" y="563.5" width="1" height="1"/><rect x="595" y="563.5" width="1" height="1"/><rect x="598" y="563.5" width="1" height="1"/><rect x="601" y="563.5" width="1" height="1"/><rect x="604" y="563.5" width="1" height="1"/><rect x="607" y="563.5" width="1" height="1"/><rect x="610" y="563.5" width="1" height="1"/><rect x="613" y="563.5" width="1" height="1"/><rect x="615" y="563.5" width="1" height="1"/><rect x="618" y="563.5" width="1" height="1"/><rect x="621" y="563.5" width="1" height="1"/><rect x="624" y="563.5" width="1" height="1"/><rect x="627" y="563.5" width="1" height="1"/><rect x="630" y="563.5" width="1" height="1"/><rect x="633" y="563.5" width="1" height="1"/><rect x="636" y="563.5" width="1" height="1"/><rect x="638" y="563.5" width="1" height="1"/><rect x="641" y="563.5" width="1" height="1"/><rect x="644" y="563.5" width="1" height="1"/><rect x="647" y="563.5" width="1" height="1"/><rect x="650" y="563.5" width="1" height="1"/><rect x="653" y="563.5" width="1" height="1"/><rect x="656" y="563.5" width="1" height="1"/><rect x="659" y="563.5" width="1" height="1"/><rect x="662" y="563.5" width="1" height="1"/><rect x="664" y="563.5" width="1" height="1"/><rect x="667" y="563.5" width="1" height="1"/><rect x="669" y="564.0" width="1" height="0.7"/><rect x="670" y="564.0" width="1" height="1.1"/><rect x="672" y="564.0" width="1" height="1.5"/><rect x="673" y="564.0" width="1" height="1.8"/><rect x="674" y="564.0" width="1" height="1.8"/><rect x="676" y="564.0" width="1" height="1.7"/><rect x="677" y="564.0" width="1" height="1.6"/><rect x="679" y="564.0" width="1" height="1.4"/><rect x="680" y="564.0" width="1" height="1.3"/><rect x="682" y="564.0" width="1" height="1.2"/><rect x="683" y="564.0" width="1" height="1.0"/><rect x="685" y="563.5" width="1" height="1"/><rect x="686" y="563.0" width="1" height="1.0"/><rect x="687" y="562.0" width="1" height="2.0"/><rect x="689" y="561.0" width="1" height="3.0"/><rect x="690" y="560.6" width="1" height="3.4"/><rect x="692" y="560.6" width="1" height="3.4"/><rect x="693" y="560.6" width="1" height="3.4"/><rect x="695" y="560.6" width="1" height="3.4"/><rect x="696" y="560.6" width="1" height="3.4"/><rect x="698" y="560.5" width="1" height="3.5"/><rect x="699" y="560.4" width="1" height="3.6"/><rect x="700" y="560.5" width="1" height="3.5"/><rect x="702" y="560.7" width="1" height="3.3"/><rect x="703" y="560.8" width="1" height="3.2"/><rect x="705" y="560.9" width="1" height="3.1"/><rect x="706" y="561.1" width="1" height="2.9"/><rect x="708" y="561.2" width="1" height="2.8"/><rect x="709" y="561.3" width="1" height="2.7"/><rect x="710" y="561.5" width="1" height="2.5"/><rect x="712" y="561.6" width="1" height="2.4"/><rect x="713" y="561.0" width="1" height="3.0"/><rect x="715" y="560.4" width="1" height="3.6"/><rect x="716" y="560.7" width="1" height="3.3"/><rect x="718" y="561.5" width="1" height="2.5"/><rect x="719" y="562.3" width="1" height="1.7"/><rect x="721" y="563.1" width="1" height="0.9"/><rect x="723" y="564.0" width="1" height="0.8"/><rect x="726" y="563.5" width="1" height="1"/><rect x="729" y="563.5" width="1" height="1"/><rect x="731" y="563.3" width="1" height="0.7"/><rect x="732" y="563.2" width="1" height="0.8"/><rect x="734" y="563.2" width="1" height="0.8"/><rect x="735" y="563.1" width="1" height="0.9"/><rect x="736" y="563.1" width="1" height="0.9"/><rect x="738" y="563.1" width="1" height="0.9"/><rect x="739" y="563.0" width="1" height="1.0"/><rect x="741" y="563.0" width="1" height="1.0"/><rect x="742" y="562.9" width="1" height="1.1"/><rect x="744" y="562.9" width="1" height="1.1"/><rect x="745" y="562.8" width="1" height="1.2"/><rect x="746" y="562.7" width="1" height="1.3"/><rect x="748" y="562.5" width="1" height="1.5"/><rect x="749" y="562.4" width="1" height="1.6"/><rect x="751" y="563.3" width="1" height="0.7"/><rect x="752" y="564.0" width="1" height="1.1"/><rect x="754" y="564.0" width="1" height="2.9"/><rect x="755" y="564.0" width="1" height="4.5"/><rect x="757" y="564.0" width="1" height="5.0"/><rect x="758" y="564.0" width="1" height="5.4"/><rect x="759" y="564.0" width="1" height="5.9"/><rect x="761" y="564.0" width="1" height="5.2"/><rect x="762" y="564.0" width="1" height="3.9"/><rect x="764" y="564.0" width="1" height="2.5"/><rect x="765" y="564.0" width="1" height="1.3"/><rect x="767" y="564.0" width="1" height="1.5"/><rect x="768" y="564.0" width="1" height="1.7"/><rect x="770" y="564.0" width="1" height="1.9"/><rect x="771" y="564.0" width="1" height="2.1"/><rect x="772" y="564.0" width="1" height="2.2"/><rect x="774" y="564.0" width="1" height="2.4"/><rect x="775" y="564.0" width="1" height="2.4"/><rect x="777" y="564.0" width="1" height="1.7"/><rect x="778" y="564.0" width="1" height="0.9"/><rect x="781" y="563.5" width="1" height="1"/><rect x="782" y="563.3" width="1" height="0.7"/><rect x="784" y="562.9" width="1" height="1.1"/><rect x="785" y="562.5" width="1" height="1.5"/><rect x="787" y="562.1" width="1" height="1.9"/><rect x="788" y="561.7" width="1" height="2.3"/><rect x="790" y="561.3" width="1" height="2.7"/><rect x="791" y="562.3" width="1" height="1.7"/><rect x="793" y="563.5" width="1" height="1"/><rect x="794" y="564.0" width="1" height="0.8"/><rect x="795" y="564.0" width="1" height="1.8"/><rect x="797" y="564.0" width="1" height="1.2"/><rect x="798" y="564.0" width="1" height="2.1"/><rect x="800" y="564.0" width="1" height="4.9"/><rect x="801" y="564.0" width="1" height="7.8"/><rect x="803" y="564.0" width="1" height="10.7"/><rect x="804" y="564.0" width="1" height="11.2"/><rect x="806" y="564.0" width="1" height="11.3"/><rect x="807" y="564.0" width="1" height="10.9"/><rect x="808" y="564.0" width="1" height="10.5"/><rect x="810" y="564.0" width="1" height="10.1"/><rect x="811" y="564.0" width="1" height="9.0"/><rect x="813" y="564.0" width="1" height="7.4"/><rect x="814" y="564.0" width="1" height="5.4"/><rect x="816" y="563.5" width="1" height="1"/><rect x="817" y="561.2" width="1" height="2.8"/><rect x="818" y="558.3" width="1" height="5.7"/><rect x="820" y="555.4" width="1" height="8.6"/><rect x="821" y="553.2" width="1" height="10.8"/><rect x="823" y="551.4" width="1" height="12.6"/><rect x="824" y="551.6" width="1" height="12.4"/><rect x="826" y="551.8" width="1" height="12.2"/><rect x="827" y="552.0" width="1" height="12.0"/><rect x="829" y="553.1" width="1" height="10.9"/><rect x="830" y="555.2" width="1" height="8.8"/><rect x="831" y="557.3" width="1" height="6.7"/><rect x="833" y="559.4" width="1" height="4.6"/><rect x="834" y="559.1" width="1" height="4.9"/><rect x="836" y="559.1" width="1" height="4.9"/><rect x="837" y="559.9" width="1" height="4.1"/><rect x="839" y="560.7" width="1" height="3.3"/><rect x="840" y="561.6" width="1" height="2.4"/><rect x="842" y="562.4" width="1" height="1.6"/><rect x="843" y="563.2" width="1" height="0.8"/><rect x="844" y="563.5" width="1" height="1"/><rect x="846" y="564.0" width="1" height="0.8"/><rect x="847" y="564.0" width="1" height="1.4"/><rect x="849" y="564.0" width="1" height="2.0"/><rect x="850" y="564.0" width="1" height="2.7"/><rect x="852" y="564.0" width="1" height="3.3"/><rect x="853" y="564.0" width="1" height="3.9"/><rect x="854" y="564.0" width="1" height="4.5"/><rect x="856" y="564.0" width="1" height="5.1"/><rect x="857" y="564.0" width="1" height="5.6"/><rect x="859" y="564.0" width="1" height="6.0"/><rect x="860" y="564.0" width="1" height="6.3"/><rect x="862" y="564.0" width="1" height="6.6"/><rect x="863" y="564.0" width="1" height="4.2"/><rect x="865" y="564.0" width="1" height="1.7"/><rect x="866" y="563.3" width="1" height="0.7"/><rect x="867" y="560.8" width="1" height="3.2"/><rect x="869" y="559.9" width="1" height="4.1"/><rect x="870" y="560.1" width="1" height="3.9"/><rect x="872" y="560.3" width="1" height="3.7"/><rect x="873" y="560.5" width="1" height="3.5"/><rect x="875" y="560.7" width="1" height="3.3"/><rect x="876" y="561.1" width="1" height="2.9"/><rect x="878" y="561.9" width="1" height="2.1"/><rect x="879" y="562.8" width="1" height="1.2"/><rect x="882" y="563.5" width="1" height="1"/><rect x="885" y="564.0" width="1" height="0.8"/><rect x="886" y="564.0" width="1" height="1.0"/><rect x="888" y="564.0" width="1" height="0.9"/><rect x="889" y="564.0" width="1" height="0.7"/><rect x="890" y="563.5" width="1" height="1"/><rect x="893" y="563.5" width="1" height="1"/><rect x="896" y="563.5" width="1" height="1"/><rect x="898" y="564.0" width="1" height="1.4"/><rect x="899" y="564.0" width="1" height="2.3"/><rect x="901" y="564.0" width="1" height="3.3"/><rect x="902" y="564.0" width="1" height="4.2"/><rect x="903" y="564.0" width="1" height="4.6"/><rect x="905" y="564.0" width="1" height="2.2"/><rect x="908" y="562.1" width="1" height="1.9"/><rect x="909" y="561.9" width="1" height="2.1"/><rect x="911" y="562.4" width="1" height="1.6"/><rect x="912" y="563.0" width="1" height="1.0"/><rect x="914" y="563.1" width="1" height="0.9"/><rect x="915" y="562.2" width="1" height="1.8"/><rect x="916" y="561.2" width="1" height="2.8"/></g><polyline points="0.0,560.5 9.7,559.2 19.4,552.7 29.1,550.3 40.5,551.1 56.7,554.3 72.9,557.6 89.0,559.2 105.3,562.1 121.5,562.1 137.7,561.1 150.0,563.0 180.4,564.9 210.0,564.5 241.1,563.0 256.3,560.6 271.5,561.8 286.7,563.6 295.8,559.7 304.9,554.5 314.0,552.1 323.1,550.6 332.2,555.1 341.3,562.7 350.4,566.7 359.5,565.8 368.6,564.9 380.8,567.3 389.9,568.8 399.0,565.8 408.1,561.8 417.2,560.6 426.3,562.7 438.5,564.9 459.4,562.4 478.9,563.4 498.3,565.7 517.7,567.6 533.9,565.0 550.1,562.4 566.3,563.1 582.5,559.2 602.0,561.5 621.4,562.4 647.3,563.7 666.7,565.7 683.0,565.0 695.9,560.8 712.1,556.0 728.3,556.6 744.5,556.0 755.0,558.0 765.0,565.6 780.2,566.8 795.2,565.6 805.3,573.1 815.3,583.2 822.8,580.6 832.9,568.0 845.4,565.6 858.0,568.0 868.0,570.6 880.6,567.6 895.6,566.8 905.7,569.4 917.0,570.0" fill="none" stroke="#ff3030" stroke-width="1" stroke-linejoin="round" /><polyline points="0.0,560.0 6.5,558.4 13.0,554.3 22.7,549.5 29.1,549.5 37.2,551.1 48.6,554.3 64.8,556.8 81.0,559.2 97.2,561.6 106.9,563.7 116.6,562.4 126.3,560.5 132.8,560.8 142.5,561.6 150.0,562.7 168.2,565.8 180.0,565.0 210.7,564.3 235.0,563.6 247.2,561.8 256.3,559.7 268.4,561.2 280.6,562.7 288.2,562.7 292.7,556.7 301.8,553.6 311.0,551.5 320.0,549.0 324.6,550.6 332.2,558.2 341.3,565.8 350.4,568.8 359.5,562.7 368.6,564.3 377.8,566.7 386.9,571.0 396.0,567.3 405.0,561.2 414.2,560.6 423.3,562.7 432.4,565.8 440.0,567.3 453.0,564.0 462.7,562.4 472.4,563.4 488.6,564.0 501.5,567.3 511.3,568.3 527.5,567.3 537.2,564.0 545.3,561.8 556.6,563.4 569.6,563.1 579.3,558.5 589.0,559.8 602.0,561.8 621.4,562.4 640.8,563.1 660.2,565.0 673.2,566.6 683.0,565.7 689.4,560.8 699.1,557.6 708.8,555.3 715.3,553.7 723.4,556.9 731.5,556.0 744.5,555.3 750.0,556.0 760.0,565.6 775.0,568.0 790.0,564.3 797.7,568.0 802.8,578.1 810.3,584.4 814.0,585.7 820.3,575.6 827.9,566.8 835.4,564.3 845.4,566.0 855.5,570.6 861.7,573.1 868.0,568.0 875.5,566.8 885.6,568.0 895.6,566.8 903.2,571.9 908.2,568.0 913.2,569.4 917.0,568.0" fill="none" stroke="#4d4dff" stroke-width="1" stroke-linejoin="round" /></g>
<rect x="931" y="588" width="49" height="1.5" fill="#ff0000"/>
<rect x="931" y="556" width="45" height="16" fill="#ff0000"/><rect x="931" y="563" width="3" height="1" fill="#fff"/><text font-family="Liberation Sans, Arial, sans-serif" font-size="11" font-weight="bold" fill="#fff" x="938" y="568.0">0.1867</text>
<rect x="931" y="572" width="47" height="16" fill="#0000ff"/><rect x="931" y="579" width="3" height="1" fill="#fff"/><text font-family="Liberation Sans, Arial, sans-serif" font-size="11" font-weight="bold" fill="#fff" x="938" y="584.0">-3.7111</text>
<g font-family="Liberation Sans, Arial, sans-serif" font-size="12" fill="#555"><rect x="33" y="592" width="1" height="3" fill="#4d4d4d"/><text x="32.9" y="606.6" text-anchor="middle">18:00</text><rect x="119" y="592" width="1" height="3" fill="#4d4d4d"/><text x="118.9" y="606.6" text-anchor="middle" font-weight="bold">4</text><rect x="222" y="592" width="1" height="3" fill="#4d4d4d"/><text x="221.7" y="606.6" text-anchor="middle">06:00</text><rect x="326" y="592" width="1" height="3" fill="#4d4d4d"/><text x="326.0" y="606.6" text-anchor="middle">12:00</text><rect x="430" y="592" width="1" height="3" fill="#4d4d4d"/><text x="430.2" y="606.6" text-anchor="middle">18:00</text><rect x="533" y="592" width="1" height="3" fill="#4d4d4d"/><text x="532.8" y="606.6" text-anchor="middle" font-weight="bold">5</text><rect x="637" y="592" width="1" height="3" fill="#4d4d4d"/><text x="637.2" y="606.6" text-anchor="middle">06:00</text><rect x="740" y="592" width="1" height="3" fill="#4d4d4d"/><text x="740.5" y="606.6" text-anchor="middle">12:00</text><rect x="844" y="592" width="1" height="3" fill="#4d4d4d"/><text x="844.3" y="606.6" text-anchor="middle">18:00</text><text x="916" y="606.6">23:</text></g>
<rect x="931" y="592" width="51" height="15" fill="#fff"/>
<g><rect x="6.5" y="16" width="12" height="12" rx="1" fill="none" stroke="#555" stroke-width="1"/><rect x="8" y="21" width="9" height="1.2" fill="#555"/><text x="25" y="28" font-family="DejaVu Sans, sans-serif" font-size="15.4" fill="#3c3c3c" stroke="#3c3c3c" stroke-width="0.25" textLength="141.5" lengthAdjust="spacingAndGlyphs">CAC 40 Futures, 5,</text><path d="M171 20L179 20L175.0 24.0Z" fill="#b8b8b8"/><rect x="189" y="15" width="14" height="14" fill="#d6d6d6"/><path d="M190.4 22.0Q196.0 13.8 201.6 22.0Q196.0 30.2 190.4 22.0Z" fill="#fff"/><circle cx="196.0" cy="22.0" r="2.3" fill="none" stroke="#d6d6d6" stroke-width="1.4"/><rect x="206" y="15" width="14" height="14" fill="#d6d6d6"/><polygon points="218.30,23.05 216.24,24.17 216.00,26.49 213.76,25.83 211.95,27.30 210.83,25.24 208.51,25.00 209.17,22.76 207.70,20.95 209.76,19.83 210.00,17.51 212.24,18.17 214.05,16.70 215.17,18.76 217.49,19.00 216.83,21.24" fill="#fff"/><circle cx="213.0" cy="22.0" r="1.6" fill="#d6d6d6"/><text x="227.5" y="28.5" font-family="DejaVu Sans Condensed, DejaVu Sans, sans-serif" font-size="14" fill="#555">O</text><text x="239.5" y="28.5" font-family="DejaVu Sans Condensed, DejaVu Sans, sans-serif" font-size="14" fill="#862b2b">7754.1</text><text x="294.3" y="28.5" font-family="DejaVu Sans Condensed, DejaVu Sans, sans-serif" font-size="14" fill="#555">H</text><text x="304.8" y="28.5" font-family="DejaVu Sans Condensed, DejaVu Sans, sans-serif" font-size="14" fill="#862b2b">7754.4</text><text x="359.3" y="28.5" font-family="DejaVu Sans Condensed, DejaVu Sans, sans-serif" font-size="14" fill="#555">B</text><text x="369.7" y="28.5" font-family="DejaVu Sans Condensed, DejaVu Sans, sans-serif" font-size="14" fill="#862b2b">7744.8</text><text x="423" y="28.5" font-family="DejaVu Sans Condensed, DejaVu Sans, sans-serif" font-size="14" fill="#555">C</text><text x="433.9" y="28.5" font-family="DejaVu Sans Condensed, DejaVu Sans, sans-serif" font-size="14" fill="#862b2b">7748.3</text><text x="6" y="47" font-family="DejaVu Sans Condensed, DejaVu Sans, sans-serif" font-size="12" fill="#4a4a4a" textLength="20.5" lengthAdjust="spacingAndGlyphs">SAR</text><path d="M30.4 41.5L37.4 41.5L33.9 45.0Z" fill="#b8b8b8"/><rect x="48" y="36" width="14" height="14" fill="#d6d6d6"/><path d="M49.4 43.0Q55.0 34.8 60.6 43.0Q55.0 51.2 49.4 43.0Z" fill="#fff"/><circle cx="55.0" cy="43.0" r="2.3" fill="none" stroke="#d6d6d6" stroke-width="1.4"/><rect x="65" y="36" width="14" height="14" fill="#d6d6d6"/><polygon points="77.30,44.05 75.24,45.17 75.00,47.49 72.76,46.83 70.95,48.30 69.83,46.24 67.51,46.00 68.17,43.76 66.70,41.95 68.76,40.83 69.00,38.51 71.24,39.17 73.05,37.70 74.17,39.76 76.49,40.00 75.83,42.24" fill="#fff"/><circle cx="72.0" cy="43.0" r="1.6" fill="#d6d6d6"/><rect x="82" y="36" width="14" height="14" fill="#d6d6d6"/><path d="M84.5 38.5L93.5 47.5M93.5 38.5L84.5 47.5" stroke="#fff" stroke-width="1.4"/><text x="6" y="67.5" font-family="DejaVu Sans Condensed, DejaVu Sans, sans-serif" font-size="12" fill="#4a4a4a" textLength="16.2" lengthAdjust="spacingAndGlyphs">MA</text><path d="M26.6 62.0L33.6 62.0L30.1 65.5Z" fill="#b8b8b8"/><rect x="44.3" y="56.5" width="14" height="14" fill="#d6d6d6"/><path d="M45.7 63.5Q51.3 55.3 56.9 63.5Q51.3 71.7 45.7 63.5Z" fill="#fff"/><circle cx="51.3" cy="63.5" r="2.3" fill="none" stroke="#d6d6d6" stroke-width="1.4"/><rect x="61.3" y="56.5" width="14" height="14" fill="#d6d6d6"/><polygon points="73.60,64.55 71.54,65.67 71.30,67.99 69.06,67.33 67.25,68.80 66.13,66.74 63.81,66.50 64.47,64.26 63.00,62.45 65.06,61.33 65.30,59.01 67.54,59.67 69.35,58.20 70.47,60.26 72.79,60.50 72.13,62.74" fill="#fff"/><circle cx="68.3" cy="63.5" r="1.6" fill="#d6d6d6"/><rect x="78.3" y="56.5" width="14" height="14" fill="#d6d6d6"/><path d="M80.8 59.0L89.8 68.0M89.8 59.0L80.8 68.0" stroke="#fff" stroke-width="1.4"/><text x="6" y="87.5" font-family="DejaVu Sans Condensed, DejaVu Sans, sans-serif" font-size="12" fill="#4a4a4a" textLength="13.7" lengthAdjust="spacingAndGlyphs">BB</text><path d="M24.5 82.0L31.5 82.0L28.0 85.5Z" fill="#b8b8b8"/><rect x="42.3" y="76.5" width="14" height="14" fill="#d6d6d6"/><path d="M43.7 83.5Q49.3 75.3 54.9 83.5Q49.3 91.7 43.7 83.5Z" fill="#fff"/><circle cx="49.3" cy="83.5" r="2.3" fill="none" stroke="#d6d6d6" stroke-width="1.4"/><rect x="59.3" y="76.5" width="14" height="14" fill="#d6d6d6"/><polygon points="71.60,84.55 69.54,85.67 69.30,87.99 67.06,87.33 65.25,88.80 64.13,86.74 61.81,86.50 62.47,84.26 61.00,82.45 63.06,81.33 63.30,79.01 65.54,79.67 67.35,78.20 68.47,80.26 70.79,80.50 70.13,82.74" fill="#fff"/><circle cx="66.3" cy="83.5" r="1.6" fill="#d6d6d6"/><rect x="76.3" y="76.5" width="14" height="14" fill="#d6d6d6"/><path d="M78.8 79.0L87.8 88.0M87.8 79.0L78.8 88.0" stroke="#fff" stroke-width="1.4"/></g>
<text x="5.5" y="532.5" font-family="DejaVu Sans Condensed, DejaVu Sans, sans-serif" font-size="12" fill="#4a4a4a" textLength="50" lengthAdjust="spacingAndGlyphs">Stoch RSI</text><path d="M59.5 527L66 527L62.8 530.2Z" fill="#b8b8b8"/><g opacity="0.6"><rect x="77" y="521.5" width="14" height="14" fill="#c4c4c4"/><path d="M78.4 528.5Q84.0 520.3 89.6 528.5Q84.0 536.7 78.4 528.5Z" fill="#fff"/><circle cx="84.0" cy="528.5" r="2.3" fill="none" stroke="#c4c4c4" stroke-width="1.4"/><rect x="94" y="521.5" width="14" height="14" fill="#c4c4c4"/><polygon points="106.30,529.55 104.24,530.67 104.00,532.99 101.76,532.33 99.95,533.80 98.83,531.74 96.51,531.50 97.17,529.26 95.70,527.45 97.76,526.33 98.00,524.01 100.24,524.67 102.05,523.20 103.17,525.26 105.49,525.50 104.83,527.74" fill="#fff"/><circle cx="101.0" cy="528.5" r="1.6" fill="#c4c4c4"/><rect x="111.5" y="521.5" width="14" height="14" fill="#c4c4c4"/><path d="M114.0 524.0L123.0 533.0M123.0 524.0L114.0 533.0" stroke="#fff" stroke-width="1.4"/></g><text x="5.5" y="563.5" font-family="DejaVu Sans Condensed, DejaVu Sans, sans-serif" font-size="12" fill="#4a4a4a" textLength="31" lengthAdjust="spacingAndGlyphs">MACD</text><path d="M40 558.5L47 558.5L43.5 562.0Z" fill="#b8b8b8"/><g opacity="0.6"><rect x="58" y="552" width="14" height="14" fill="#c4c4c4"/><path d="M59.4 559.0Q65.0 550.8 70.6 559.0Q65.0 567.2 59.4 559.0Z" fill="#fff"/><circle cx="65.0" cy="559.0" r="2.3" fill="none" stroke="#c4c4c4" stroke-width="1.4"/><rect x="75" y="552" width="14" height="14" fill="#c4c4c4"/><polygon points="87.30,560.05 85.24,561.17 85.00,563.49 82.76,562.83 80.95,564.30 79.83,562.24 77.51,562.00 78.17,559.76 76.70,557.95 78.76,556.83 79.00,554.51 81.24,555.17 83.05,553.70 84.17,555.76 86.49,556.00 85.83,558.24" fill="#fff"/><circle cx="82.0" cy="559.0" r="1.6" fill="#c4c4c4"/><rect x="92" y="552" width="14" height="14" fill="#c4c4c4"/><path d="M94.5 554.5L103.5 563.5M103.5 554.5L94.5 563.5" stroke="#fff" stroke-width="1.4"/></g>
<rect x="14" y="476" width="7" height="15" fill="#111"/><rect x="99" y="478" width="6" height="14" fill="#111"/><text x="104" y="491" font-family="Liberation Sans, Arial, sans-serif" font-size="14" fill="#666">.com</text><rect x="21" y="448" width="81" height="62" fill="#000" opacity="0.35" filter="url(#sh)"/><defs><linearGradient id="bgk" x1="0" y1="0" x2="1" y2="1"><stop offset="0" stop-color="#3db3dc"/><stop offset="0.55" stop-color="#84d9ee"/><stop offset="1" stop-color="#2b9ecb"/></linearGradient><radialGradient id="bgr" cx="0.75" cy="0.35" r="0.6"><stop offset="0" stop-color="#a6ecf6" stop-opacity="0.9"/><stop offset="1" stop-color="#a6ecf6" stop-opacity="0"/></radialGradient></defs><rect x="20.3" y="446" width="80.7" height="61.7" fill="url(#bgk)"/><rect x="20.3" y="446" width="80.7" height="61.7" fill="url(#bgr)"/><path d="M33.6 446 L33.6 476 Q34 487.5 43 487 Q49.5 486 51.5 478" fill="none" stroke="#3d3e27" stroke-width="10.8"/><path d="M33.6 446 L33.6 476 Q34 487.5 43 487 Q49.5 486 51.5 478" fill="none" stroke="#8d8658" stroke-width="8.8"/><path d="M31 449 L36.5 452 L31 455 M36.5 457 L31 460 L36.5 463 M31 466 L36.5 469 L31.5 472 M32 476 L37 479 L34 483 M39 482 L42 486 L45 482" fill="none" stroke="#62592f" stroke-width="1.6" opacity="0.85"/><path d="M48.5 460 Q45.5 468 47 478 Q48.5 486 53 490 Q57.5 492.5 62 489.5 Q69 485 76 481 L82.5 477.5 L79 473 Q70 468 62 466 Q54 462 51 458Z" fill="#a7b09a" stroke="#444a38" stroke-width="0.8"/><path d="M50 470 Q53 480 58 486 M55 468 Q59 478 64 484 M60 470 Q64 478 70 482" fill="none" stroke="#7f8874" stroke-width="0.6"/><path d="M51.5 472 Q51 484 54.5 491 Q57.5 491.5 57.5 488 Q55.5 481 55 472Z" fill="#dcebdc" stroke="#8fa090" stroke-width="0.4"/><path d="M50 459 Q51 455 55 455 L58 453.5 L61 455 Q64 453 67 452.6 L69.5 452.3 Q72.5 453 73.5 456 Q75.5 459 75.5 463 L83.8 476.2 Q81 478.5 76 477 Q70 474.5 64 470.5 Q57 468 53 465 Q50 462 50 459Z" fill="#5a4f22" stroke="#352e12" stroke-width="0.7"/><path d="M64 471 Q72 474.5 83.8 476.2 L81.5 479 Q74 479.5 67 475Z" fill="#8a8a66"/><ellipse cx="61.6" cy="464.3" rx="4.1" ry="2.5" fill="#ebe43c"/><ellipse cx="69.4" cy="463" rx="3.3" ry="2.6" fill="#ebe43c"/><path d="M57.3 463.3 Q61.5 460.5 65.8 463.2 L65.8 461.5 L57.3 461.5Z M66 462 Q69.5 459.6 72.8 461.8 L72.8 460 L66 460Z" fill="#5a4f22"/><circle cx="63.4" cy="464.6" r="0.9" fill="#2a2a10"/><circle cx="70.8" cy="463.4" r="0.9" fill="#2a2a10"/><path d="M65.3 487.3 L70.5 494.5 L75.5 494.3Z" fill="#a5cd3e" stroke="#6b8b22" stroke-width="0.5"/><ellipse cx="79.3" cy="499.6" rx="16.6" ry="5.8" fill="#a5cd3e" stroke="#6b8b22" stroke-width="0.6"/><text x="79.6" y="500.8" text-anchor="middle" font-family="Liberation Sans, Arial, sans-serif" font-size="3.3" font-weight="bold" fill="#3a4418">RIS CONFIANCE !</text><path d="M23 505 Q26 502 29 504 Q32 501.5 35 504 M25 506.5 Q30 505 34 506.5" fill="none" stroke="#2c7ea3" stroke-width="0.6" opacity="0.7"/>
</svg>
</div></body></html>
